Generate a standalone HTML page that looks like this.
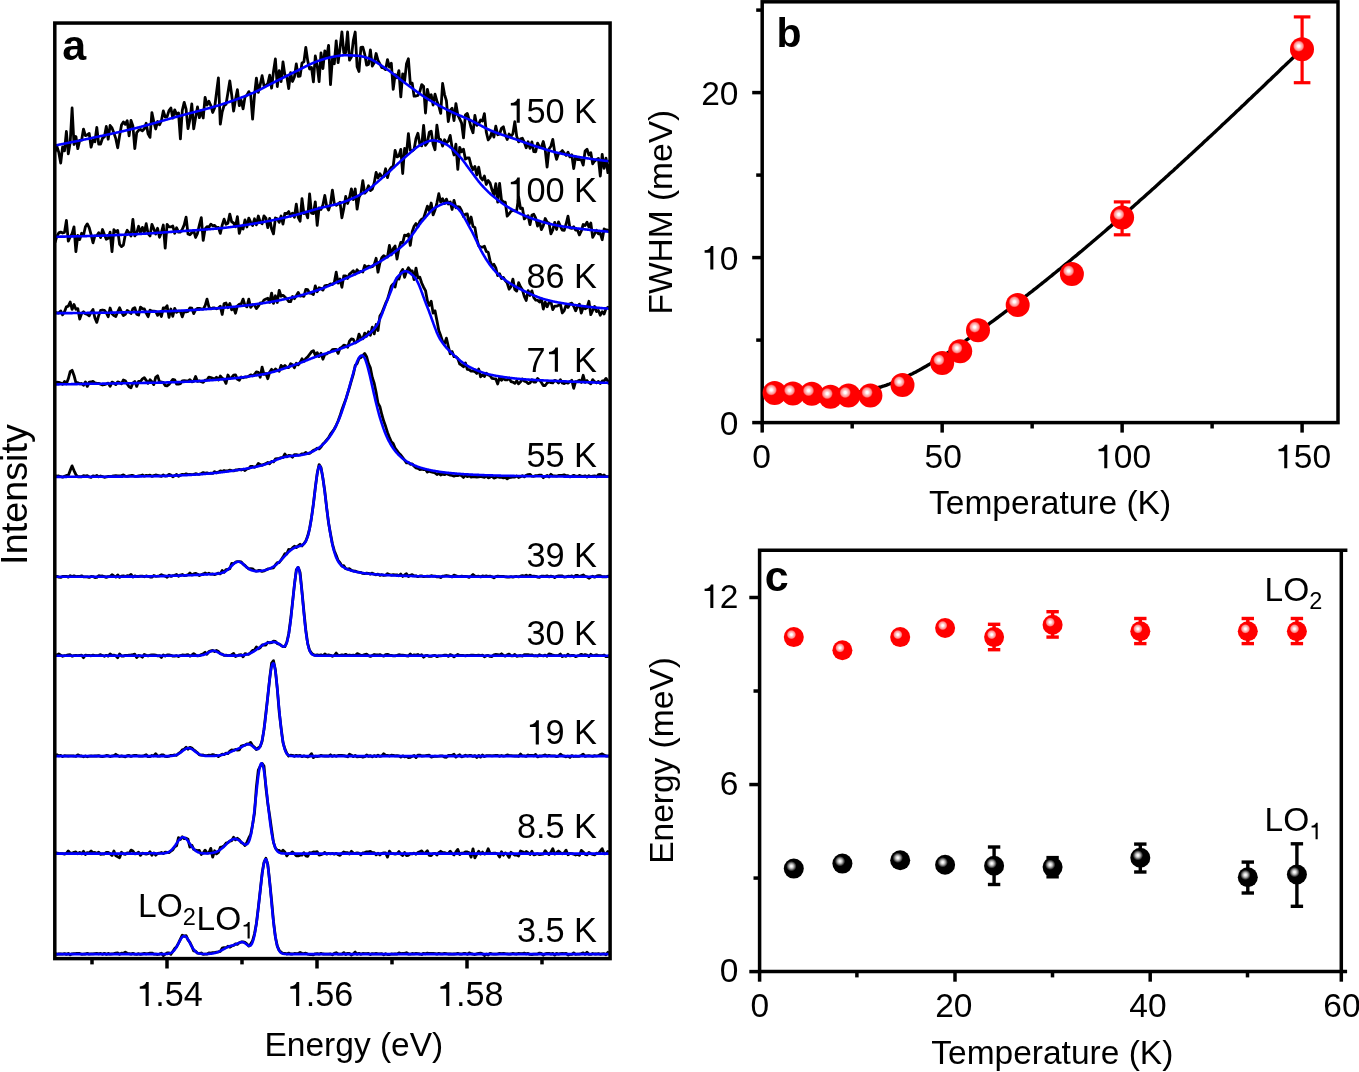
<!DOCTYPE html><html><head><meta charset="utf-8"><style>html,body{margin:0;padding:0;background:#fff;overflow:hidden}svg{display:block;will-change:transform}</style></head><body>
<svg width="1359" height="1072" viewBox="0 0 1359 1072" font-family='"Liberation Sans", sans-serif'>
<defs>
<radialGradient id="hr"><stop offset="0" stop-color="#fff"/><stop offset="0.18" stop-color="#fff"/><stop offset="0.45" stop-color="#ffc4c4"/><stop offset="0.75" stop-color="#ff8c8c"/><stop offset="0.9" stop-color="#ff3030"/><stop offset="1" stop-color="#f00"/></radialGradient>
<radialGradient id="hk"><stop offset="0" stop-color="#fff"/><stop offset="0.2" stop-color="#f0f0f0"/><stop offset="0.5" stop-color="#a8a8a8"/><stop offset="0.8" stop-color="#404040"/><stop offset="1" stop-color="#000"/></radialGradient>
<clipPath id="ca"><rect x="56" y="24" width="553" height="934"/></clipPath>
</defs>
<rect width="1359" height="1072" fill="#fff"/>
<g clip-path="url(#ca)" fill="none" stroke-linejoin="round">
<path d="M55.0 152.1L56.9 146.4L58.8 152.4L60.7 163.1L62.6 146.9L64.5 150.8L66.4 131.5L68.3 153.8L70.2 142.6L72.1 108.0L74.0 144.5L75.9 136.5L77.8 148.7L79.7 140.5L81.6 140.2L83.5 129.1L85.4 135.6L87.3 134.9L89.2 133.4L91.1 147.2L93.0 140.1L94.9 141.8L96.8 127.5L98.7 144.1L100.6 144.0L102.5 138.2L104.4 136.8L106.3 126.4L108.2 139.2L110.1 125.5L112.0 127.9L113.9 133.0L115.8 138.6L117.7 147.8L119.6 135.9L121.5 125.1L123.4 122.0L125.3 124.3L127.2 120.7L129.1 135.8L131.0 120.4L132.9 126.0L134.8 148.7L136.7 132.6L138.6 130.3L140.5 129.5L142.4 130.8L144.3 128.7L146.2 123.2L148.1 133.9L150.0 137.4L151.9 112.6L153.8 121.9L155.7 129.0L157.6 121.5L159.5 124.8L161.4 120.7L163.3 110.9L165.2 117.0L167.1 116.7L169.0 110.6L170.9 108.0L172.8 118.2L174.7 109.9L176.6 114.4L178.5 112.9L180.4 138.8L182.3 110.4L184.2 102.3L186.1 109.2L188.0 128.7L189.9 119.4L191.8 104.0L193.7 128.8L195.6 117.5L197.5 107.0L199.4 117.7L201.3 111.0L203.2 118.0L205.1 97.4L207.0 105.1L208.9 101.3L210.8 105.5L212.7 112.5L214.6 108.0L216.5 92.7L218.4 77.9L220.3 124.2L222.2 111.8L224.1 105.5L226.0 104.4L227.9 93.0L229.8 81.0L231.7 95.0L233.6 111.0L235.5 99.4L237.4 89.7L239.3 105.7L241.2 100.3L243.1 108.9L245.0 96.9L246.9 95.2L248.8 91.6L250.7 94.9L252.6 119.1L254.5 95.1L256.4 78.1L258.3 92.3L260.2 84.7L262.1 75.7L264.0 85.7L265.9 85.5L267.8 83.6L269.7 75.2L271.6 88.2L273.5 71.5L275.4 59.0L277.3 86.5L279.2 70.7L281.1 81.6L283.0 62.0L284.9 75.1L286.8 76.4L288.7 88.5L290.6 72.6L292.5 81.5L294.4 77.0L296.3 64.0L298.2 76.3L300.1 76.0L302.0 63.0L303.9 61.9L305.8 47.4L307.7 60.6L309.6 69.0L311.5 67.4L313.4 81.9L315.3 56.0L317.2 65.7L319.1 81.7L321.0 52.8L322.9 68.7L324.8 50.9L326.7 56.9L328.6 45.3L330.5 84.7L332.4 58.8L334.3 63.8L336.2 40.9L338.1 62.7L340.0 48.3L341.9 32.0L343.8 52.7L345.7 52.5L347.6 32.0L349.5 60.2L351.4 57.1L353.3 40.6L355.2 32.0L357.1 66.7L359.0 71.5L360.9 47.5L362.8 47.2L364.7 54.1L366.6 65.1L368.5 64.4L370.4 49.9L372.3 66.1L374.2 62.9L376.1 53.5L378.0 60.3L379.9 63.9L381.8 67.7L383.7 67.9L385.6 69.6L387.5 59.6L389.4 67.1L391.3 63.2L393.2 89.3L395.1 74.7L397.0 77.8L398.9 70.6L400.8 96.9L402.7 73.9L404.6 81.1L406.5 63.8L408.4 58.8L410.3 83.7L412.2 83.1L414.1 96.2L416.0 96.0L417.9 95.4L419.8 91.7L421.7 84.6L423.6 86.3L425.5 113.0L427.4 89.3L429.3 97.9L431.2 94.8L433.1 105.1L435.0 94.2L436.9 100.9L438.8 106.0L440.7 113.4L442.6 83.5L444.5 94.3L446.4 100.7L448.3 121.6L450.2 110.4L452.1 108.3L454.0 120.6L455.9 103.6L457.8 114.8L459.7 118.9L461.6 123.1L463.5 137.9L465.4 114.9L467.3 113.5L469.2 120.1L471.1 127.6L473.0 132.8L474.9 115.5L476.8 125.3L478.7 123.8L480.6 120.0L482.5 121.0L484.4 113.7L486.3 132.1L488.2 140.0L490.1 137.5L492.0 131.7L493.9 137.1L495.8 126.2L497.7 134.8L499.6 134.0L501.5 128.3L503.4 126.7L505.3 134.9L507.2 139.5L509.1 134.0L511.0 136.5L512.9 133.7L514.8 121.6L516.7 136.1L518.6 141.9L520.5 138.9L522.4 138.3L524.3 142.3L526.2 147.8L528.1 141.8L530.0 148.4L531.9 141.9L533.8 151.7L535.7 151.8L537.6 143.1L539.5 147.1L541.4 147.1L543.3 141.5L545.2 149.7L547.1 167.1L549.0 149.0L550.9 146.2L552.8 139.4L554.7 152.0L556.6 159.3L558.5 153.5L560.4 152.6L562.3 150.6L564.2 153.1L566.1 155.5L568.0 152.3L569.9 156.9L571.8 154.8L573.7 168.5L575.6 156.7L577.5 159.5L579.4 159.5L581.3 159.8L583.2 165.1L585.1 151.0L587.0 149.3L588.9 155.0L590.8 152.7L592.7 163.8L594.6 161.0L596.5 159.7L598.4 158.4L600.3 176.0L602.2 154.4L604.1 168.3L606.0 158.2L607.9 172.7L609.8 163.9" stroke="#000" stroke-width="2.8"/>
<path d="M55.0 242.5L56.9 236.2L58.8 232.9L60.7 232.1L62.6 233.0L64.5 232.4L66.4 220.4L68.3 241.1L70.2 236.9L72.1 233.6L74.0 226.9L75.9 251.6L77.8 235.5L79.7 239.6L81.6 233.3L83.5 235.2L85.4 226.7L87.3 223.9L89.2 227.7L91.1 234.6L93.0 242.8L94.9 235.9L96.8 235.7L98.7 232.7L100.6 237.6L102.5 229.5L104.4 234.6L106.3 239.2L108.2 238.3L110.1 232.1L112.0 251.6L113.9 229.6L115.8 232.0L117.7 230.4L119.6 244.3L121.5 246.6L123.4 245.1L125.3 234.7L127.2 230.3L129.1 232.8L131.0 236.1L132.9 219.3L134.8 235.9L136.7 233.1L138.6 226.3L140.5 232.6L142.4 227.4L144.3 232.4L146.2 223.7L148.1 233.6L150.0 235.9L151.9 224.4L153.8 228.7L155.7 234.1L157.6 228.3L159.5 237.3L161.4 232.4L163.3 225.0L165.2 248.2L167.1 224.5L169.0 226.8L170.9 226.9L172.8 226.0L174.7 233.3L176.6 227.8L178.5 232.1L180.4 232.0L182.3 229.3L184.2 224.9L186.1 217.2L188.0 234.0L189.9 234.8L191.8 232.7L193.7 230.6L195.6 237.5L197.5 233.3L199.4 224.9L201.3 217.7L203.2 240.4L205.1 228.8L207.0 226.6L208.9 227.3L210.8 224.1L212.7 225.8L214.6 225.3L216.5 227.7L218.4 227.3L220.3 233.4L222.2 225.1L224.1 219.2L226.0 224.2L227.9 223.2L229.8 214.1L231.7 221.8L233.6 223.0L235.5 226.7L237.4 216.6L239.3 233.4L241.2 226.3L243.1 229.0L245.0 219.8L246.9 227.0L248.8 218.1L250.7 222.1L252.6 225.5L254.5 218.8L256.4 224.8L258.3 216.0L260.2 222.0L262.1 223.7L264.0 215.9L265.9 218.1L267.8 227.7L269.7 218.4L271.6 229.1L273.5 233.9L275.4 218.0L277.3 218.7L279.2 222.4L281.1 216.0L283.0 224.1L284.9 213.3L286.8 213.7L288.7 211.6L290.6 216.2L292.5 213.1L294.4 217.2L296.3 204.1L298.2 217.4L300.1 221.2L302.0 198.7L303.9 213.6L305.8 212.1L307.7 217.9L309.6 193.9L311.5 213.1L313.4 213.6L315.3 201.8L317.2 225.4L319.1 207.8L321.0 209.4L322.9 205.0L324.8 195.4L326.7 206.2L328.6 210.0L330.5 203.8L332.4 190.2L334.3 203.5L336.2 205.3L338.1 204.0L340.0 202.2L341.9 217.8L343.8 208.4L345.7 196.5L347.6 203.5L349.5 197.5L351.4 188.8L353.3 199.6L355.2 188.9L357.1 209.2L359.0 197.3L360.9 193.6L362.8 180.7L364.7 193.2L366.6 191.3L368.5 185.8L370.4 190.6L372.3 189.2L374.2 182.9L376.1 172.5L378.0 178.0L379.9 173.8L381.8 176.7L383.7 176.6L385.6 168.8L387.5 177.6L389.4 170.2L391.3 167.4L393.2 166.3L395.1 150.4L397.0 156.9L398.9 156.0L400.8 149.4L402.7 173.5L404.6 148.5L406.5 153.7L408.4 133.6L410.3 150.3L412.2 150.8L414.1 149.3L416.0 138.4L417.9 133.3L419.8 144.3L421.7 145.8L423.6 125.5L425.5 145.3L427.4 142.6L429.3 132.3L431.2 131.2L433.1 144.1L435.0 149.7L436.9 125.1L438.8 138.5L440.7 139.6L442.6 146.1L444.5 139.8L446.4 143.0L448.3 141.3L450.2 135.4L452.1 147.6L454.0 155.0L455.9 144.2L457.8 169.4L459.7 147.3L461.6 151.7L463.5 149.2L465.4 159.2L467.3 157.9L469.2 158.0L471.1 165.6L473.0 169.6L474.9 166.5L476.8 174.9L478.7 167.2L480.6 177.7L482.5 179.9L484.4 176.0L486.3 184.5L488.2 180.5L490.1 183.1L492.0 189.8L493.9 194.8L495.8 183.7L497.7 202.0L499.6 183.3L501.5 200.1L503.4 201.8L505.3 202.2L507.2 216.2L509.1 213.9L511.0 211.2L512.9 210.4L514.8 210.9L516.7 210.6L518.6 197.1L520.5 208.5L522.4 208.1L524.3 218.9L526.2 217.0L528.1 215.7L530.0 224.7L531.9 215.0L533.8 214.3L535.7 218.2L537.6 226.1L539.5 221.4L541.4 229.6L543.3 225.7L545.2 218.5L547.1 222.2L549.0 223.1L550.9 233.8L552.8 229.9L554.7 222.4L556.6 229.5L558.5 221.9L560.4 226.3L562.3 230.2L564.2 230.4L566.1 224.0L568.0 216.1L569.9 227.8L571.8 228.4L573.7 226.7L575.6 230.1L577.5 229.9L579.4 234.9L581.3 231.0L583.2 224.5L585.1 225.5L587.0 222.3L588.9 227.0L590.8 223.0L592.7 237.3L594.6 233.8L596.5 230.3L598.4 233.9L600.3 233.3L602.2 239.7L604.1 229.0L606.0 229.9L607.9 230.2L609.8 232.2" stroke="#000" stroke-width="2.8"/>
<path d="M55.0 312.0L56.9 312.9L58.8 313.0L60.7 310.9L62.6 314.8L64.5 311.8L66.4 306.8L68.3 306.2L70.2 302.0L72.1 309.4L74.0 304.5L75.9 309.3L77.8 308.6L79.7 319.1L81.6 313.5L83.5 311.8L85.4 313.7L87.3 314.4L89.2 315.8L91.1 312.2L93.0 309.5L94.9 317.9L96.8 322.4L98.7 315.4L100.6 310.4L102.5 310.0L104.4 310.4L106.3 312.9L108.2 316.7L110.1 308.0L112.0 313.7L113.9 315.6L115.8 316.5L117.7 311.8L119.6 307.8L121.5 312.0L123.4 315.5L125.3 314.3L127.2 310.4L129.1 311.9L131.0 313.5L132.9 308.8L134.8 307.7L136.7 314.2L138.6 315.1L140.5 307.1L142.4 308.6L144.3 308.8L146.2 313.2L148.1 316.7L150.0 310.2L151.9 311.1L153.8 311.2L155.7 311.5L157.6 315.4L159.5 312.2L161.4 316.5L163.3 307.9L165.2 308.4L167.1 305.7L169.0 317.4L170.9 309.0L172.8 316.3L174.7 308.3L176.6 312.3L178.5 311.1L180.4 311.2L182.3 316.9L184.2 311.1L186.1 311.9L188.0 311.4L189.9 307.8L191.8 308.1L193.7 313.6L195.6 309.9L197.5 308.3L199.4 308.3L201.3 308.8L203.2 309.1L205.1 305.8L207.0 299.2L208.9 306.9L210.8 308.9L212.7 307.9L214.6 307.9L216.5 308.8L218.4 308.0L220.3 306.2L222.2 314.5L224.1 303.5L226.0 303.0L227.9 307.7L229.8 303.5L231.7 309.8L233.6 307.7L235.5 313.2L237.4 306.0L239.3 304.2L241.2 304.0L243.1 299.1L245.0 305.4L246.9 306.8L248.8 299.2L250.7 307.4L252.6 304.6L254.5 305.0L256.4 308.5L258.3 306.2L260.2 302.9L262.1 303.1L264.0 299.9L265.9 299.0L267.8 298.3L269.7 302.4L271.6 293.1L273.5 303.4L275.4 295.8L277.3 302.5L279.2 290.3L281.1 296.2L283.0 295.3L284.9 297.1L286.8 298.7L288.7 301.6L290.6 301.7L292.5 296.5L294.4 298.7L296.3 295.7L298.2 292.4L300.1 296.1L302.0 295.4L303.9 296.4L305.8 289.4L307.7 289.7L309.6 293.1L311.5 293.3L313.4 294.5L315.3 285.9L317.2 291.7L319.1 287.8L321.0 288.4L322.9 290.1L324.8 285.9L326.7 285.3L328.6 285.1L330.5 283.8L332.4 284.5L334.3 282.4L336.2 272.2L338.1 283.1L340.0 279.0L341.9 287.3L343.8 275.8L345.7 275.9L347.6 278.4L349.5 274.1L351.4 272.6L353.3 270.7L355.2 274.1L357.1 269.7L359.0 272.4L360.9 271.3L362.8 272.0L364.7 265.5L366.6 267.8L368.5 266.1L370.4 267.0L372.3 266.7L374.2 264.7L376.1 258.3L378.0 272.2L379.9 262.9L381.8 257.8L383.7 255.7L385.6 256.9L387.5 257.0L389.4 245.5L391.3 254.9L393.2 248.6L395.1 246.0L397.0 259.1L398.9 248.6L400.8 242.4L402.7 242.8L404.6 235.2L406.5 235.6L408.4 234.0L410.3 245.4L412.2 231.6L414.1 226.3L416.0 223.6L417.9 226.8L419.8 221.5L421.7 219.2L423.6 218.1L425.5 212.2L427.4 206.2L429.3 210.7L431.2 203.0L433.1 214.9L435.0 209.9L436.9 203.1L438.8 193.7L440.7 202.2L442.6 198.7L444.5 203.6L446.4 199.1L448.3 204.0L450.2 201.9L452.1 209.5L454.0 200.3L455.9 207.7L457.8 206.6L459.7 207.1L461.6 210.6L463.5 216.5L465.4 214.2L467.3 214.0L469.2 224.2L471.1 217.0L473.0 226.5L474.9 227.4L476.8 238.8L478.7 245.9L480.6 246.8L482.5 247.2L484.4 246.2L486.3 251.4L488.2 252.2L490.1 260.9L492.0 266.1L493.9 264.3L495.8 267.9L497.7 275.6L499.6 273.8L501.5 278.5L503.4 277.4L505.3 280.6L507.2 283.0L509.1 289.2L511.0 286.7L512.9 279.1L514.8 289.4L516.7 291.1L518.6 282.7L520.5 286.8L522.4 289.8L524.3 296.3L526.2 300.5L528.1 290.6L530.0 295.5L531.9 290.9L533.8 297.7L535.7 300.1L537.6 300.2L539.5 302.0L541.4 298.7L543.3 309.0L545.2 302.2L547.1 306.8L549.0 302.6L550.9 301.7L552.8 309.7L554.7 306.1L556.6 306.2L558.5 305.2L560.4 304.1L562.3 313.0L564.2 310.6L566.1 305.0L568.0 307.5L569.9 303.8L571.8 303.2L573.7 306.3L575.6 310.8L577.5 306.6L579.4 304.2L581.3 313.1L583.2 307.2L585.1 308.8L587.0 307.7L588.9 301.3L590.8 314.7L592.7 310.5L594.6 306.4L596.5 311.6L598.4 310.5L600.3 315.2L602.2 311.7L604.1 314.0L606.0 308.6L607.9 307.3L609.8 309.1" stroke="#000" stroke-width="2.8"/>
<path d="M55.0 384.4L56.9 382.2L58.8 382.3L60.7 383.0L62.6 384.2L64.5 381.5L66.4 383.8L68.3 378.8L70.2 371.7L72.1 370.3L74.0 375.4L75.9 382.6L77.8 382.7L79.7 383.8L81.6 383.5L83.5 385.2L85.4 381.9L87.3 386.4L89.2 382.1L91.1 382.0L93.0 381.4L94.9 382.8L96.8 383.3L98.7 383.4L100.6 384.2L102.5 385.0L104.4 384.6L106.3 384.0L108.2 383.1L110.1 386.3L112.0 382.1L113.9 383.1L115.8 384.6L117.7 381.9L119.6 382.6L121.5 383.8L123.4 380.0L125.3 380.7L127.2 384.0L129.1 386.8L131.0 387.8L132.9 383.1L134.8 381.5L136.7 386.4L138.6 381.3L140.5 381.5L142.4 378.9L144.3 377.7L146.2 380.3L148.1 383.4L150.0 379.8L151.9 381.8L153.8 384.6L155.7 377.4L157.6 375.7L159.5 381.8L161.4 382.0L163.3 382.4L165.2 385.5L167.1 385.8L169.0 384.4L170.9 381.8L172.8 379.5L174.7 379.8L176.6 384.1L178.5 384.2L180.4 383.7L182.3 380.8L184.2 380.6L186.1 380.9L188.0 381.2L189.9 379.7L191.8 381.8L193.7 381.3L195.6 376.5L197.5 381.4L199.4 380.9L201.3 381.7L203.2 382.3L205.1 380.2L207.0 380.0L208.9 377.1L210.8 377.5L212.7 378.3L214.6 379.1L216.5 377.2L218.4 380.1L220.3 376.0L222.2 378.1L224.1 379.3L226.0 383.4L227.9 375.0L229.8 378.4L231.7 377.5L233.6 375.2L235.5 374.8L237.4 379.3L239.3 380.3L241.2 376.9L243.1 377.8L245.0 377.0L246.9 377.1L248.8 376.2L250.7 374.8L252.6 375.9L254.5 374.5L256.4 371.8L258.3 372.4L260.2 377.3L262.1 367.1L264.0 374.4L265.9 373.5L267.8 378.7L269.7 372.0L271.6 369.3L273.5 371.5L275.4 369.0L277.3 370.4L279.2 371.2L281.1 365.4L283.0 367.2L284.9 365.4L286.8 367.5L288.7 367.7L290.6 363.8L292.5 364.8L294.4 367.8L296.3 363.3L298.2 364.8L300.1 362.3L302.0 358.8L303.9 361.4L305.8 358.5L307.7 356.9L309.6 354.4L311.5 351.8L313.4 350.6L315.3 355.2L317.2 352.7L319.1 356.6L321.0 353.2L322.9 359.2L324.8 354.5L326.7 354.0L328.6 352.4L330.5 351.9L332.4 349.7L334.3 349.3L336.2 349.5L338.1 353.4L340.0 348.2L341.9 347.2L343.8 345.1L345.7 345.5L347.6 347.3L349.5 341.1L351.4 338.8L353.3 339.4L355.2 342.9L357.1 341.6L359.0 334.2L360.9 338.0L362.8 338.8L364.7 333.1L366.6 336.2L368.5 331.8L370.4 335.2L372.3 327.1L374.2 333.9L376.1 324.5L378.0 330.5L379.9 316.0L381.8 313.1L383.7 308.3L385.6 303.4L387.5 299.3L389.4 292.9L391.3 286.1L393.2 284.0L395.1 287.0L397.0 277.8L398.9 279.1L400.8 272.5L402.7 269.4L404.6 277.3L406.5 271.5L408.4 267.8L410.3 270.6L412.2 270.8L414.1 279.6L416.0 268.1L417.9 278.0L419.8 277.1L421.7 283.0L423.6 287.2L425.5 290.6L427.4 300.8L429.3 305.5L431.2 301.2L433.1 313.1L435.0 310.8L436.9 320.5L438.8 330.5L440.7 335.6L442.6 341.5L444.5 343.7L446.4 338.1L448.3 346.2L450.2 353.9L452.1 351.5L454.0 356.7L455.9 356.7L457.8 358.6L459.7 364.1L461.6 365.1L463.5 366.8L465.4 362.9L467.3 369.4L469.2 369.6L471.1 371.2L473.0 370.9L474.9 371.6L476.8 373.4L478.7 369.0L480.6 376.9L482.5 374.9L484.4 376.5L486.3 373.2L488.2 375.0L490.1 375.7L492.0 378.3L493.9 378.7L495.8 379.0L497.7 384.0L499.6 377.0L501.5 380.3L503.4 378.3L505.3 379.8L507.2 379.9L509.1 378.0L511.0 381.6L512.9 382.1L514.8 383.3L516.7 380.8L518.6 383.9L520.5 381.9L522.4 379.0L524.3 381.1L526.2 381.8L528.1 383.6L530.0 382.9L531.9 379.8L533.8 382.0L535.7 382.2L537.6 378.5L539.5 380.2L541.4 382.4L543.3 385.5L545.2 385.5L547.1 383.0L549.0 381.8L550.9 382.6L552.8 382.9L554.7 380.4L556.6 381.1L558.5 383.0L560.4 379.6L562.3 383.0L564.2 383.6L566.1 382.4L568.0 383.2L569.9 381.7L571.8 380.3L573.7 388.3L575.6 381.6L577.5 381.3L579.4 380.3L581.3 382.4L583.2 375.3L585.1 382.4L587.0 380.6L588.9 382.6L590.8 383.8L592.7 379.6L594.6 381.6L596.5 382.8L598.4 381.5L600.3 383.4L602.2 381.0L604.1 380.9L606.0 378.4L607.9 381.1L609.8 384.3" stroke="#000" stroke-width="2.8"/>
<path d="M55.0 475.7L56.9 476.2L58.8 476.0L60.7 476.5L62.6 477.2L64.5 476.2L66.4 475.5L68.3 475.5L70.2 470.4L72.1 465.9L74.0 470.6L75.9 474.7L77.8 476.8L79.7 476.6L81.6 476.8L83.5 475.6L85.4 476.2L87.3 475.7L89.2 477.0L91.1 477.4L93.0 475.8L94.9 476.4L96.8 475.5L98.7 476.8L100.6 476.0L102.5 476.6L104.4 477.3L106.3 476.8L108.2 476.5L110.1 476.3L112.0 476.1L113.9 475.8L115.8 475.7L117.7 475.9L119.6 476.0L121.5 475.5L123.4 474.9L125.3 476.1L127.2 476.4L129.1 475.9L131.0 475.5L132.9 475.5L134.8 476.3L136.7 476.3L138.6 476.0L140.5 475.7L142.4 475.0L144.3 476.2L146.2 475.4L148.1 475.7L150.0 475.2L151.9 476.4L153.8 475.6L155.7 475.0L157.6 475.3L159.5 475.8L161.4 476.4L163.3 475.0L165.2 476.1L167.1 475.8L169.0 474.3L170.9 475.1L172.8 476.8L174.7 475.6L176.6 474.4L178.5 476.4L180.4 475.0L182.3 474.3L184.2 474.7L186.1 473.8L188.0 474.6L189.9 474.5L191.8 474.6L193.7 474.4L195.6 473.7L197.5 474.1L199.4 474.3L201.3 473.5L203.2 472.6L205.1 473.4L207.0 472.8L208.9 473.5L210.8 473.1L212.7 473.4L214.6 471.6L216.5 472.9L218.4 472.1L220.3 470.9L222.2 471.4L224.1 470.5L226.0 471.0L227.9 470.8L229.8 470.2L231.7 470.7L233.6 470.9L235.5 470.0L237.4 470.0L239.3 469.4L241.2 470.0L243.1 469.2L245.0 470.5L246.9 469.0L248.8 468.4L250.7 466.3L252.6 466.5L254.5 467.3L256.4 466.5L258.3 463.4L260.2 464.7L262.1 465.3L264.0 464.3L265.9 463.7L267.8 462.5L269.7 463.7L271.6 461.3L273.5 461.9L275.4 458.9L277.3 458.6L279.2 458.3L281.1 457.7L283.0 457.5L284.9 454.0L286.8 456.8L288.7 455.4L290.6 455.7L292.5 457.2L294.4 454.6L296.3 454.6L298.2 455.2L300.1 454.9L302.0 453.8L303.9 453.8L305.8 452.5L307.7 453.6L309.6 453.3L311.5 451.9L313.4 450.3L315.3 449.6L317.2 448.2L319.1 448.9L321.0 447.0L322.9 444.0L324.8 442.2L326.7 440.0L328.6 437.7L330.5 434.1L332.4 431.6L334.3 429.0L336.2 425.3L338.1 421.0L340.0 415.8L341.9 409.7L343.8 404.6L345.7 399.6L347.6 393.5L349.5 387.4L351.4 380.7L353.3 374.4L355.2 365.5L357.1 363.5L359.0 358.6L360.9 357.6L362.8 355.4L364.7 353.4L366.6 356.7L368.5 363.6L370.4 367.9L372.3 377.5L374.2 383.2L376.1 392.3L378.0 403.2L379.9 406.7L381.8 414.5L383.7 421.1L385.6 426.3L387.5 432.4L389.4 437.2L391.3 441.7L393.2 443.6L395.1 448.0L397.0 450.5L398.9 453.2L400.8 455.1L402.7 457.7L404.6 460.2L406.5 462.8L408.4 462.5L410.3 464.3L412.2 463.9L414.1 466.3L416.0 467.9L417.9 468.4L419.8 469.5L421.7 469.2L423.6 469.5L425.5 469.4L427.4 472.1L429.3 471.1L431.2 471.9L433.1 472.3L435.0 473.0L436.9 474.5L438.8 473.2L440.7 475.1L442.6 474.1L444.5 474.7L446.4 473.5L448.3 474.4L450.2 475.1L452.1 475.5L454.0 476.1L455.9 475.5L457.8 475.6L459.7 474.8L461.6 475.8L463.5 477.4L465.4 475.3L467.3 476.7L469.2 475.7L471.1 477.1L473.0 476.7L474.9 476.9L476.8 477.0L478.7 476.9L480.6 476.4L482.5 477.0L484.4 477.4L486.3 475.9L488.2 477.9L490.1 477.1L492.0 476.0L493.9 478.1L495.8 477.4L497.7 476.7L499.6 477.4L501.5 477.1L503.4 477.9L505.3 477.4L507.2 478.8L509.1 477.6L511.0 477.4L512.9 477.0L514.8 477.1L516.7 476.0L518.6 477.5L520.5 476.7L522.4 475.7L524.3 476.9L526.2 475.3L528.1 474.6L530.0 474.3L531.9 476.2L533.8 476.3L535.7 475.6L537.6 475.7L539.5 475.1L541.4 475.2L543.3 477.7L545.2 476.4L547.1 475.5L549.0 476.9L550.9 474.3L552.8 475.9L554.7 475.8L556.6 476.1L558.5 475.5L560.4 475.4L562.3 475.4L564.2 474.8L566.1 475.7L568.0 475.7L569.9 476.8L571.8 476.3L573.7 475.3L575.6 476.2L577.5 476.5L579.4 475.4L581.3 476.2L583.2 476.4L585.1 475.8L587.0 477.0L588.9 475.6L590.8 476.7L592.7 476.1L594.6 475.8L596.5 476.9L598.4 474.6L600.3 474.3L602.2 476.2L604.1 475.0L606.0 476.5L607.9 476.7L609.8 476.6" stroke="#000" stroke-width="2.8"/>
<path d="M55.0 577.0L56.9 576.4L58.8 577.1L60.7 577.4L62.6 576.4L64.5 576.3L66.4 576.3L68.3 577.1L70.2 575.7L72.1 576.6L74.0 575.8L75.9 576.6L77.8 576.4L79.7 576.5L81.6 575.8L83.5 576.9L85.4 576.8L87.3 576.8L89.2 577.4L91.1 576.4L93.0 576.6L94.9 577.5L96.8 577.4L98.7 575.7L100.6 576.2L102.5 576.0L104.4 576.6L106.3 577.4L108.2 576.6L110.1 576.5L112.0 574.7L113.9 576.0L115.8 577.1L117.7 574.9L119.6 577.4L121.5 576.2L123.4 575.8L125.3 576.6L127.2 575.7L129.1 576.0L131.0 574.4L132.9 577.0L134.8 575.9L136.7 576.5L138.6 576.5L140.5 576.2L142.4 576.1L144.3 576.8L146.2 575.9L148.1 576.5L150.0 577.0L151.9 577.2L153.8 575.5L155.7 576.3L157.6 576.2L159.5 575.8L161.4 574.7L163.3 575.5L165.2 576.1L167.1 577.2L169.0 575.3L170.9 576.4L172.8 575.7L174.7 575.3L176.6 574.4L178.5 576.2L180.4 575.0L182.3 574.5L184.2 575.5L186.1 575.4L188.0 574.7L189.9 573.0L191.8 574.9L193.7 573.9L195.6 573.4L197.5 574.2L199.4 575.5L201.3 574.7L203.2 573.9L205.1 573.0L207.0 574.0L208.9 573.2L210.8 574.2L212.7 574.0L214.6 574.6L216.5 574.0L218.4 573.1L220.3 573.9L222.2 570.5L224.1 572.3L226.0 569.7L227.9 569.5L229.8 568.8L231.7 563.4L233.6 563.8L235.5 562.2L237.4 561.6L239.3 561.6L241.2 561.9L243.1 564.1L245.0 565.5L246.9 567.4L248.8 568.8L250.7 568.6L252.6 568.9L254.5 570.6L256.4 571.2L258.3 570.5L260.2 570.4L262.1 571.4L264.0 571.0L265.9 569.9L267.8 568.9L269.7 568.5L271.6 568.0L273.5 567.8L275.4 565.0L277.3 562.7L279.2 562.5L281.1 560.0L283.0 557.1L284.9 553.6L286.8 553.9L288.7 549.4L290.6 549.9L292.5 547.9L294.4 546.2L296.3 547.6L298.2 545.9L300.1 544.3L302.0 545.9L303.9 543.7L305.8 541.1L307.7 536.1L309.6 528.5L311.5 517.4L313.4 504.0L315.3 487.7L317.2 473.4L319.1 464.6L321.0 467.6L322.9 478.2L324.8 491.2L326.7 508.1L328.6 523.3L330.5 533.8L332.4 543.8L334.3 550.7L336.2 555.2L338.1 560.4L340.0 562.6L341.9 566.2L343.8 565.7L345.7 568.7L347.6 569.1L349.5 568.7L351.4 570.4L353.3 571.0L355.2 571.1L357.1 571.8L359.0 572.2L360.9 572.5L362.8 573.4L364.7 573.7L366.6 573.2L368.5 573.4L370.4 574.1L372.3 573.1L374.2 574.2L376.1 574.8L378.0 574.1L379.9 575.3L381.8 574.7L383.7 575.4L385.6 575.2L387.5 573.6L389.4 574.7L391.3 575.1L393.2 574.7L395.1 574.8L397.0 574.8L398.9 575.8L400.8 574.1L402.7 576.5L404.6 575.0L406.5 573.7L408.4 576.5L410.3 575.3L412.2 574.7L414.1 575.9L416.0 575.9L417.9 576.7L419.8 576.0L421.7 575.9L423.6 576.7L425.5 576.3L427.4 576.2L429.3 576.4L431.2 575.7L433.1 576.2L435.0 576.2L436.9 576.8L438.8 576.7L440.7 577.6L442.6 576.2L444.5 575.9L446.4 575.5L448.3 575.9L450.2 576.3L452.1 576.9L454.0 575.1L455.9 575.8L457.8 576.6L459.7 576.6L461.6 576.2L463.5 576.5L465.4 576.3L467.3 576.7L469.2 577.3L471.1 576.3L473.0 574.5L474.9 576.1L476.8 576.4L478.7 576.2L480.6 576.9L482.5 575.9L484.4 576.3L486.3 575.9L488.2 576.5L490.1 576.2L492.0 576.8L493.9 577.9L495.8 576.6L497.7 576.2L499.6 576.5L501.5 576.4L503.4 576.4L505.3 576.8L507.2 577.0L509.1 577.1L511.0 576.7L512.9 577.1L514.8 576.7L516.7 576.5L518.6 576.9L520.5 576.2L522.4 575.6L524.3 576.2L526.2 575.1L528.1 576.5L530.0 575.2L531.9 576.3L533.8 576.1L535.7 576.3L537.6 577.1L539.5 577.3L541.4 576.2L543.3 576.2L545.2 576.4L547.1 575.8L549.0 576.9L550.9 576.1L552.8 576.5L554.7 577.6L556.6 576.3L558.5 576.0L560.4 575.8L562.3 576.0L564.2 577.1L566.1 576.9L568.0 576.2L569.9 576.5L571.8 575.8L573.7 577.2L575.6 575.4L577.5 575.3L579.4 576.6L581.3 575.7L583.2 575.0L585.1 576.4L587.0 576.8L588.9 578.2L590.8 577.0L592.7 576.2L594.6 577.2L596.5 576.2L598.4 575.6L600.3 575.6L602.2 576.8L604.1 576.7L606.0 576.9L607.9 576.2L609.8 576.0" stroke="#000" stroke-width="2.8"/>
<path d="M55.0 654.2L56.9 655.2L58.8 653.9L60.7 655.1L62.6 656.3L64.5 655.6L66.4 655.3L68.3 654.8L70.2 654.7L72.1 656.3L74.0 655.6L75.9 655.4L77.8 655.6L79.7 655.3L81.6 655.2L83.5 657.7L85.4 655.2L87.3 655.3L89.2 655.4L91.1 655.8L93.0 655.1L94.9 655.6L96.8 655.6L98.7 655.3L100.6 654.7L102.5 655.5L104.4 656.3L106.3 655.3L108.2 656.1L110.1 653.9L112.0 655.3L113.9 655.2L115.8 655.8L117.7 657.7L119.6 654.0L121.5 656.0L123.4 656.1L125.3 655.4L127.2 655.5L129.1 655.1L131.0 654.9L132.9 654.6L134.8 654.2L136.7 657.6L138.6 655.5L140.5 655.8L142.4 657.2L144.3 654.4L146.2 655.3L148.1 655.9L150.0 655.2L151.9 655.0L153.8 654.8L155.7 655.2L157.6 655.8L159.5 655.6L161.4 657.5L163.3 654.9L165.2 656.0L167.1 655.0L169.0 654.9L170.9 655.3L172.8 656.1L174.7 656.2L176.6 655.7L178.5 656.6L180.4 655.6L182.3 655.0L184.2 655.2L186.1 655.0L188.0 654.7L189.9 656.2L191.8 655.2L193.7 653.7L195.6 655.0L197.5 655.9L199.4 655.7L201.3 654.5L203.2 653.9L205.1 652.2L207.0 654.2L208.9 651.5L210.8 650.8L212.7 650.5L214.6 651.5L216.5 650.5L218.4 651.5L220.3 653.6L222.2 654.1L224.1 655.4L226.0 655.2L227.9 655.6L229.8 655.5L231.7 654.7L233.6 653.4L235.5 656.5L237.4 655.7L239.3 654.9L241.2 654.7L243.1 656.8L245.0 653.6L246.9 654.2L248.8 654.3L250.7 652.5L252.6 650.4L254.5 650.0L256.4 646.9L258.3 648.9L260.2 647.8L262.1 645.0L264.0 645.0L265.9 645.0L267.8 642.2L269.7 642.9L271.6 642.6L273.5 641.2L275.4 641.4L277.3 643.7L279.2 644.1L281.1 645.3L283.0 646.6L284.9 646.6L286.8 642.2L288.7 633.7L290.6 619.8L292.5 602.7L294.4 585.1L296.3 569.9L298.2 567.4L300.1 572.6L302.0 591.6L303.9 611.5L305.8 630.0L307.7 643.6L309.6 650.4L311.5 653.1L313.4 654.7L315.3 655.3L317.2 654.8L319.1 655.4L321.0 654.8L322.9 655.7L324.8 654.0L326.7 655.4L328.6 654.9L330.5 655.3L332.4 656.3L334.3 655.5L336.2 653.1L338.1 655.4L340.0 655.3L341.9 654.8L343.8 655.4L345.7 654.3L347.6 655.4L349.5 655.0L351.4 655.4L353.3 655.1L355.2 655.7L357.1 653.6L359.0 654.4L360.9 655.3L362.8 655.4L364.7 654.6L366.6 654.2L368.5 655.7L370.4 656.4L372.3 655.4L374.2 654.5L376.1 654.9L378.0 655.0L379.9 654.6L381.8 655.5L383.7 656.2L385.6 654.6L387.5 654.3L389.4 655.1L391.3 655.3L393.2 655.8L395.1 655.9L397.0 655.4L398.9 654.7L400.8 655.1L402.7 655.1L404.6 655.4L406.5 655.8L408.4 656.0L410.3 654.0L412.2 655.7L414.1 654.9L416.0 655.1L417.9 654.5L419.8 655.6L421.7 654.8L423.6 657.2L425.5 655.7L427.4 655.5L429.3 656.4L431.2 656.3L433.1 655.7L435.0 655.3L436.9 656.7L438.8 655.9L440.7 655.8L442.6 655.6L444.5 655.1L446.4 655.1L448.3 656.4L450.2 654.6L452.1 655.3L454.0 656.8L455.9 655.6L457.8 654.4L459.7 655.4L461.6 655.4L463.5 655.5L465.4 655.9L467.3 655.3L469.2 655.6L471.1 655.2L473.0 655.2L474.9 655.4L476.8 655.4L478.7 655.1L480.6 655.6L482.5 655.1L484.4 656.8L486.3 655.7L488.2 655.5L490.1 656.4L492.0 656.5L493.9 654.8L495.8 654.5L497.7 654.6L499.6 655.1L501.5 653.8L503.4 655.4L505.3 656.2L507.2 654.9L509.1 654.1L511.0 655.8L512.9 655.9L514.8 654.5L516.7 656.3L518.6 655.8L520.5 655.5L522.4 656.1L524.3 654.7L526.2 654.6L528.1 654.7L530.0 655.1L531.9 654.8L533.8 655.9L535.7 655.7L537.6 656.1L539.5 654.7L541.4 655.5L543.3 655.9L545.2 655.1L547.1 656.2L549.0 653.9L550.9 654.4L552.8 655.2L554.7 655.7L556.6 655.7L558.5 655.5L560.4 654.1L562.3 656.6L564.2 655.7L566.1 656.3L568.0 654.3L569.9 655.8L571.8 655.5L573.7 655.4L575.6 656.7L577.5 656.0L579.4 655.2L581.3 654.3L583.2 655.5L585.1 654.6L587.0 655.0L588.9 656.6L590.8 654.3L592.7 655.6L594.6 655.4L596.5 654.8L598.4 655.6L600.3 655.6L602.2 655.6L604.1 655.0L606.0 656.6L607.9 656.5L609.8 655.3" stroke="#000" stroke-width="2.8"/>
<path d="M55.0 756.4L56.9 754.7L58.8 755.9L60.7 755.4L62.6 756.6L64.5 755.7L66.4 755.8L68.3 756.0L70.2 755.9L72.1 755.8L74.0 756.0L75.9 756.4L77.8 754.8L79.7 755.8L81.6 756.0L83.5 756.8L85.4 755.9L87.3 756.8L89.2 756.1L91.1 755.9L93.0 756.2L94.9 755.8L96.8 756.0L98.7 755.7L100.6 756.3L102.5 756.6L104.4 756.2L106.3 755.5L108.2 755.7L110.1 756.6L112.0 756.0L113.9 755.7L115.8 754.3L117.7 755.6L119.6 756.5L121.5 755.9L123.4 756.4L125.3 756.8L127.2 755.7L129.1 755.4L131.0 756.4L132.9 755.7L134.8 755.4L136.7 755.5L138.6 756.0L140.5 756.2L142.4 756.1L144.3 755.6L146.2 754.7L148.1 756.7L150.0 756.6L151.9 755.5L153.8 755.9L155.7 753.7L157.6 756.1L159.5 756.2L161.4 755.0L163.3 754.9L165.2 756.3L167.1 756.6L169.0 756.2L170.9 755.4L172.8 755.3L174.7 755.0L176.6 755.4L178.5 753.4L180.4 752.3L182.3 749.9L184.2 749.2L186.1 747.3L188.0 749.2L189.9 747.3L191.8 748.1L193.7 749.8L195.6 751.2L197.5 752.8L199.4 754.9L201.3 755.2L203.2 755.0L205.1 755.7L207.0 755.7L208.9 755.2L210.8 755.3L212.7 754.6L214.6 755.2L216.5 755.3L218.4 756.6L220.3 755.4L222.2 754.1L224.1 754.6L226.0 753.2L227.9 753.6L229.8 751.1L231.7 749.9L233.6 750.3L235.5 749.4L237.4 750.1L239.3 749.8L241.2 746.1L243.1 745.5L245.0 745.2L246.9 744.0L248.8 744.1L250.7 742.4L252.6 745.6L254.5 747.2L256.4 749.5L258.3 747.8L260.2 746.4L262.1 741.2L264.0 729.4L265.9 713.0L267.8 696.3L269.7 678.5L271.6 663.2L273.5 660.7L275.4 670.1L277.3 688.8L279.2 712.0L281.1 727.9L283.0 742.5L284.9 748.9L286.8 753.4L288.7 756.1L290.6 755.2L292.5 755.3L294.4 756.3L296.3 755.3L298.2 755.9L300.1 755.4L302.0 756.6L303.9 755.8L305.8 756.5L307.7 757.0L309.6 756.0L311.5 753.7L313.4 757.6L315.3 756.2L317.2 756.5L319.1 756.2L321.0 755.4L322.9 755.8L324.8 756.0L326.7 755.8L328.6 756.2L330.5 754.8L332.4 756.3L334.3 755.5L336.2 756.3L338.1 755.5L340.0 755.5L341.9 755.5L343.8 755.6L345.7 756.1L347.6 756.8L349.5 754.2L351.4 755.2L353.3 756.6L355.2 755.5L357.1 756.8L359.0 756.6L360.9 756.3L362.8 757.1L364.7 756.7L366.6 754.9L368.5 756.3L370.4 755.7L372.3 756.8L374.2 755.6L376.1 756.5L378.0 755.2L379.9 756.4L381.8 755.9L383.7 753.7L385.6 755.4L387.5 755.3L389.4 756.0L391.3 755.2L393.2 755.3L395.1 755.9L397.0 755.7L398.9 755.8L400.8 757.1L402.7 755.8L404.6 756.9L406.5 756.4L408.4 757.6L410.3 757.4L412.2 756.2L414.1 755.5L416.0 757.6L417.9 755.2L419.8 755.1L421.7 756.0L423.6 755.9L425.5 755.7L427.4 755.4L429.3 755.2L431.2 757.1L433.1 756.7L435.0 756.2L436.9 756.3L438.8 756.1L440.7 755.8L442.6 755.8L444.5 757.2L446.4 757.3L448.3 755.5L450.2 755.3L452.1 755.2L454.0 754.3L455.9 757.1L457.8 755.7L459.7 754.8L461.6 756.9L463.5 756.2L465.4 755.2L467.3 756.1L469.2 755.5L471.1 755.5L473.0 756.4L474.9 755.6L476.8 757.5L478.7 755.4L480.6 757.1L482.5 755.0L484.4 756.6L486.3 755.7L488.2 755.6L490.1 755.7L492.0 755.9L493.9 755.6L495.8 755.5L497.7 755.5L499.6 756.3L501.5 755.5L503.4 756.1L505.3 755.8L507.2 754.9L509.1 755.3L511.0 755.6L512.9 755.9L514.8 756.0L516.7 755.8L518.6 756.4L520.5 754.1L522.4 755.9L524.3 755.8L526.2 756.4L528.1 755.0L530.0 755.5L531.9 755.3L533.8 755.9L535.7 754.5L537.6 756.9L539.5 755.9L541.4 756.1L543.3 755.5L545.2 754.9L547.1 756.1L549.0 755.4L550.9 755.8L552.8 755.9L554.7 755.9L556.6 756.7L558.5 756.1L560.4 754.1L562.3 755.6L564.2 756.2L566.1 756.8L568.0 756.1L569.9 757.4L571.8 755.6L573.7 756.5L575.6 756.1L577.5 756.4L579.4 756.3L581.3 755.5L583.2 754.1L585.1 756.4L587.0 755.8L588.9 755.6L590.8 756.0L592.7 756.4L594.6 755.6L596.5 756.0L598.4 755.6L600.3 754.5L602.2 753.9L604.1 755.1L606.0 756.0L607.9 756.2L609.8 755.9" stroke="#000" stroke-width="2.8"/>
<path d="M55.0 852.9L56.9 853.0L58.8 853.4L60.7 853.7L62.6 853.7L64.5 854.1L66.4 853.3L68.3 851.0L70.2 853.2L72.1 853.2L74.0 852.3L75.9 852.0L77.8 853.7L79.7 852.4L81.6 853.8L83.5 851.3L85.4 854.5L87.3 852.6L89.2 853.0L91.1 851.0L93.0 852.8L94.9 852.5L96.8 853.5L98.7 852.2L100.6 854.4L102.5 853.8L104.4 854.0L106.3 852.4L108.2 852.4L110.1 853.7L112.0 855.6L113.9 851.0L115.8 855.8L117.7 856.7L119.6 857.7L121.5 852.2L123.4 853.8L125.3 854.3L127.2 852.9L129.1 853.4L131.0 850.1L132.9 851.0L134.8 853.8L136.7 853.5L138.6 852.3L140.5 855.4L142.4 853.2L144.3 853.7L146.2 854.2L148.1 853.7L150.0 851.8L151.9 855.2L153.8 852.9L155.7 855.2L157.6 853.5L159.5 853.2L161.4 852.5L163.3 853.6L165.2 852.1L167.1 852.4L169.0 852.5L170.9 851.1L172.8 849.8L174.7 846.7L176.6 845.7L178.5 837.6L180.4 839.5L182.3 836.8L184.2 838.7L186.1 838.2L188.0 839.3L189.9 847.1L191.8 845.2L193.7 849.3L195.6 850.2L197.5 850.7L199.4 850.5L201.3 854.5L203.2 853.0L205.1 850.1L207.0 853.0L208.9 852.7L210.8 848.4L212.7 857.2L214.6 850.8L216.5 853.9L218.4 852.4L220.3 847.4L222.2 846.8L224.1 845.9L226.0 843.2L227.9 842.7L229.8 841.2L231.7 840.6L233.6 837.3L235.5 839.8L237.4 838.2L239.3 839.8L241.2 842.4L243.1 843.4L245.0 845.5L246.9 842.4L248.8 838.0L250.7 834.5L252.6 824.6L254.5 813.0L256.4 786.9L258.3 770.2L260.2 766.4L262.1 763.4L264.0 766.0L265.9 787.6L267.8 803.6L269.7 815.9L271.6 829.5L273.5 842.4L275.4 848.1L277.3 850.2L279.2 850.4L281.1 852.8L283.0 850.2L284.9 852.0L286.8 855.9L288.7 853.6L290.6 853.4L292.5 851.9L294.4 853.7L296.3 855.9L298.2 855.9L300.1 855.1L302.0 855.2L303.9 852.7L305.8 855.8L307.7 856.4L309.6 852.6L311.5 853.0L313.4 851.9L315.3 852.2L317.2 851.7L319.1 855.2L321.0 854.6L322.9 854.0L324.8 852.4L326.7 854.2L328.6 853.3L330.5 853.8L332.4 853.4L334.3 854.2L336.2 853.3L338.1 854.7L340.0 855.4L341.9 853.3L343.8 852.0L345.7 852.7L347.6 852.6L349.5 854.0L351.4 851.3L353.3 853.0L355.2 853.4L357.1 852.9L359.0 853.2L360.9 854.9L362.8 852.9L364.7 852.5L366.6 851.8L368.5 851.9L370.4 851.4L372.3 852.6L374.2 852.7L376.1 854.8L378.0 853.3L379.9 855.0L381.8 853.3L383.7 853.0L385.6 852.9L387.5 857.1L389.4 851.1L391.3 853.6L393.2 853.7L395.1 854.1L397.0 853.6L398.9 851.6L400.8 854.2L402.7 855.5L404.6 852.5L406.5 855.5L408.4 855.3L410.3 853.6L412.2 853.9L414.1 853.1L416.0 854.2L417.9 852.6L419.8 851.7L421.7 850.9L423.6 853.6L425.5 852.7L427.4 850.7L429.3 855.4L431.2 855.6L433.1 853.6L435.0 853.3L436.9 855.1L438.8 852.7L440.7 851.3L442.6 852.7L444.5 852.7L446.4 853.3L448.3 853.4L450.2 851.2L452.1 853.6L454.0 854.9L455.9 851.9L457.8 849.4L459.7 854.6L461.6 853.2L463.5 853.1L465.4 851.8L467.3 852.0L469.2 852.8L471.1 857.1L473.0 848.9L474.9 857.9L476.8 854.3L478.7 851.3L480.6 854.1L482.5 852.1L484.4 854.1L486.3 853.4L488.2 848.7L490.1 853.4L492.0 853.5L493.9 853.2L495.8 853.2L497.7 854.0L499.6 857.1L501.5 851.7L503.4 855.2L505.3 852.9L507.2 854.5L509.1 857.4L511.0 852.3L512.9 853.8L514.8 855.0L516.7 855.1L518.6 856.0L520.5 851.0L522.4 851.7L524.3 853.2L526.2 851.5L528.1 852.7L530.0 854.5L531.9 851.3L533.8 854.9L535.7 854.3L537.6 853.6L539.5 854.7L541.4 854.4L543.3 854.2L545.2 850.7L547.1 853.1L549.0 854.5L550.9 852.2L552.8 848.7L554.7 854.1L556.6 852.6L558.5 851.0L560.4 852.6L562.3 853.8L564.2 852.8L566.1 850.2L568.0 854.7L569.9 853.5L571.8 853.6L573.7 854.3L575.6 855.0L577.5 854.3L579.4 855.4L581.3 850.4L583.2 852.0L585.1 854.3L587.0 854.8L588.9 852.4L590.8 853.7L592.7 854.5L594.6 854.9L596.5 853.2L598.4 853.7L600.3 851.1L602.2 848.7L604.1 853.8L606.0 853.7L607.9 851.5L609.8 852.4" stroke="#000" stroke-width="2.8"/>
<path d="M55.0 953.3L56.9 954.4L58.8 953.9L60.7 954.0L62.6 954.1L64.5 953.6L66.4 954.4L68.3 953.4L70.2 954.8L72.1 953.8L74.0 953.6L75.9 953.5L77.8 953.3L79.7 953.5L81.6 954.3L83.5 954.1L85.4 954.0L87.3 953.4L89.2 954.1L91.1 953.9L93.0 953.9L94.9 953.6L96.8 953.4L98.7 953.8L100.6 953.4L102.5 954.3L104.4 953.3L106.3 954.4L108.2 953.4L110.1 954.2L112.0 953.8L113.9 953.7L115.8 953.1L117.7 952.9L119.6 954.3L121.5 953.2L123.4 953.5L125.3 952.1L127.2 953.3L129.1 953.6L131.0 954.1L132.9 953.3L134.8 954.1L136.7 954.3L138.6 953.7L140.5 954.4L142.4 953.8L144.3 953.3L146.2 953.9L148.1 953.5L150.0 953.1L151.9 953.1L153.8 954.1L155.7 954.2L157.6 954.5L159.5 954.1L161.4 953.2L163.3 955.5L165.2 954.1L167.1 953.0L169.0 952.8L170.9 954.3L172.8 951.4L174.7 948.6L176.6 946.7L178.5 943.2L180.4 939.1L182.3 935.2L184.2 936.3L186.1 935.7L188.0 939.9L189.9 942.4L191.8 946.3L193.7 950.9L195.6 951.2L197.5 953.2L199.4 953.4L201.3 953.0L203.2 954.3L205.1 954.1L207.0 954.2L208.9 952.8L210.8 953.1L212.7 952.7L214.6 952.6L216.5 952.1L218.4 951.8L220.3 951.3L222.2 948.2L224.1 947.6L226.0 947.8L227.9 946.2L229.8 947.2L231.7 946.0L233.6 945.5L235.5 943.9L237.4 944.4L239.3 942.8L241.2 941.9L243.1 941.8L245.0 942.4L246.9 943.8L248.8 946.1L250.7 944.0L252.6 940.6L254.5 933.8L256.4 923.5L258.3 907.6L260.2 891.0L262.1 873.3L264.0 862.3L265.9 858.3L267.8 864.3L269.7 881.9L271.6 900.7L273.5 921.4L275.4 937.0L277.3 946.1L279.2 950.3L281.1 952.2L283.0 953.4L284.9 953.4L286.8 954.0L288.7 953.1L290.6 954.0L292.5 954.0L294.4 953.5L296.3 953.7L298.2 953.5L300.1 952.4L302.0 953.3L303.9 953.7L305.8 953.2L307.7 954.1L309.6 954.5L311.5 954.6L313.4 954.8L315.3 953.8L317.2 953.7L319.1 954.2L321.0 953.4L322.9 954.0L324.8 954.2L326.7 954.1L328.6 954.2L330.5 953.9L332.4 954.8L334.3 953.4L336.2 952.7L338.1 954.0L340.0 954.2L341.9 954.1L343.8 952.6L345.7 954.5L347.6 953.3L349.5 953.5L351.4 955.1L353.3 953.8L355.2 952.1L357.1 954.2L359.0 953.3L360.9 954.3L362.8 953.4L364.7 953.7L366.6 953.7L368.5 953.5L370.4 954.6L372.3 953.6L374.2 953.8L376.1 953.5L378.0 953.8L379.9 953.8L381.8 953.6L383.7 954.9L385.6 953.7L387.5 954.5L389.4 954.6L391.3 954.0L393.2 954.2L395.1 953.9L397.0 954.2L398.9 952.9L400.8 953.6L402.7 953.3L404.6 953.4L406.5 952.7L408.4 954.0L410.3 954.2L412.2 953.5L414.1 953.8L416.0 953.5L417.9 953.7L419.8 954.0L421.7 954.5L423.6 953.3L425.5 953.8L427.4 953.1L429.3 953.5L431.2 953.4L433.1 953.4L435.0 953.7L436.9 954.1L438.8 953.4L440.7 953.9L442.6 953.9L444.5 953.4L446.4 953.6L448.3 954.0L450.2 953.8L452.1 954.2L454.0 954.0L455.9 953.8L457.8 953.4L459.7 954.0L461.6 954.1L463.5 953.5L465.4 953.5L467.3 954.3L469.2 952.8L471.1 953.7L473.0 954.2L474.9 954.5L476.8 953.9L478.7 953.3L480.6 953.2L482.5 953.8L484.4 955.5L486.3 954.1L488.2 955.1L490.1 953.3L492.0 953.8L493.9 954.1L495.8 954.2L497.7 953.9L499.6 953.4L501.5 953.6L503.4 953.4L505.3 953.7L507.2 953.8L509.1 954.2L511.0 954.0L512.9 953.4L514.8 953.8L516.7 954.0L518.6 953.4L520.5 953.6L522.4 953.6L524.3 953.2L526.2 953.8L528.1 953.4L530.0 954.4L531.9 954.5L533.8 954.2L535.7 954.1L537.6 954.1L539.5 953.1L541.4 953.4L543.3 955.2L545.2 953.9L547.1 953.3L549.0 953.3L550.9 954.1L552.8 953.4L554.7 955.1L556.6 953.4L558.5 954.2L560.4 953.6L562.3 953.3L564.2 953.6L566.1 953.3L568.0 955.1L569.9 954.3L571.8 954.3L573.7 952.9L575.6 954.3L577.5 954.1L579.4 954.1L581.3 953.6L583.2 952.9L585.1 954.3L587.0 952.3L588.9 954.3L590.8 954.4L592.7 953.5L594.6 954.0L596.5 954.0L598.4 953.6L600.3 954.3L602.2 953.9L604.1 953.7L606.0 954.7L607.9 952.3L609.8 954.2" stroke="#000" stroke-width="2.8"/>
<path d="M56.0 145.3L56.5 145.2L57.0 145.1L57.5 145.0L58.0 144.9L58.5 144.8L59.0 144.7L59.5 144.6L60.0 144.5L60.5 144.4L61.0 144.3L61.5 144.2L62.0 144.1L62.5 144.0L63.0 143.9L63.5 143.8L64.0 143.7L64.5 143.6L65.0 143.5L65.5 143.4L66.0 143.3L66.5 143.2L67.0 143.1L67.5 143.0L68.0 142.9L68.5 142.8L69.0 142.7L69.5 142.6L70.0 142.5L70.5 142.4L71.0 142.3L71.5 142.2L72.0 142.1L72.5 142.0L73.0 141.9L73.5 141.8L74.0 141.7L74.5 141.6L75.0 141.5L75.5 141.4L76.0 141.3L76.5 141.2L77.0 141.1L77.5 141.0L78.0 140.9L78.5 140.8L79.0 140.7L79.5 140.6L80.0 140.5L80.5 140.4L81.0 140.3L81.5 140.2L82.0 140.1L82.5 140.0L83.0 139.8L83.5 139.7L84.0 139.6L84.5 139.5L85.0 139.4L85.5 139.3L86.0 139.2L86.5 139.1L87.0 139.0L87.5 138.9L88.0 138.8L88.5 138.7L89.0 138.6L89.5 138.5L90.0 138.4L90.5 138.3L91.0 138.2L91.5 138.1L92.0 137.9L92.5 137.8L93.0 137.7L93.5 137.6L94.0 137.5L94.5 137.4L95.0 137.3L95.5 137.2L96.0 137.1L96.5 137.0L97.0 136.9L97.5 136.8L98.0 136.7L98.5 136.6L99.0 136.5L99.5 136.3L100.0 136.2L100.5 136.1L101.0 136.0L101.5 135.9L102.0 135.8L102.5 135.7L103.0 135.6L103.5 135.5L104.0 135.4L104.5 135.3L105.0 135.2L105.5 135.1L106.0 134.9L106.5 134.8L107.0 134.7L107.5 134.6L108.0 134.5L108.5 134.4L109.0 134.3L109.5 134.2L110.0 134.1L110.5 134.0L111.0 133.9L111.5 133.7L112.0 133.6L112.5 133.5L113.0 133.4L113.5 133.3L114.0 133.2L114.5 133.1L115.0 133.0L115.5 132.9L116.0 132.8L116.5 132.6L117.0 132.5L117.5 132.4L118.0 132.3L118.5 132.2L119.0 132.1L119.5 132.0L120.0 131.8L120.5 131.7L121.0 131.6L121.5 131.5L122.0 131.4L122.5 131.3L123.0 131.2L123.5 131.0L124.0 130.9L124.5 130.8L125.0 130.7L125.5 130.6L126.0 130.5L126.5 130.3L127.0 130.2L127.5 130.1L128.0 130.0L128.5 129.9L129.0 129.8L129.5 129.6L130.0 129.5L130.5 129.4L131.0 129.3L131.5 129.2L132.0 129.0L132.5 128.9L133.0 128.8L133.5 128.7L134.0 128.5L134.5 128.4L135.0 128.3L135.5 128.2L136.0 128.1L136.5 127.9L137.0 127.8L137.5 127.7L138.0 127.5L138.5 127.4L139.0 127.3L139.5 127.2L140.0 127.0L140.5 126.9L141.0 126.8L141.5 126.6L142.0 126.5L142.5 126.4L143.0 126.2L143.5 126.1L144.0 126.0L144.5 125.8L145.0 125.7L145.5 125.6L146.0 125.4L146.5 125.3L147.0 125.2L147.5 125.0L148.0 124.9L148.5 124.7L149.0 124.6L149.5 124.5L150.0 124.3L150.5 124.2L151.0 124.1L151.5 123.9L152.0 123.8L152.5 123.6L153.0 123.5L153.5 123.4L154.0 123.2L154.5 123.1L155.0 122.9L155.5 122.8L156.0 122.6L156.5 122.5L157.0 122.4L157.5 122.2L158.0 122.1L158.5 121.9L159.0 121.8L159.5 121.6L160.0 121.5L160.5 121.4L161.0 121.2L161.5 121.1L162.0 120.9L162.5 120.8L163.0 120.6L163.5 120.5L164.0 120.4L164.5 120.2L165.0 120.1L165.5 119.9L166.0 119.8L166.5 119.6L167.0 119.5L167.5 119.4L168.0 119.2L168.5 119.1L169.0 118.9L169.5 118.8L170.0 118.6L170.5 118.5L171.0 118.4L171.5 118.2L172.0 118.1L172.5 117.9L173.0 117.8L173.5 117.7L174.0 117.5L174.5 117.4L175.0 117.2L175.5 117.1L176.0 117.0L176.5 116.8L177.0 116.7L177.5 116.5L178.0 116.4L178.5 116.3L179.0 116.1L179.5 116.0L180.0 115.9L180.5 115.7L181.0 115.6L181.5 115.4L182.0 115.3L182.5 115.2L183.0 115.0L183.5 114.9L184.0 114.8L184.5 114.6L185.0 114.5L185.5 114.4L186.0 114.3L186.5 114.1L187.0 114.0L187.5 113.9L188.0 113.7L188.5 113.6L189.0 113.5L189.5 113.3L190.0 113.2L190.5 113.1L191.0 112.9L191.5 112.8L192.0 112.7L192.5 112.6L193.0 112.4L193.5 112.3L194.0 112.2L194.5 112.0L195.0 111.9L195.5 111.8L196.0 111.6L196.5 111.5L197.0 111.4L197.5 111.2L198.0 111.1L198.5 111.0L199.0 110.9L199.5 110.7L200.0 110.6L200.5 110.5L201.0 110.3L201.5 110.2L202.0 110.1L202.5 109.9L203.0 109.8L203.5 109.7L204.0 109.5L204.5 109.4L205.0 109.3L205.5 109.1L206.0 109.0L206.5 108.8L207.0 108.7L207.5 108.6L208.0 108.4L208.5 108.3L209.0 108.2L209.5 108.0L210.0 107.9L210.5 107.7L211.0 107.6L211.5 107.5L212.0 107.3L212.5 107.2L213.0 107.0L213.5 106.9L214.0 106.7L214.5 106.6L215.0 106.4L215.5 106.3L216.0 106.1L216.5 106.0L217.0 105.8L217.5 105.7L218.0 105.5L218.5 105.4L219.0 105.2L219.5 105.1L220.0 104.9L220.5 104.8L221.0 104.6L221.5 104.4L222.0 104.3L222.5 104.1L223.0 104.0L223.5 103.8L224.0 103.6L224.5 103.5L225.0 103.3L225.5 103.2L226.0 103.0L226.5 102.8L227.0 102.7L227.5 102.5L228.0 102.3L228.5 102.2L229.0 102.0L229.5 101.8L230.0 101.7L230.5 101.5L231.0 101.3L231.5 101.1L232.0 101.0L232.5 100.8L233.0 100.6L233.5 100.4L234.0 100.3L234.5 100.1L235.0 99.9L235.5 99.7L236.0 99.6L236.5 99.4L237.0 99.2L237.5 99.0L238.0 98.8L238.5 98.6L239.0 98.5L239.5 98.3L240.0 98.1L240.5 97.9L241.0 97.7L241.5 97.5L242.0 97.3L242.5 97.1L243.0 96.9L243.5 96.7L244.0 96.6L244.5 96.4L245.0 96.2L245.5 96.0L246.0 95.8L246.5 95.6L247.0 95.4L247.5 95.2L248.0 95.0L248.5 94.8L249.0 94.6L249.5 94.3L250.0 94.1L250.5 93.9L251.0 93.7L251.5 93.5L252.0 93.3L252.5 93.1L253.0 92.9L253.5 92.7L254.0 92.4L254.5 92.2L255.0 92.0L255.5 91.8L256.0 91.5L256.5 91.3L257.0 91.0L257.5 90.8L258.0 90.6L258.5 90.3L259.0 90.1L259.5 89.8L260.0 89.6L260.5 89.3L261.0 89.1L261.5 88.8L262.0 88.5L262.5 88.3L263.0 88.0L263.5 87.8L264.0 87.5L264.5 87.2L265.0 87.0L265.5 86.7L266.0 86.5L266.5 86.2L267.0 85.9L267.5 85.7L268.0 85.4L268.5 85.1L269.0 84.9L269.5 84.6L270.0 84.4L270.5 84.1L271.0 83.8L271.5 83.6L272.0 83.3L272.5 83.1L273.0 82.8L273.5 82.6L274.0 82.3L274.5 82.0L275.0 81.8L275.5 81.5L276.0 81.3L276.5 81.0L277.0 80.8L277.5 80.5L278.0 80.3L278.5 80.0L279.0 79.8L279.5 79.5L280.0 79.3L280.5 79.0L281.0 78.8L281.5 78.5L282.0 78.3L282.5 78.0L283.0 77.8L283.5 77.5L284.0 77.3L284.5 77.0L285.0 76.8L285.5 76.5L286.0 76.3L286.5 76.0L287.0 75.8L287.5 75.5L288.0 75.3L288.5 75.0L289.0 74.8L289.5 74.5L290.0 74.3L290.5 74.0L291.0 73.8L291.5 73.5L292.0 73.3L292.5 73.0L293.0 72.8L293.5 72.5L294.0 72.3L294.5 72.0L295.0 71.8L295.5 71.6L296.0 71.3L296.5 71.1L297.0 70.8L297.5 70.6L298.0 70.3L298.5 70.1L299.0 69.8L299.5 69.6L300.0 69.3L300.5 69.0L301.0 68.8L301.5 68.5L302.0 68.3L302.5 68.0L303.0 67.8L303.5 67.5L304.0 67.3L304.5 67.0L305.0 66.8L305.5 66.5L306.0 66.3L306.5 66.0L307.0 65.8L307.5 65.5L308.0 65.3L308.5 65.0L309.0 64.8L309.5 64.6L310.0 64.3L310.5 64.1L311.0 63.9L311.5 63.6L312.0 63.4L312.5 63.2L313.0 63.0L313.5 62.8L314.0 62.6L314.5 62.4L315.0 62.2L315.5 62.0L316.0 61.8L316.5 61.6L317.0 61.4L317.5 61.2L318.0 61.1L318.5 60.9L319.0 60.7L319.5 60.5L320.0 60.4L320.5 60.2L321.0 60.0L321.5 59.8L322.0 59.7L322.5 59.5L323.0 59.4L323.5 59.2L324.0 59.0L324.5 58.9L325.0 58.7L325.5 58.6L326.0 58.4L326.5 58.3L327.0 58.1L327.5 58.0L328.0 57.9L328.5 57.8L329.0 57.6L329.5 57.5L330.0 57.4L330.5 57.3L331.0 57.2L331.5 57.1L332.0 57.0L332.5 56.9L333.0 56.8L333.5 56.7L334.0 56.6L334.5 56.5L335.0 56.5L335.5 56.4L336.0 56.3L336.5 56.2L337.0 56.1L337.5 56.0L338.0 55.9L338.5 55.9L339.0 55.8L339.5 55.7L340.0 55.6L340.5 55.6L341.0 55.5L341.5 55.5L342.0 55.4L342.5 55.4L343.0 55.4L343.5 55.3L344.0 55.3L344.5 55.3L345.0 55.3L345.5 55.3L346.0 55.3L346.5 55.3L347.0 55.3L347.5 55.3L348.0 55.3L348.5 55.3L349.0 55.4L349.5 55.4L350.0 55.4L350.5 55.4L351.0 55.4L351.5 55.4L352.0 55.5L352.5 55.5L353.0 55.5L353.5 55.5L354.0 55.6L354.5 55.6L355.0 55.6L355.5 55.6L356.0 55.7L356.5 55.7L357.0 55.7L357.5 55.8L358.0 55.8L358.5 55.8L359.0 55.9L359.5 56.0L360.0 56.0L360.5 56.1L361.0 56.2L361.5 56.3L362.0 56.4L362.5 56.5L363.0 56.7L363.5 56.8L364.0 56.9L364.5 57.1L365.0 57.2L365.5 57.4L366.0 57.5L366.5 57.7L367.0 57.8L367.5 58.0L368.0 58.1L368.5 58.3L369.0 58.5L369.5 58.7L370.0 58.9L370.5 59.1L371.0 59.4L371.5 59.6L372.0 59.8L372.5 60.1L373.0 60.4L373.5 60.6L374.0 60.9L374.5 61.2L375.0 61.5L375.5 61.8L376.0 62.1L376.5 62.4L377.0 62.7L377.5 63.0L378.0 63.4L378.5 63.7L379.0 64.0L379.5 64.3L380.0 64.7L380.5 65.0L381.0 65.3L381.5 65.6L382.0 66.0L382.5 66.3L383.0 66.6L383.5 67.0L384.0 67.3L384.5 67.6L385.0 67.9L385.5 68.3L386.0 68.6L386.5 68.9L387.0 69.3L387.5 69.6L388.0 70.0L388.5 70.3L389.0 70.7L389.5 71.0L390.0 71.4L390.5 71.8L391.0 72.2L391.5 72.5L392.0 72.9L392.5 73.3L393.0 73.7L393.5 74.1L394.0 74.4L394.5 74.8L395.0 75.2L395.5 75.6L396.0 76.0L396.5 76.4L397.0 76.8L397.5 77.2L398.0 77.6L398.5 78.0L399.0 78.4L399.5 78.8L400.0 79.1L400.5 79.5L401.0 79.9L401.5 80.3L402.0 80.7L402.5 81.1L403.0 81.5L403.5 81.8L404.0 82.2L404.5 82.6L405.0 83.0L405.5 83.3L406.0 83.7L406.5 84.1L407.0 84.4L407.5 84.8L408.0 85.2L408.5 85.5L409.0 85.9L409.5 86.3L410.0 86.6L410.5 87.0L411.0 87.4L411.5 87.7L412.0 88.1L412.5 88.5L413.0 88.8L413.5 89.2L414.0 89.6L414.5 89.9L415.0 90.3L415.5 90.7L416.0 91.0L416.5 91.4L417.0 91.8L417.5 92.1L418.0 92.5L418.5 92.8L419.0 93.2L419.5 93.5L420.0 93.9L420.5 94.2L421.0 94.6L421.5 94.9L422.0 95.3L422.5 95.6L423.0 96.0L423.5 96.3L424.0 96.6L424.5 97.0L425.0 97.3L425.5 97.6L426.0 97.9L426.5 98.2L427.0 98.6L427.5 98.9L428.0 99.2L428.5 99.5L429.0 99.8L429.5 100.1L430.0 100.4L430.5 100.7L431.0 101.0L431.5 101.3L432.0 101.6L432.5 101.9L433.0 102.1L433.5 102.4L434.0 102.7L434.5 103.0L435.0 103.3L435.5 103.6L436.0 103.8L436.5 104.1L437.0 104.4L437.5 104.7L438.0 105.0L438.5 105.2L439.0 105.5L439.5 105.8L440.0 106.0L440.5 106.3L441.0 106.6L441.5 106.8L442.0 107.1L442.5 107.4L443.0 107.6L443.5 107.9L444.0 108.1L444.5 108.4L445.0 108.6L445.5 108.9L446.0 109.2L446.5 109.4L447.0 109.7L447.5 109.9L448.0 110.2L448.5 110.4L449.0 110.6L449.5 110.9L450.0 111.1L450.5 111.4L451.0 111.6L451.5 111.8L452.0 112.1L452.5 112.3L453.0 112.5L453.5 112.8L454.0 113.0L454.5 113.2L455.0 113.4L455.5 113.7L456.0 113.9L456.5 114.1L457.0 114.3L457.5 114.5L458.0 114.7L458.5 115.0L459.0 115.2L459.5 115.4L460.0 115.6L460.5 115.8L461.0 116.0L461.5 116.2L462.0 116.5L462.5 116.7L463.0 116.9L463.5 117.1L464.0 117.3L464.5 117.5L465.0 117.8L465.5 118.0L466.0 118.2L466.5 118.4L467.0 118.6L467.5 118.9L468.0 119.1L468.5 119.3L469.0 119.5L469.5 119.8L470.0 120.0L470.5 120.2L471.0 120.5L471.5 120.7L472.0 121.0L472.5 121.2L473.0 121.5L473.5 121.7L474.0 122.0L474.5 122.2L475.0 122.5L475.5 122.8L476.0 123.0L476.5 123.3L477.0 123.5L477.5 123.8L478.0 124.1L478.5 124.3L479.0 124.6L479.5 124.9L480.0 125.2L480.5 125.4L481.0 125.7L481.5 126.0L482.0 126.2L482.5 126.5L483.0 126.7L483.5 127.0L484.0 127.3L484.5 127.5L485.0 127.8L485.5 128.0L486.0 128.3L486.5 128.5L487.0 128.8L487.5 129.0L488.0 129.3L488.5 129.5L489.0 129.7L489.5 130.0L490.0 130.2L490.5 130.4L491.0 130.6L491.5 130.8L492.0 131.0L492.5 131.2L493.0 131.4L493.5 131.6L494.0 131.8L494.5 132.0L495.0 132.2L495.5 132.4L496.0 132.6L496.5 132.8L497.0 133.0L497.5 133.1L498.0 133.3L498.5 133.5L499.0 133.7L499.5 133.9L500.0 134.0L500.5 134.2L501.0 134.4L501.5 134.5L502.0 134.7L502.5 134.9L503.0 135.0L503.5 135.2L504.0 135.4L504.5 135.5L505.0 135.7L505.5 135.9L506.0 136.0L506.5 136.2L507.0 136.4L507.5 136.5L508.0 136.7L508.5 136.8L509.0 137.0L509.5 137.2L510.0 137.3L510.5 137.5L511.0 137.7L511.5 137.8L512.0 138.0L512.5 138.2L513.0 138.4L513.5 138.5L514.0 138.7L514.5 138.9L515.0 139.1L515.5 139.2L516.0 139.4L516.5 139.6L517.0 139.8L517.5 139.9L518.0 140.1L518.5 140.3L519.0 140.5L519.5 140.7L520.0 140.8L520.5 141.0L521.0 141.2L521.5 141.4L522.0 141.6L522.5 141.7L523.0 141.9L523.5 142.1L524.0 142.3L524.5 142.4L525.0 142.6L525.5 142.8L526.0 143.0L526.5 143.1L527.0 143.3L527.5 143.5L528.0 143.7L528.5 143.8L529.0 144.0L529.5 144.2L530.0 144.4L530.5 144.5L531.0 144.7L531.5 144.9L532.0 145.0L532.5 145.2L533.0 145.4L533.5 145.5L534.0 145.7L534.5 145.9L535.0 146.0L535.5 146.2L536.0 146.4L536.5 146.5L537.0 146.7L537.5 146.8L538.0 147.0L538.5 147.2L539.0 147.3L539.5 147.5L540.0 147.7L540.5 147.8L541.0 148.0L541.5 148.1L542.0 148.3L542.5 148.5L543.0 148.6L543.5 148.8L544.0 149.0L544.5 149.1L545.0 149.3L545.5 149.4L546.0 149.6L546.5 149.7L547.0 149.9L547.5 150.0L548.0 150.2L548.5 150.3L549.0 150.5L549.5 150.6L550.0 150.8L550.5 150.9L551.0 151.1L551.5 151.2L552.0 151.4L552.5 151.5L553.0 151.6L553.5 151.8L554.0 151.9L554.5 152.0L555.0 152.2L555.5 152.3L556.0 152.4L556.5 152.5L557.0 152.6L557.5 152.8L558.0 152.9L558.5 153.0L559.0 153.1L559.5 153.2L560.0 153.3L560.5 153.5L561.0 153.6L561.5 153.7L562.0 153.8L562.5 153.9L563.0 154.0L563.5 154.1L564.0 154.2L564.5 154.3L565.0 154.4L565.5 154.5L566.0 154.6L566.5 154.7L567.0 154.8L567.5 154.9L568.0 155.0L568.5 155.1L569.0 155.2L569.5 155.3L570.0 155.4L570.5 155.5L571.0 155.6L571.5 155.7L572.0 155.8L572.5 155.9L573.0 156.0L573.5 156.1L574.0 156.1L574.5 156.2L575.0 156.3L575.5 156.4L576.0 156.5L576.5 156.6L577.0 156.7L577.5 156.7L578.0 156.8L578.5 156.9L579.0 157.0L579.5 157.1L580.0 157.2L580.5 157.2L581.0 157.3L581.5 157.4L582.0 157.5L582.5 157.6L583.0 157.7L583.5 157.7L584.0 157.8L584.5 157.9L585.0 158.0L585.5 158.1L586.0 158.1L586.5 158.2L587.0 158.3L587.5 158.4L588.0 158.4L588.5 158.5L589.0 158.6L589.5 158.7L590.0 158.7L590.5 158.8L591.0 158.9L591.5 159.0L592.0 159.0L592.5 159.1L593.0 159.2L593.5 159.3L594.0 159.3L594.5 159.4L595.0 159.5L595.5 159.5L596.0 159.6L596.5 159.7L597.0 159.7L597.5 159.8L598.0 159.9L598.5 159.9L599.0 160.0L599.5 160.1L600.0 160.1L600.5 160.2L601.0 160.3L601.5 160.3L602.0 160.4L602.5 160.5L603.0 160.5L603.5 160.6L604.0 160.6L604.5 160.7L605.0 160.8L605.5 160.8L606.0 160.9L606.5 160.9L607.0 161.0L607.5 161.0L608.0 161.1L608.5 161.1L609.0 161.2" stroke="#00f" stroke-width="2.6"/>
<path d="M56.0 236.7L56.5 236.7L57.0 236.7L57.5 236.7L58.0 236.7L58.5 236.7L59.0 236.7L59.5 236.7L60.0 236.6L60.5 236.6L61.0 236.6L61.5 236.6L62.0 236.6L62.5 236.6L63.0 236.6L63.5 236.6L64.0 236.6L64.5 236.6L65.0 236.6L65.5 236.6L66.0 236.5L66.5 236.5L67.0 236.5L67.5 236.5L68.0 236.5L68.5 236.5L69.0 236.5L69.5 236.5L70.0 236.5L70.5 236.5L71.0 236.4L71.5 236.4L72.0 236.4L72.5 236.4L73.0 236.4L73.5 236.4L74.0 236.4L74.5 236.4L75.0 236.4L75.5 236.3L76.0 236.3L76.5 236.3L77.0 236.3L77.5 236.3L78.0 236.3L78.5 236.3L79.0 236.3L79.5 236.2L80.0 236.2L80.5 236.2L81.0 236.2L81.5 236.2L82.0 236.2L82.5 236.2L83.0 236.2L83.5 236.1L84.0 236.1L84.5 236.1L85.0 236.1L85.5 236.1L86.0 236.1L86.5 236.1L87.0 236.1L87.5 236.0L88.0 236.0L88.5 236.0L89.0 236.0L89.5 236.0L90.0 236.0L90.5 236.0L91.0 235.9L91.5 235.9L92.0 235.9L92.5 235.9L93.0 235.9L93.5 235.9L94.0 235.9L94.5 235.8L95.0 235.8L95.5 235.8L96.0 235.8L96.5 235.8L97.0 235.8L97.5 235.8L98.0 235.7L98.5 235.7L99.0 235.7L99.5 235.7L100.0 235.7L100.5 235.7L101.0 235.6L101.5 235.6L102.0 235.6L102.5 235.6L103.0 235.6L103.5 235.6L104.0 235.5L104.5 235.5L105.0 235.5L105.5 235.5L106.0 235.5L106.5 235.5L107.0 235.4L107.5 235.4L108.0 235.4L108.5 235.4L109.0 235.4L109.5 235.3L110.0 235.3L110.5 235.3L111.0 235.3L111.5 235.3L112.0 235.2L112.5 235.2L113.0 235.2L113.5 235.2L114.0 235.2L114.5 235.1L115.0 235.1L115.5 235.1L116.0 235.1L116.5 235.1L117.0 235.0L117.5 235.0L118.0 235.0L118.5 235.0L119.0 235.0L119.5 234.9L120.0 234.9L120.5 234.9L121.0 234.9L121.5 234.9L122.0 234.8L122.5 234.8L123.0 234.8L123.5 234.8L124.0 234.7L124.5 234.7L125.0 234.7L125.5 234.7L126.0 234.6L126.5 234.6L127.0 234.6L127.5 234.6L128.0 234.6L128.5 234.5L129.0 234.5L129.5 234.5L130.0 234.5L130.5 234.4L131.0 234.4L131.5 234.4L132.0 234.4L132.5 234.3L133.0 234.3L133.5 234.3L134.0 234.3L134.5 234.2L135.0 234.2L135.5 234.2L136.0 234.2L136.5 234.1L137.0 234.1L137.5 234.1L138.0 234.1L138.5 234.0L139.0 234.0L139.5 234.0L140.0 234.0L140.5 233.9L141.0 233.9L141.5 233.9L142.0 233.8L142.5 233.8L143.0 233.8L143.5 233.8L144.0 233.7L144.5 233.7L145.0 233.7L145.5 233.6L146.0 233.6L146.5 233.6L147.0 233.5L147.5 233.5L148.0 233.5L148.5 233.5L149.0 233.4L149.5 233.4L150.0 233.4L150.5 233.3L151.0 233.3L151.5 233.3L152.0 233.2L152.5 233.2L153.0 233.2L153.5 233.1L154.0 233.1L154.5 233.1L155.0 233.0L155.5 233.0L156.0 233.0L156.5 232.9L157.0 232.9L157.5 232.9L158.0 232.8L158.5 232.8L159.0 232.7L159.5 232.7L160.0 232.7L160.5 232.6L161.0 232.6L161.5 232.6L162.0 232.5L162.5 232.5L163.0 232.5L163.5 232.4L164.0 232.4L164.5 232.4L165.0 232.3L165.5 232.3L166.0 232.3L166.5 232.2L167.0 232.2L167.5 232.1L168.0 232.1L168.5 232.1L169.0 232.0L169.5 232.0L170.0 232.0L170.5 231.9L171.0 231.9L171.5 231.9L172.0 231.8L172.5 231.8L173.0 231.8L173.5 231.7L174.0 231.7L174.5 231.6L175.0 231.6L175.5 231.6L176.0 231.5L176.5 231.5L177.0 231.5L177.5 231.4L178.0 231.4L178.5 231.4L179.0 231.3L179.5 231.3L180.0 231.3L180.5 231.2L181.0 231.2L181.5 231.2L182.0 231.1L182.5 231.1L183.0 231.1L183.5 231.0L184.0 231.0L184.5 231.0L185.0 230.9L185.5 230.9L186.0 230.9L186.5 230.8L187.0 230.8L187.5 230.8L188.0 230.7L188.5 230.7L189.0 230.7L189.5 230.6L190.0 230.6L190.5 230.6L191.0 230.5L191.5 230.5L192.0 230.5L192.5 230.4L193.0 230.4L193.5 230.4L194.0 230.3L194.5 230.3L195.0 230.3L195.5 230.2L196.0 230.2L196.5 230.2L197.0 230.1L197.5 230.1L198.0 230.0L198.5 230.0L199.0 230.0L199.5 229.9L200.0 229.9L200.5 229.9L201.0 229.8L201.5 229.8L202.0 229.8L202.5 229.7L203.0 229.7L203.5 229.7L204.0 229.6L204.5 229.6L205.0 229.5L205.5 229.5L206.0 229.5L206.5 229.4L207.0 229.4L207.5 229.4L208.0 229.3L208.5 229.3L209.0 229.2L209.5 229.2L210.0 229.2L210.5 229.1L211.0 229.1L211.5 229.0L212.0 229.0L212.5 228.9L213.0 228.9L213.5 228.9L214.0 228.8L214.5 228.8L215.0 228.7L215.5 228.7L216.0 228.6L216.5 228.6L217.0 228.6L217.5 228.5L218.0 228.5L218.5 228.4L219.0 228.4L219.5 228.3L220.0 228.3L220.5 228.2L221.0 228.2L221.5 228.1L222.0 228.1L222.5 228.0L223.0 228.0L223.5 227.9L224.0 227.9L224.5 227.8L225.0 227.7L225.5 227.7L226.0 227.6L226.5 227.6L227.0 227.5L227.5 227.5L228.0 227.4L228.5 227.3L229.0 227.3L229.5 227.2L230.0 227.2L230.5 227.1L231.0 227.0L231.5 227.0L232.0 226.9L232.5 226.8L233.0 226.8L233.5 226.7L234.0 226.6L234.5 226.6L235.0 226.5L235.5 226.4L236.0 226.4L236.5 226.3L237.0 226.2L237.5 226.2L238.0 226.1L238.5 226.0L239.0 226.0L239.5 225.9L240.0 225.8L240.5 225.7L241.0 225.7L241.5 225.6L242.0 225.5L242.5 225.4L243.0 225.4L243.5 225.3L244.0 225.2L244.5 225.1L245.0 225.1L245.5 225.0L246.0 224.9L246.5 224.8L247.0 224.8L247.5 224.7L248.0 224.6L248.5 224.5L249.0 224.4L249.5 224.4L250.0 224.3L250.5 224.2L251.0 224.1L251.5 224.0L252.0 223.9L252.5 223.9L253.0 223.8L253.5 223.7L254.0 223.6L254.5 223.5L255.0 223.4L255.5 223.4L256.0 223.3L256.5 223.2L257.0 223.1L257.5 223.0L258.0 222.9L258.5 222.9L259.0 222.8L259.5 222.7L260.0 222.6L260.5 222.5L261.0 222.4L261.5 222.3L262.0 222.2L262.5 222.2L263.0 222.1L263.5 222.0L264.0 221.9L264.5 221.8L265.0 221.7L265.5 221.6L266.0 221.5L266.5 221.4L267.0 221.3L267.5 221.2L268.0 221.2L268.5 221.1L269.0 221.0L269.5 220.9L270.0 220.8L270.5 220.7L271.0 220.6L271.5 220.5L272.0 220.4L272.5 220.3L273.0 220.2L273.5 220.1L274.0 219.9L274.5 219.8L275.0 219.7L275.5 219.6L276.0 219.5L276.5 219.4L277.0 219.3L277.5 219.2L278.0 219.1L278.5 219.0L279.0 218.9L279.5 218.8L280.0 218.6L280.5 218.5L281.0 218.4L281.5 218.3L282.0 218.2L282.5 218.1L283.0 218.0L283.5 217.9L284.0 217.7L284.5 217.6L285.0 217.5L285.5 217.4L286.0 217.3L286.5 217.2L287.0 217.0L287.5 216.9L288.0 216.8L288.5 216.7L289.0 216.6L289.5 216.4L290.0 216.3L290.5 216.2L291.0 216.1L291.5 216.0L292.0 215.8L292.5 215.7L293.0 215.6L293.5 215.5L294.0 215.3L294.5 215.2L295.0 215.1L295.5 215.0L296.0 214.9L296.5 214.7L297.0 214.6L297.5 214.5L298.0 214.3L298.5 214.2L299.0 214.1L299.5 213.9L300.0 213.8L300.5 213.7L301.0 213.5L301.5 213.4L302.0 213.2L302.5 213.1L303.0 213.0L303.5 212.8L304.0 212.7L304.5 212.5L305.0 212.4L305.5 212.2L306.0 212.1L306.5 212.0L307.0 211.8L307.5 211.7L308.0 211.5L308.5 211.4L309.0 211.2L309.5 211.1L310.0 210.9L310.5 210.8L311.0 210.6L311.5 210.5L312.0 210.3L312.5 210.2L313.0 210.1L313.5 209.9L314.0 209.8L314.5 209.6L315.0 209.5L315.5 209.3L316.0 209.2L316.5 209.1L317.0 208.9L317.5 208.8L318.0 208.6L318.5 208.5L319.0 208.4L319.5 208.2L320.0 208.1L320.5 208.0L321.0 207.8L321.5 207.7L322.0 207.6L322.5 207.5L323.0 207.3L323.5 207.2L324.0 207.1L324.5 207.0L325.0 206.9L325.5 206.8L326.0 206.6L326.5 206.5L327.0 206.4L327.5 206.3L328.0 206.2L328.5 206.1L329.0 206.0L329.5 205.8L330.0 205.7L330.5 205.6L331.0 205.5L331.5 205.4L332.0 205.3L332.5 205.1L333.0 205.0L333.5 204.9L334.0 204.8L334.5 204.7L335.0 204.5L335.5 204.4L336.0 204.3L336.5 204.2L337.0 204.0L337.5 203.9L338.0 203.7L338.5 203.6L339.0 203.5L339.5 203.3L340.0 203.2L340.5 203.0L341.0 202.9L341.5 202.7L342.0 202.5L342.5 202.4L343.0 202.2L343.5 202.0L344.0 201.9L344.5 201.7L345.0 201.5L345.5 201.3L346.0 201.1L346.5 200.9L347.0 200.8L347.5 200.6L348.0 200.4L348.5 200.2L349.0 200.0L349.5 199.8L350.0 199.6L350.5 199.3L351.0 199.1L351.5 198.9L352.0 198.7L352.5 198.5L353.0 198.2L353.5 198.0L354.0 197.8L354.5 197.5L355.0 197.3L355.5 197.1L356.0 196.8L356.5 196.6L357.0 196.3L357.5 196.1L358.0 195.8L358.5 195.6L359.0 195.3L359.5 195.0L360.0 194.8L360.5 194.5L361.0 194.2L361.5 193.9L362.0 193.7L362.5 193.4L363.0 193.1L363.5 192.8L364.0 192.5L364.5 192.2L365.0 191.9L365.5 191.6L366.0 191.2L366.5 190.9L367.0 190.5L367.5 190.2L368.0 189.8L368.5 189.4L369.0 189.1L369.5 188.7L370.0 188.3L370.5 187.9L371.0 187.5L371.5 187.1L372.0 186.7L372.5 186.3L373.0 185.9L373.5 185.5L374.0 185.0L374.5 184.6L375.0 184.2L375.5 183.7L376.0 183.3L376.5 182.9L377.0 182.4L377.5 182.0L378.0 181.6L378.5 181.1L379.0 180.7L379.5 180.2L380.0 179.8L380.5 179.4L381.0 178.9L381.5 178.5L382.0 178.1L382.5 177.6L383.0 177.2L383.5 176.8L384.0 176.3L384.5 175.9L385.0 175.5L385.5 175.0L386.0 174.6L386.5 174.2L387.0 173.7L387.5 173.3L388.0 172.8L388.5 172.4L389.0 171.9L389.5 171.5L390.0 171.0L390.5 170.6L391.0 170.1L391.5 169.6L392.0 169.2L392.5 168.7L393.0 168.2L393.5 167.8L394.0 167.3L394.5 166.8L395.0 166.3L395.5 165.9L396.0 165.4L396.5 164.9L397.0 164.5L397.5 164.0L398.0 163.5L398.5 163.1L399.0 162.6L399.5 162.2L400.0 161.7L400.5 161.2L401.0 160.8L401.5 160.3L402.0 159.9L402.5 159.4L403.0 159.0L403.5 158.6L404.0 158.1L404.5 157.7L405.0 157.3L405.5 156.8L406.0 156.4L406.5 156.0L407.0 155.6L407.5 155.1L408.0 154.7L408.5 154.3L409.0 153.8L409.5 153.4L410.0 152.9L410.5 152.5L411.0 152.1L411.5 151.6L412.0 151.2L412.5 150.8L413.0 150.3L413.5 149.9L414.0 149.5L414.5 149.1L415.0 148.7L415.5 148.3L416.0 147.9L416.5 147.5L417.0 147.2L417.5 146.8L418.0 146.5L418.5 146.1L419.0 145.8L419.5 145.5L420.0 145.2L420.5 145.0L421.0 144.7L421.5 144.5L422.0 144.2L422.5 143.9L423.0 143.7L423.5 143.4L424.0 143.2L424.5 142.9L425.0 142.7L425.5 142.5L426.0 142.2L426.5 142.0L427.0 141.8L427.5 141.6L428.0 141.4L428.5 141.2L429.0 141.0L429.5 140.9L430.0 140.8L430.5 140.6L431.0 140.6L431.5 140.5L432.0 140.4L432.5 140.4L433.0 140.4L433.5 140.4L434.0 140.4L434.5 140.5L435.0 140.6L435.5 140.6L436.0 140.7L436.5 140.8L437.0 140.9L437.5 141.1L438.0 141.2L438.5 141.3L439.0 141.5L439.5 141.7L440.0 141.8L440.5 142.0L441.0 142.2L441.5 142.4L442.0 142.6L442.5 142.8L443.0 143.0L443.5 143.2L444.0 143.4L444.5 143.6L445.0 143.8L445.5 144.0L446.0 144.3L446.5 144.5L447.0 144.8L447.5 145.1L448.0 145.5L448.5 145.8L449.0 146.2L449.5 146.6L450.0 147.0L450.5 147.4L451.0 147.8L451.5 148.2L452.0 148.7L452.5 149.2L453.0 149.6L453.5 150.1L454.0 150.6L454.5 151.1L455.0 151.6L455.5 152.1L456.0 152.6L456.5 153.1L457.0 153.7L457.5 154.2L458.0 154.7L458.5 155.2L459.0 155.8L459.5 156.3L460.0 156.8L460.5 157.4L461.0 157.9L461.5 158.5L462.0 159.1L462.5 159.8L463.0 160.4L463.5 161.1L464.0 161.7L464.5 162.4L465.0 163.1L465.5 163.8L466.0 164.5L466.5 165.2L467.0 165.9L467.5 166.6L468.0 167.3L468.5 167.9L469.0 168.6L469.5 169.3L470.0 170.0L470.5 170.6L471.0 171.3L471.5 171.9L472.0 172.6L472.5 173.3L473.0 174.0L473.5 174.6L474.0 175.3L474.5 176.0L475.0 176.7L475.5 177.3L476.0 178.0L476.5 178.7L477.0 179.3L477.5 180.0L478.0 180.6L478.5 181.3L479.0 181.9L479.5 182.5L480.0 183.1L480.5 183.7L481.0 184.3L481.5 184.8L482.0 185.4L482.5 186.0L483.0 186.5L483.5 187.0L484.0 187.6L484.5 188.1L485.0 188.6L485.5 189.2L486.0 189.7L486.5 190.2L487.0 190.7L487.5 191.2L488.0 191.7L488.5 192.2L489.0 192.6L489.5 193.1L490.0 193.5L490.5 194.0L491.0 194.4L491.5 194.9L492.0 195.3L492.5 195.7L493.0 196.1L493.5 196.5L494.0 196.9L494.5 197.3L495.0 197.7L495.5 198.1L496.0 198.5L496.5 198.9L497.0 199.3L497.5 199.7L498.0 200.1L498.5 200.5L499.0 200.9L499.5 201.2L500.0 201.6L500.5 202.0L501.0 202.3L501.5 202.7L502.0 203.1L502.5 203.4L503.0 203.8L503.5 204.1L504.0 204.5L504.5 204.8L505.0 205.1L505.5 205.5L506.0 205.8L506.5 206.1L507.0 206.4L507.5 206.8L508.0 207.1L508.5 207.4L509.0 207.7L509.5 208.0L510.0 208.3L510.5 208.6L511.0 208.9L511.5 209.2L512.0 209.4L512.5 209.7L513.0 210.0L513.5 210.3L514.0 210.5L514.5 210.8L515.0 211.0L515.5 211.3L516.0 211.6L516.5 211.8L517.0 212.1L517.5 212.3L518.0 212.6L518.5 212.8L519.0 213.0L519.5 213.3L520.0 213.5L520.5 213.8L521.0 214.0L521.5 214.2L522.0 214.4L522.5 214.7L523.0 214.9L523.5 215.1L524.0 215.3L524.5 215.5L525.0 215.8L525.5 216.0L526.0 216.2L526.5 216.4L527.0 216.6L527.5 216.8L528.0 217.0L528.5 217.2L529.0 217.4L529.5 217.6L530.0 217.8L530.5 217.9L531.0 218.1L531.5 218.3L532.0 218.5L532.5 218.7L533.0 218.9L533.5 219.0L534.0 219.2L534.5 219.4L535.0 219.5L535.5 219.7L536.0 219.9L536.5 220.0L537.0 220.2L537.5 220.3L538.0 220.5L538.5 220.7L539.0 220.8L539.5 221.0L540.0 221.1L540.5 221.3L541.0 221.4L541.5 221.6L542.0 221.7L542.5 221.9L543.0 222.0L543.5 222.2L544.0 222.3L544.5 222.5L545.0 222.6L545.5 222.7L546.0 222.9L546.5 223.0L547.0 223.1L547.5 223.3L548.0 223.4L548.5 223.5L549.0 223.7L549.5 223.8L550.0 223.9L550.5 224.0L551.0 224.1L551.5 224.3L552.0 224.4L552.5 224.5L553.0 224.6L553.5 224.7L554.0 224.8L554.5 224.9L555.0 225.0L555.5 225.1L556.0 225.2L556.5 225.3L557.0 225.4L557.5 225.5L558.0 225.6L558.5 225.7L559.0 225.8L559.5 225.9L560.0 226.0L560.5 226.0L561.0 226.1L561.5 226.2L562.0 226.3L562.5 226.4L563.0 226.5L563.5 226.5L564.0 226.6L564.5 226.7L565.0 226.8L565.5 226.8L566.0 226.9L566.5 227.0L567.0 227.1L567.5 227.1L568.0 227.2L568.5 227.3L569.0 227.4L569.5 227.4L570.0 227.5L570.5 227.6L571.0 227.6L571.5 227.7L572.0 227.8L572.5 227.8L573.0 227.9L573.5 228.0L574.0 228.0L574.5 228.1L575.0 228.2L575.5 228.2L576.0 228.3L576.5 228.3L577.0 228.4L577.5 228.5L578.0 228.5L578.5 228.6L579.0 228.6L579.5 228.7L580.0 228.8L580.5 228.8L581.0 228.9L581.5 228.9L582.0 229.0L582.5 229.1L583.0 229.1L583.5 229.2L584.0 229.2L584.5 229.3L585.0 229.4L585.5 229.4L586.0 229.5L586.5 229.5L587.0 229.6L587.5 229.6L588.0 229.7L588.5 229.8L589.0 229.8L589.5 229.9L590.0 229.9L590.5 230.0L591.0 230.0L591.5 230.1L592.0 230.1L592.5 230.2L593.0 230.2L593.5 230.3L594.0 230.4L594.5 230.4L595.0 230.5L595.5 230.5L596.0 230.6L596.5 230.6L597.0 230.7L597.5 230.7L598.0 230.8L598.5 230.8L599.0 230.8L599.5 230.9L600.0 230.9L600.5 231.0L601.0 231.0L601.5 231.1L602.0 231.1L602.5 231.2L603.0 231.2L603.5 231.3L604.0 231.3L604.5 231.3L605.0 231.4L605.5 231.4L606.0 231.5L606.5 231.5L607.0 231.5L607.5 231.6L608.0 231.6L608.5 231.7L609.0 231.7" stroke="#00f" stroke-width="2.6"/>
<path d="M56.0 313.1L56.5 313.1L57.0 313.1L57.5 313.1L58.0 313.1L58.5 313.1L59.0 313.1L59.5 313.1L60.0 313.1L60.5 313.1L61.0 313.1L61.5 313.1L62.0 313.1L62.5 313.1L63.0 313.1L63.5 313.1L64.0 313.1L64.5 313.1L65.0 313.1L65.5 313.1L66.0 313.1L66.5 313.1L67.0 313.1L67.5 313.1L68.0 313.1L68.5 313.1L69.0 313.1L69.5 313.1L70.0 313.1L70.5 313.1L71.0 313.1L71.5 313.1L72.0 313.1L72.5 313.1L73.0 313.0L73.5 313.0L74.0 313.0L74.5 313.0L75.0 313.0L75.5 313.0L76.0 313.0L76.5 313.0L77.0 313.0L77.5 313.0L78.0 313.0L78.5 313.0L79.0 313.0L79.5 313.0L80.0 313.0L80.5 313.0L81.0 313.0L81.5 313.0L82.0 313.0L82.5 313.0L83.0 313.0L83.5 313.0L84.0 313.0L84.5 313.0L85.0 313.0L85.5 313.0L86.0 313.0L86.5 313.0L87.0 312.9L87.5 312.9L88.0 312.9L88.5 312.9L89.0 312.9L89.5 312.9L90.0 312.9L90.5 312.9L91.0 312.9L91.5 312.9L92.0 312.9L92.5 312.9L93.0 312.9L93.5 312.9L94.0 312.9L94.5 312.9L95.0 312.9L95.5 312.9L96.0 312.9L96.5 312.9L97.0 312.9L97.5 312.9L98.0 312.8L98.5 312.8L99.0 312.8L99.5 312.8L100.0 312.8L100.5 312.8L101.0 312.8L101.5 312.8L102.0 312.8L102.5 312.8L103.0 312.8L103.5 312.8L104.0 312.8L104.5 312.8L105.0 312.7L105.5 312.7L106.0 312.7L106.5 312.7L107.0 312.7L107.5 312.7L108.0 312.7L108.5 312.7L109.0 312.7L109.5 312.7L110.0 312.7L110.5 312.6L111.0 312.6L111.5 312.6L112.0 312.6L112.5 312.6L113.0 312.6L113.5 312.6L114.0 312.6L114.5 312.6L115.0 312.6L115.5 312.5L116.0 312.5L116.5 312.5L117.0 312.5L117.5 312.5L118.0 312.5L118.5 312.5L119.0 312.5L119.5 312.5L120.0 312.5L120.5 312.4L121.0 312.4L121.5 312.4L122.0 312.4L122.5 312.4L123.0 312.4L123.5 312.4L124.0 312.4L124.5 312.4L125.0 312.3L125.5 312.3L126.0 312.3L126.5 312.3L127.0 312.3L127.5 312.3L128.0 312.3L128.5 312.3L129.0 312.2L129.5 312.2L130.0 312.2L130.5 312.2L131.0 312.2L131.5 312.2L132.0 312.2L132.5 312.2L133.0 312.2L133.5 312.1L134.0 312.1L134.5 312.1L135.0 312.1L135.5 312.1L136.0 312.1L136.5 312.1L137.0 312.1L137.5 312.1L138.0 312.0L138.5 312.0L139.0 312.0L139.5 312.0L140.0 312.0L140.5 312.0L141.0 312.0L141.5 312.0L142.0 311.9L142.5 311.9L143.0 311.9L143.5 311.9L144.0 311.9L144.5 311.9L145.0 311.9L145.5 311.9L146.0 311.8L146.5 311.8L147.0 311.8L147.5 311.8L148.0 311.8L148.5 311.8L149.0 311.8L149.5 311.8L150.0 311.7L150.5 311.7L151.0 311.7L151.5 311.7L152.0 311.7L152.5 311.7L153.0 311.7L153.5 311.6L154.0 311.6L154.5 311.6L155.0 311.6L155.5 311.6L156.0 311.6L156.5 311.6L157.0 311.5L157.5 311.5L158.0 311.5L158.5 311.5L159.0 311.5L159.5 311.5L160.0 311.4L160.5 311.4L161.0 311.4L161.5 311.4L162.0 311.4L162.5 311.4L163.0 311.4L163.5 311.3L164.0 311.3L164.5 311.3L165.0 311.3L165.5 311.3L166.0 311.3L166.5 311.2L167.0 311.2L167.5 311.2L168.0 311.2L168.5 311.2L169.0 311.1L169.5 311.1L170.0 311.1L170.5 311.1L171.0 311.1L171.5 311.1L172.0 311.0L172.5 311.0L173.0 311.0L173.5 311.0L174.0 311.0L174.5 310.9L175.0 310.9L175.5 310.9L176.0 310.9L176.5 310.9L177.0 310.8L177.5 310.8L178.0 310.8L178.5 310.8L179.0 310.8L179.5 310.7L180.0 310.7L180.5 310.7L181.0 310.7L181.5 310.6L182.0 310.6L182.5 310.6L183.0 310.6L183.5 310.6L184.0 310.5L184.5 310.5L185.0 310.5L185.5 310.4L186.0 310.4L186.5 310.4L187.0 310.4L187.5 310.3L188.0 310.3L188.5 310.3L189.0 310.3L189.5 310.2L190.0 310.2L190.5 310.2L191.0 310.1L191.5 310.1L192.0 310.1L192.5 310.1L193.0 310.0L193.5 310.0L194.0 310.0L194.5 309.9L195.0 309.9L195.5 309.9L196.0 309.8L196.5 309.8L197.0 309.8L197.5 309.7L198.0 309.7L198.5 309.7L199.0 309.6L199.5 309.6L200.0 309.6L200.5 309.5L201.0 309.5L201.5 309.5L202.0 309.4L202.5 309.4L203.0 309.4L203.5 309.3L204.0 309.3L204.5 309.3L205.0 309.2L205.5 309.2L206.0 309.2L206.5 309.1L207.0 309.1L207.5 309.0L208.0 309.0L208.5 309.0L209.0 308.9L209.5 308.9L210.0 308.9L210.5 308.8L211.0 308.8L211.5 308.7L212.0 308.7L212.5 308.7L213.0 308.6L213.5 308.6L214.0 308.5L214.5 308.5L215.0 308.5L215.5 308.4L216.0 308.4L216.5 308.3L217.0 308.3L217.5 308.3L218.0 308.2L218.5 308.2L219.0 308.1L219.5 308.1L220.0 308.1L220.5 308.0L221.0 308.0L221.5 307.9L222.0 307.9L222.5 307.8L223.0 307.8L223.5 307.8L224.0 307.7L224.5 307.7L225.0 307.6L225.5 307.6L226.0 307.5L226.5 307.5L227.0 307.4L227.5 307.4L228.0 307.4L228.5 307.3L229.0 307.3L229.5 307.2L230.0 307.2L230.5 307.1L231.0 307.1L231.5 307.0L232.0 307.0L232.5 306.9L233.0 306.9L233.5 306.8L234.0 306.8L234.5 306.7L235.0 306.7L235.5 306.6L236.0 306.6L236.5 306.5L237.0 306.5L237.5 306.4L238.0 306.3L238.5 306.3L239.0 306.2L239.5 306.2L240.0 306.1L240.5 306.1L241.0 306.0L241.5 306.0L242.0 305.9L242.5 305.8L243.0 305.8L243.5 305.7L244.0 305.7L244.5 305.6L245.0 305.5L245.5 305.5L246.0 305.4L246.5 305.4L247.0 305.3L247.5 305.2L248.0 305.2L248.5 305.1L249.0 305.1L249.5 305.0L250.0 304.9L250.5 304.9L251.0 304.8L251.5 304.7L252.0 304.7L252.5 304.6L253.0 304.5L253.5 304.5L254.0 304.4L254.5 304.4L255.0 304.3L255.5 304.2L256.0 304.1L256.5 304.1L257.0 304.0L257.5 303.9L258.0 303.9L258.5 303.8L259.0 303.7L259.5 303.7L260.0 303.6L260.5 303.5L261.0 303.4L261.5 303.4L262.0 303.3L262.5 303.2L263.0 303.2L263.5 303.1L264.0 303.0L264.5 302.9L265.0 302.9L265.5 302.8L266.0 302.7L266.5 302.6L267.0 302.5L267.5 302.5L268.0 302.4L268.5 302.3L269.0 302.2L269.5 302.1L270.0 302.0L270.5 302.0L271.0 301.9L271.5 301.8L272.0 301.7L272.5 301.6L273.0 301.5L273.5 301.4L274.0 301.3L274.5 301.2L275.0 301.1L275.5 301.0L276.0 300.9L276.5 300.9L277.0 300.8L277.5 300.7L278.0 300.6L278.5 300.5L279.0 300.4L279.5 300.3L280.0 300.2L280.5 300.1L281.0 300.0L281.5 299.8L282.0 299.7L282.5 299.6L283.0 299.5L283.5 299.4L284.0 299.3L284.5 299.2L285.0 299.1L285.5 299.0L286.0 298.9L286.5 298.8L287.0 298.7L287.5 298.5L288.0 298.4L288.5 298.3L289.0 298.2L289.5 298.1L290.0 298.0L290.5 297.9L291.0 297.7L291.5 297.6L292.0 297.5L292.5 297.4L293.0 297.3L293.5 297.2L294.0 297.0L294.5 296.9L295.0 296.8L295.5 296.7L296.0 296.6L296.5 296.4L297.0 296.3L297.5 296.2L298.0 296.1L298.5 295.9L299.0 295.8L299.5 295.7L300.0 295.5L300.5 295.4L301.0 295.3L301.5 295.1L302.0 295.0L302.5 294.9L303.0 294.7L303.5 294.6L304.0 294.4L304.5 294.3L305.0 294.1L305.5 294.0L306.0 293.8L306.5 293.7L307.0 293.6L307.5 293.4L308.0 293.2L308.5 293.1L309.0 292.9L309.5 292.8L310.0 292.6L310.5 292.5L311.0 292.3L311.5 292.2L312.0 292.0L312.5 291.8L313.0 291.7L313.5 291.5L314.0 291.3L314.5 291.2L315.0 291.0L315.5 290.8L316.0 290.7L316.5 290.5L317.0 290.3L317.5 290.2L318.0 290.0L318.5 289.8L319.0 289.7L319.5 289.5L320.0 289.3L320.5 289.1L321.0 288.9L321.5 288.8L322.0 288.6L322.5 288.4L323.0 288.2L323.5 288.0L324.0 287.8L324.5 287.6L325.0 287.4L325.5 287.2L326.0 287.0L326.5 286.8L327.0 286.6L327.5 286.4L328.0 286.2L328.5 285.9L329.0 285.7L329.5 285.5L330.0 285.3L330.5 285.1L331.0 284.9L331.5 284.6L332.0 284.4L332.5 284.2L333.0 284.0L333.5 283.8L334.0 283.5L334.5 283.3L335.0 283.1L335.5 282.9L336.0 282.6L336.5 282.4L337.0 282.2L337.5 282.0L338.0 281.7L338.5 281.5L339.0 281.3L339.5 281.1L340.0 280.9L340.5 280.6L341.0 280.4L341.5 280.2L342.0 280.0L342.5 279.8L343.0 279.6L343.5 279.3L344.0 279.1L344.5 278.9L345.0 278.7L345.5 278.5L346.0 278.3L346.5 278.0L347.0 277.8L347.5 277.6L348.0 277.4L348.5 277.2L349.0 277.0L349.5 276.8L350.0 276.5L350.5 276.3L351.0 276.1L351.5 275.9L352.0 275.7L352.5 275.4L353.0 275.2L353.5 275.0L354.0 274.8L354.5 274.6L355.0 274.3L355.5 274.1L356.0 273.9L356.5 273.7L357.0 273.4L357.5 273.2L358.0 273.0L358.5 272.7L359.0 272.5L359.5 272.3L360.0 272.0L360.5 271.8L361.0 271.6L361.5 271.3L362.0 271.1L362.5 270.8L363.0 270.6L363.5 270.4L364.0 270.1L364.5 269.9L365.0 269.6L365.5 269.4L366.0 269.1L366.5 268.9L367.0 268.6L367.5 268.4L368.0 268.1L368.5 267.8L369.0 267.6L369.5 267.3L370.0 267.1L370.5 266.8L371.0 266.6L371.5 266.3L372.0 266.0L372.5 265.8L373.0 265.5L373.5 265.2L374.0 265.0L374.5 264.7L375.0 264.4L375.5 264.1L376.0 263.9L376.5 263.6L377.0 263.3L377.5 263.0L378.0 262.7L378.5 262.4L379.0 262.1L379.5 261.9L380.0 261.6L380.5 261.3L381.0 261.0L381.5 260.7L382.0 260.4L382.5 260.1L383.0 259.7L383.5 259.4L384.0 259.1L384.5 258.8L385.0 258.5L385.5 258.2L386.0 257.8L386.5 257.5L387.0 257.2L387.5 256.9L388.0 256.5L388.5 256.2L389.0 255.9L389.5 255.6L390.0 255.2L390.5 254.9L391.0 254.6L391.5 254.2L392.0 253.9L392.5 253.5L393.0 253.2L393.5 252.8L394.0 252.5L394.5 252.1L395.0 251.7L395.5 251.4L396.0 251.0L396.5 250.6L397.0 250.2L397.5 249.9L398.0 249.5L398.5 249.1L399.0 248.7L399.5 248.3L400.0 247.9L400.5 247.4L401.0 247.0L401.5 246.6L402.0 246.2L402.5 245.7L403.0 245.3L403.5 244.8L404.0 244.4L404.5 243.9L405.0 243.5L405.5 243.0L406.0 242.5L406.5 242.0L407.0 241.5L407.5 240.9L408.0 240.4L408.5 239.8L409.0 239.2L409.5 238.5L410.0 237.9L410.5 237.3L411.0 236.6L411.5 235.9L412.0 235.2L412.5 234.5L413.0 233.8L413.5 233.1L414.0 232.4L414.5 231.7L415.0 231.0L415.5 230.2L416.0 229.5L416.5 228.8L417.0 228.1L417.5 227.4L418.0 226.7L418.5 226.0L419.0 225.3L419.5 224.6L420.0 223.9L420.5 223.3L421.0 222.6L421.5 222.0L422.0 221.4L422.5 220.8L423.0 220.2L423.5 219.6L424.0 219.1L424.5 218.5L425.0 217.9L425.5 217.3L426.0 216.7L426.5 216.2L427.0 215.6L427.5 215.0L428.0 214.4L428.5 213.9L429.0 213.3L429.5 212.7L430.0 212.2L430.5 211.7L431.0 211.2L431.5 210.7L432.0 210.2L432.5 209.7L433.0 209.3L433.5 208.9L434.0 208.5L434.5 208.1L435.0 207.8L435.5 207.5L436.0 207.2L436.5 206.9L437.0 206.7L437.5 206.4L438.0 206.1L438.5 205.9L439.0 205.6L439.5 205.4L440.0 205.1L440.5 204.9L441.0 204.7L441.5 204.4L442.0 204.2L442.5 204.0L443.0 203.8L443.5 203.7L444.0 203.5L444.5 203.4L445.0 203.2L445.5 203.1L446.0 203.0L446.5 203.0L447.0 202.9L447.5 202.9L448.0 202.9L448.5 202.9L449.0 203.0L449.5 203.1L450.0 203.3L450.5 203.5L451.0 203.7L451.5 204.0L452.0 204.2L452.5 204.5L453.0 204.9L453.5 205.2L454.0 205.5L454.5 205.9L455.0 206.3L455.5 206.7L456.0 207.1L456.5 207.5L457.0 207.9L457.5 208.3L458.0 208.7L458.5 209.2L459.0 209.7L459.5 210.3L460.0 210.9L460.5 211.6L461.0 212.3L461.5 213.0L462.0 213.7L462.5 214.5L463.0 215.3L463.5 216.2L464.0 217.0L464.5 217.9L465.0 218.8L465.5 219.7L466.0 220.6L466.5 221.5L467.0 222.5L467.5 223.4L468.0 224.3L468.5 225.3L469.0 226.2L469.5 227.1L470.0 228.0L470.5 228.9L471.0 229.8L471.5 230.7L472.0 231.7L472.5 232.6L473.0 233.6L473.5 234.7L474.0 235.7L474.5 236.7L475.0 237.8L475.5 238.8L476.0 239.9L476.5 241.0L477.0 242.0L477.5 243.1L478.0 244.2L478.5 245.2L479.0 246.3L479.5 247.3L480.0 248.3L480.5 249.3L481.0 250.3L481.5 251.3L482.0 252.2L482.5 253.1L483.0 254.0L483.5 254.8L484.0 255.7L484.5 256.5L485.0 257.3L485.5 258.2L486.0 259.0L486.5 259.8L487.0 260.6L487.5 261.3L488.0 262.1L488.5 262.8L489.0 263.5L489.5 264.3L490.0 265.0L490.5 265.6L491.0 266.3L491.5 266.9L492.0 267.5L492.5 268.1L493.0 268.7L493.5 269.3L494.0 269.9L494.5 270.4L495.0 271.0L495.5 271.5L496.0 272.0L496.5 272.6L497.0 273.1L497.5 273.6L498.0 274.1L498.5 274.6L499.0 275.0L499.5 275.5L500.0 275.9L500.5 276.4L501.0 276.8L501.5 277.2L502.0 277.6L502.5 278.0L503.0 278.4L503.5 278.8L504.0 279.2L504.5 279.5L505.0 279.9L505.5 280.3L506.0 280.6L506.5 281.0L507.0 281.3L507.5 281.6L508.0 282.0L508.5 282.3L509.0 282.6L509.5 283.0L510.0 283.3L510.5 283.6L511.0 283.9L511.5 284.2L512.0 284.5L512.5 284.8L513.0 285.1L513.5 285.4L514.0 285.7L514.5 286.0L515.0 286.3L515.5 286.6L516.0 286.8L516.5 287.1L517.0 287.4L517.5 287.7L518.0 287.9L518.5 288.2L519.0 288.5L519.5 288.7L520.0 289.0L520.5 289.2L521.0 289.5L521.5 289.7L522.0 290.0L522.5 290.2L523.0 290.5L523.5 290.7L524.0 291.0L524.5 291.2L525.0 291.4L525.5 291.7L526.0 291.9L526.5 292.1L527.0 292.4L527.5 292.6L528.0 292.8L528.5 293.1L529.0 293.3L529.5 293.5L530.0 293.8L530.5 294.0L531.0 294.2L531.5 294.4L532.0 294.7L532.5 294.9L533.0 295.1L533.5 295.3L534.0 295.5L534.5 295.7L535.0 295.9L535.5 296.1L536.0 296.3L536.5 296.5L537.0 296.7L537.5 296.9L538.0 297.1L538.5 297.3L539.0 297.5L539.5 297.7L540.0 297.9L540.5 298.0L541.0 298.2L541.5 298.4L542.0 298.5L542.5 298.7L543.0 298.9L543.5 299.0L544.0 299.2L544.5 299.3L545.0 299.4L545.5 299.6L546.0 299.7L546.5 299.8L547.0 300.0L547.5 300.1L548.0 300.2L548.5 300.3L549.0 300.5L549.5 300.6L550.0 300.7L550.5 300.8L551.0 300.9L551.5 301.0L552.0 301.2L552.5 301.3L553.0 301.4L553.5 301.5L554.0 301.6L554.5 301.7L555.0 301.8L555.5 301.9L556.0 302.0L556.5 302.1L557.0 302.2L557.5 302.3L558.0 302.4L558.5 302.5L559.0 302.6L559.5 302.7L560.0 302.7L560.5 302.8L561.0 302.9L561.5 303.0L562.0 303.1L562.5 303.2L563.0 303.3L563.5 303.3L564.0 303.4L564.5 303.5L565.0 303.6L565.5 303.7L566.0 303.7L566.5 303.8L567.0 303.9L567.5 304.0L568.0 304.0L568.5 304.1L569.0 304.2L569.5 304.3L570.0 304.3L570.5 304.4L571.0 304.5L571.5 304.5L572.0 304.6L572.5 304.7L573.0 304.8L573.5 304.8L574.0 304.9L574.5 305.0L575.0 305.0L575.5 305.1L576.0 305.2L576.5 305.3L577.0 305.3L577.5 305.4L578.0 305.5L578.5 305.5L579.0 305.6L579.5 305.7L580.0 305.7L580.5 305.8L581.0 305.9L581.5 305.9L582.0 306.0L582.5 306.1L583.0 306.1L583.5 306.2L584.0 306.2L584.5 306.3L585.0 306.4L585.5 306.4L586.0 306.5L586.5 306.6L587.0 306.6L587.5 306.7L588.0 306.7L588.5 306.8L589.0 306.9L589.5 306.9L590.0 307.0L590.5 307.0L591.0 307.1L591.5 307.1L592.0 307.2L592.5 307.2L593.0 307.3L593.5 307.3L594.0 307.4L594.5 307.5L595.0 307.5L595.5 307.6L596.0 307.6L596.5 307.6L597.0 307.7L597.5 307.7L598.0 307.8L598.5 307.8L599.0 307.9L599.5 307.9L600.0 308.0L600.5 308.0L601.0 308.1L601.5 308.1L602.0 308.1L602.5 308.2L603.0 308.2L603.5 308.2L604.0 308.3L604.5 308.3L605.0 308.4L605.5 308.4L606.0 308.4L606.5 308.5L607.0 308.5L607.5 308.5L608.0 308.5L608.5 308.6L609.0 308.6" stroke="#00f" stroke-width="2.6"/>
<path d="M56.0 384.4L56.5 384.4L57.0 384.4L57.5 384.4L58.0 384.4L58.5 384.4L59.0 384.4L59.5 384.3L60.0 384.3L60.5 384.3L61.0 384.3L61.5 384.3L62.0 384.3L62.5 384.3L63.0 384.3L63.5 384.3L64.0 384.3L64.5 384.3L65.0 384.3L65.5 384.2L66.0 384.2L66.5 384.2L67.0 384.2L67.5 384.2L68.0 384.2L68.5 384.2L69.0 384.2L69.5 384.2L70.0 384.2L70.5 384.2L71.0 384.2L71.5 384.1L72.0 384.1L72.5 384.1L73.0 384.1L73.5 384.1L74.0 384.1L74.5 384.1L75.0 384.1L75.5 384.1L76.0 384.1L76.5 384.1L77.0 384.1L77.5 384.1L78.0 384.0L78.5 384.0L79.0 384.0L79.5 384.0L80.0 384.0L80.5 384.0L81.0 384.0L81.5 384.0L82.0 384.0L82.5 384.0L83.0 384.0L83.5 384.0L84.0 383.9L84.5 383.9L85.0 383.9L85.5 383.9L86.0 383.9L86.5 383.9L87.0 383.9L87.5 383.9L88.0 383.9L88.5 383.9L89.0 383.9L89.5 383.9L90.0 383.8L90.5 383.8L91.0 383.8L91.5 383.8L92.0 383.8L92.5 383.8L93.0 383.8L93.5 383.8L94.0 383.8L94.5 383.8L95.0 383.8L95.5 383.8L96.0 383.7L96.5 383.7L97.0 383.7L97.5 383.7L98.0 383.7L98.5 383.7L99.0 383.7L99.5 383.7L100.0 383.7L100.5 383.7L101.0 383.7L101.5 383.7L102.0 383.7L102.5 383.6L103.0 383.6L103.5 383.6L104.0 383.6L104.5 383.6L105.0 383.6L105.5 383.6L106.0 383.6L106.5 383.6L107.0 383.6L107.5 383.6L108.0 383.6L108.5 383.6L109.0 383.5L109.5 383.5L110.0 383.5L110.5 383.5L111.0 383.5L111.5 383.5L112.0 383.5L112.5 383.5L113.0 383.5L113.5 383.5L114.0 383.5L114.5 383.5L115.0 383.5L115.5 383.4L116.0 383.4L116.5 383.4L117.0 383.4L117.5 383.4L118.0 383.4L118.5 383.4L119.0 383.4L119.5 383.4L120.0 383.4L120.5 383.4L121.0 383.4L121.5 383.3L122.0 383.3L122.5 383.3L123.0 383.3L123.5 383.3L124.0 383.3L124.5 383.3L125.0 383.3L125.5 383.3L126.0 383.3L126.5 383.3L127.0 383.3L127.5 383.2L128.0 383.2L128.5 383.2L129.0 383.2L129.5 383.2L130.0 383.2L130.5 383.2L131.0 383.2L131.5 383.2L132.0 383.2L132.5 383.2L133.0 383.1L133.5 383.1L134.0 383.1L134.5 383.1L135.0 383.1L135.5 383.1L136.0 383.1L136.5 383.1L137.0 383.1L137.5 383.1L138.0 383.1L138.5 383.0L139.0 383.0L139.5 383.0L140.0 383.0L140.5 383.0L141.0 383.0L141.5 383.0L142.0 383.0L142.5 383.0L143.0 383.0L143.5 382.9L144.0 382.9L144.5 382.9L145.0 382.9L145.5 382.9L146.0 382.9L146.5 382.9L147.0 382.9L147.5 382.9L148.0 382.9L148.5 382.8L149.0 382.8L149.5 382.8L150.0 382.8L150.5 382.8L151.0 382.8L151.5 382.8L152.0 382.8L152.5 382.8L153.0 382.8L153.5 382.7L154.0 382.7L154.5 382.7L155.0 382.7L155.5 382.7L156.0 382.7L156.5 382.7L157.0 382.7L157.5 382.7L158.0 382.6L158.5 382.6L159.0 382.6L159.5 382.6L160.0 382.6L160.5 382.6L161.0 382.6L161.5 382.6L162.0 382.6L162.5 382.5L163.0 382.5L163.5 382.5L164.0 382.5L164.5 382.5L165.0 382.5L165.5 382.5L166.0 382.5L166.5 382.4L167.0 382.4L167.5 382.4L168.0 382.4L168.5 382.4L169.0 382.4L169.5 382.4L170.0 382.3L170.5 382.3L171.0 382.3L171.5 382.3L172.0 382.3L172.5 382.3L173.0 382.3L173.5 382.2L174.0 382.2L174.5 382.2L175.0 382.2L175.5 382.2L176.0 382.2L176.5 382.1L177.0 382.1L177.5 382.1L178.0 382.1L178.5 382.1L179.0 382.1L179.5 382.0L180.0 382.0L180.5 382.0L181.0 382.0L181.5 382.0L182.0 382.0L182.5 381.9L183.0 381.9L183.5 381.9L184.0 381.9L184.5 381.8L185.0 381.8L185.5 381.8L186.0 381.8L186.5 381.8L187.0 381.7L187.5 381.7L188.0 381.7L188.5 381.7L189.0 381.6L189.5 381.6L190.0 381.6L190.5 381.6L191.0 381.5L191.5 381.5L192.0 381.5L192.5 381.5L193.0 381.4L193.5 381.4L194.0 381.4L194.5 381.3L195.0 381.3L195.5 381.3L196.0 381.3L196.5 381.2L197.0 381.2L197.5 381.2L198.0 381.1L198.5 381.1L199.0 381.1L199.5 381.0L200.0 381.0L200.5 381.0L201.0 381.0L201.5 380.9L202.0 380.9L202.5 380.9L203.0 380.8L203.5 380.8L204.0 380.8L204.5 380.7L205.0 380.7L205.5 380.7L206.0 380.6L206.5 380.6L207.0 380.5L207.5 380.5L208.0 380.5L208.5 380.4L209.0 380.4L209.5 380.4L210.0 380.3L210.5 380.3L211.0 380.3L211.5 380.2L212.0 380.2L212.5 380.1L213.0 380.1L213.5 380.1L214.0 380.0L214.5 380.0L215.0 380.0L215.5 379.9L216.0 379.9L216.5 379.8L217.0 379.8L217.5 379.8L218.0 379.7L218.5 379.7L219.0 379.6L219.5 379.6L220.0 379.6L220.5 379.5L221.0 379.5L221.5 379.4L222.0 379.4L222.5 379.4L223.0 379.3L223.5 379.3L224.0 379.2L224.5 379.2L225.0 379.1L225.5 379.1L226.0 379.0L226.5 379.0L227.0 379.0L227.5 378.9L228.0 378.9L228.5 378.8L229.0 378.8L229.5 378.7L230.0 378.7L230.5 378.6L231.0 378.6L231.5 378.5L232.0 378.5L232.5 378.4L233.0 378.4L233.5 378.3L234.0 378.3L234.5 378.2L235.0 378.2L235.5 378.1L236.0 378.1L236.5 378.0L237.0 378.0L237.5 377.9L238.0 377.8L238.5 377.8L239.0 377.7L239.5 377.7L240.0 377.6L240.5 377.6L241.0 377.5L241.5 377.4L242.0 377.4L242.5 377.3L243.0 377.3L243.5 377.2L244.0 377.1L244.5 377.1L245.0 377.0L245.5 376.9L246.0 376.9L246.5 376.8L247.0 376.7L247.5 376.7L248.0 376.6L248.5 376.5L249.0 376.5L249.5 376.4L250.0 376.3L250.5 376.3L251.0 376.2L251.5 376.1L252.0 376.0L252.5 376.0L253.0 375.9L253.5 375.8L254.0 375.7L254.5 375.7L255.0 375.6L255.5 375.5L256.0 375.4L256.5 375.4L257.0 375.3L257.5 375.2L258.0 375.1L258.5 375.0L259.0 375.0L259.5 374.9L260.0 374.8L260.5 374.7L261.0 374.6L261.5 374.5L262.0 374.4L262.5 374.4L263.0 374.3L263.5 374.2L264.0 374.1L264.5 374.0L265.0 373.9L265.5 373.8L266.0 373.7L266.5 373.6L267.0 373.5L267.5 373.4L268.0 373.2L268.5 373.1L269.0 373.0L269.5 372.9L270.0 372.8L270.5 372.6L271.0 372.5L271.5 372.4L272.0 372.2L272.5 372.1L273.0 372.0L273.5 371.8L274.0 371.7L274.5 371.5L275.0 371.4L275.5 371.2L276.0 371.1L276.5 370.9L277.0 370.8L277.5 370.6L278.0 370.5L278.5 370.3L279.0 370.2L279.5 370.0L280.0 369.8L280.5 369.7L281.0 369.5L281.5 369.4L282.0 369.2L282.5 369.0L283.0 368.9L283.5 368.7L284.0 368.5L284.5 368.3L285.0 368.2L285.5 368.0L286.0 367.8L286.5 367.7L287.0 367.5L287.5 367.3L288.0 367.1L288.5 367.0L289.0 366.8L289.5 366.6L290.0 366.5L290.5 366.3L291.0 366.1L291.5 365.9L292.0 365.8L292.5 365.6L293.0 365.4L293.5 365.2L294.0 365.1L294.5 364.9L295.0 364.7L295.5 364.6L296.0 364.4L296.5 364.2L297.0 364.0L297.5 363.9L298.0 363.7L298.5 363.5L299.0 363.3L299.5 363.1L300.0 363.0L300.5 362.8L301.0 362.6L301.5 362.4L302.0 362.2L302.5 362.0L303.0 361.8L303.5 361.6L304.0 361.4L304.5 361.2L305.0 361.0L305.5 360.8L306.0 360.6L306.5 360.4L307.0 360.2L307.5 360.0L308.0 359.8L308.5 359.6L309.0 359.4L309.5 359.2L310.0 359.0L310.5 358.8L311.0 358.6L311.5 358.4L312.0 358.2L312.5 358.0L313.0 357.8L313.5 357.7L314.0 357.5L314.5 357.3L315.0 357.1L315.5 356.9L316.0 356.7L316.5 356.5L317.0 356.4L317.5 356.2L318.0 356.0L318.5 355.8L319.0 355.7L319.5 355.5L320.0 355.3L320.5 355.2L321.0 355.0L321.5 354.8L322.0 354.7L322.5 354.5L323.0 354.4L323.5 354.2L324.0 354.0L324.5 353.9L325.0 353.7L325.5 353.6L326.0 353.4L326.5 353.3L327.0 353.1L327.5 353.0L328.0 352.8L328.5 352.7L329.0 352.5L329.5 352.4L330.0 352.2L330.5 352.1L331.0 351.9L331.5 351.8L332.0 351.6L332.5 351.5L333.0 351.3L333.5 351.2L334.0 351.0L334.5 350.9L335.0 350.7L335.5 350.5L336.0 350.4L336.5 350.2L337.0 350.0L337.5 349.9L338.0 349.7L338.5 349.5L339.0 349.3L339.5 349.2L340.0 349.0L340.5 348.8L341.0 348.6L341.5 348.4L342.0 348.2L342.5 348.0L343.0 347.8L343.5 347.6L344.0 347.5L344.5 347.3L345.0 347.1L345.5 346.9L346.0 346.7L346.5 346.5L347.0 346.3L347.5 346.1L348.0 345.9L348.5 345.7L349.0 345.5L349.5 345.3L350.0 345.1L350.5 344.8L351.0 344.6L351.5 344.4L352.0 344.2L352.5 344.0L353.0 343.7L353.5 343.5L354.0 343.3L354.5 343.1L355.0 342.8L355.5 342.6L356.0 342.3L356.5 342.1L357.0 341.8L357.5 341.6L358.0 341.3L358.5 341.0L359.0 340.8L359.5 340.5L360.0 340.2L360.5 339.9L361.0 339.6L361.5 339.3L362.0 339.0L362.5 338.7L363.0 338.4L363.5 338.1L364.0 337.8L364.5 337.4L365.0 337.1L365.5 336.7L366.0 336.4L366.5 336.0L367.0 335.6L367.5 335.2L368.0 334.8L368.5 334.4L369.0 334.0L369.5 333.6L370.0 333.1L370.5 332.6L371.0 332.2L371.5 331.7L372.0 331.2L372.5 330.6L373.0 330.1L373.5 329.5L374.0 329.0L374.5 328.4L375.0 327.8L375.5 327.1L376.0 326.5L376.5 325.8L377.0 325.0L377.5 324.1L378.0 323.2L378.5 322.2L379.0 321.2L379.5 320.1L380.0 318.9L380.5 317.8L381.0 316.5L381.5 315.3L382.0 314.0L382.5 312.7L383.0 311.4L383.5 310.1L384.0 308.8L384.5 307.4L385.0 306.1L385.5 304.8L386.0 303.4L386.5 302.1L387.0 300.9L387.5 299.6L388.0 298.4L388.5 297.2L389.0 296.0L389.5 294.8L390.0 293.6L390.5 292.3L391.0 291.0L391.5 289.7L392.0 288.4L392.5 287.1L393.0 285.8L393.5 284.6L394.0 283.4L394.5 282.2L395.0 281.1L395.5 280.1L396.0 279.2L396.5 278.4L397.0 277.7L397.5 277.1L398.0 276.5L398.5 276.0L399.0 275.4L399.5 274.9L400.0 274.4L400.5 273.9L401.0 273.5L401.5 273.0L402.0 272.6L402.5 272.3L403.0 272.0L403.5 271.7L404.0 271.5L404.5 271.3L405.0 271.2L405.5 271.2L406.0 271.2L406.5 271.3L407.0 271.4L407.5 271.6L408.0 271.8L408.5 272.1L409.0 272.4L409.5 272.7L410.0 273.1L410.5 273.5L411.0 273.9L411.5 274.3L412.0 274.8L412.5 275.2L413.0 275.7L413.5 276.2L414.0 276.7L414.5 277.2L415.0 277.8L415.5 278.4L416.0 279.1L416.5 279.9L417.0 280.8L417.5 281.8L418.0 282.8L418.5 283.9L419.0 285.1L419.5 286.3L420.0 287.5L420.5 288.8L421.0 290.1L421.5 291.5L422.0 292.8L422.5 294.2L423.0 295.6L423.5 297.0L424.0 298.3L424.5 299.7L425.0 301.1L425.5 302.4L426.0 303.8L426.5 305.1L427.0 306.3L427.5 307.5L428.0 308.8L428.5 310.0L429.0 311.3L429.5 312.7L430.0 314.0L430.5 315.4L431.0 316.8L431.5 318.2L432.0 319.6L432.5 321.0L433.0 322.4L433.5 323.8L434.0 325.1L434.5 326.5L435.0 327.8L435.5 329.1L436.0 330.4L436.5 331.7L437.0 332.9L437.5 334.0L438.0 335.1L438.5 336.2L439.0 337.2L439.5 338.1L440.0 339.0L440.5 339.8L441.0 340.6L441.5 341.3L442.0 342.1L442.5 342.8L443.0 343.5L443.5 344.1L444.0 344.8L444.5 345.4L445.0 346.0L445.5 346.6L446.0 347.2L446.5 347.8L447.0 348.4L447.5 348.9L448.0 349.4L448.5 350.0L449.0 350.5L449.5 351.0L450.0 351.5L450.5 352.0L451.0 352.4L451.5 352.9L452.0 353.4L452.5 353.9L453.0 354.3L453.5 354.8L454.0 355.2L454.5 355.7L455.0 356.1L455.5 356.6L456.0 357.0L456.5 357.5L457.0 357.9L457.5 358.4L458.0 358.8L458.5 359.2L459.0 359.6L459.5 360.0L460.0 360.5L460.5 360.9L461.0 361.3L461.5 361.7L462.0 362.0L462.5 362.4L463.0 362.8L463.5 363.2L464.0 363.5L464.5 363.9L465.0 364.2L465.5 364.6L466.0 364.9L466.5 365.2L467.0 365.5L467.5 365.8L468.0 366.1L468.5 366.4L469.0 366.7L469.5 366.9L470.0 367.2L470.5 367.4L471.0 367.7L471.5 367.9L472.0 368.2L472.5 368.4L473.0 368.6L473.5 368.9L474.0 369.1L474.5 369.3L475.0 369.5L475.5 369.7L476.0 370.0L476.5 370.2L477.0 370.4L477.5 370.6L478.0 370.8L478.5 371.0L479.0 371.2L479.5 371.4L480.0 371.6L480.5 371.7L481.0 371.9L481.5 372.1L482.0 372.3L482.5 372.4L483.0 372.6L483.5 372.8L484.0 372.9L484.5 373.1L485.0 373.3L485.5 373.4L486.0 373.5L486.5 373.7L487.0 373.8L487.5 374.0L488.0 374.1L488.5 374.2L489.0 374.4L489.5 374.5L490.0 374.6L490.5 374.7L491.0 374.8L491.5 374.9L492.0 375.0L492.5 375.1L493.0 375.2L493.5 375.3L494.0 375.4L494.5 375.5L495.0 375.6L495.5 375.7L496.0 375.8L496.5 375.9L497.0 376.0L497.5 376.0L498.0 376.1L498.5 376.2L499.0 376.3L499.5 376.4L500.0 376.5L500.5 376.6L501.0 376.6L501.5 376.7L502.0 376.8L502.5 376.9L503.0 376.9L503.5 377.0L504.0 377.1L504.5 377.2L505.0 377.2L505.5 377.3L506.0 377.4L506.5 377.4L507.0 377.5L507.5 377.6L508.0 377.7L508.5 377.7L509.0 377.8L509.5 377.8L510.0 377.9L510.5 378.0L511.0 378.0L511.5 378.1L512.0 378.1L512.5 378.2L513.0 378.3L513.5 378.3L514.0 378.4L514.5 378.4L515.0 378.5L515.5 378.5L516.0 378.6L516.5 378.6L517.0 378.7L517.5 378.7L518.0 378.8L518.5 378.8L519.0 378.9L519.5 378.9L520.0 379.0L520.5 379.0L521.0 379.1L521.5 379.1L522.0 379.1L522.5 379.2L523.0 379.2L523.5 379.3L524.0 379.3L524.5 379.3L525.0 379.4L525.5 379.4L526.0 379.4L526.5 379.5L527.0 379.5L527.5 379.5L528.0 379.6L528.5 379.6L529.0 379.6L529.5 379.7L530.0 379.7L530.5 379.7L531.0 379.8L531.5 379.8L532.0 379.8L532.5 379.9L533.0 379.9L533.5 379.9L534.0 379.9L534.5 380.0L535.0 380.0L535.5 380.0L536.0 380.1L536.5 380.1L537.0 380.1L537.5 380.1L538.0 380.2L538.5 380.2L539.0 380.2L539.5 380.2L540.0 380.3L540.5 380.3L541.0 380.3L541.5 380.3L542.0 380.4L542.5 380.4L543.0 380.4L543.5 380.4L544.0 380.5L544.5 380.5L545.0 380.5L545.5 380.5L546.0 380.5L546.5 380.6L547.0 380.6L547.5 380.6L548.0 380.6L548.5 380.7L549.0 380.7L549.5 380.7L550.0 380.7L550.5 380.7L551.0 380.8L551.5 380.8L552.0 380.8L552.5 380.8L553.0 380.9L553.5 380.9L554.0 380.9L554.5 380.9L555.0 380.9L555.5 381.0L556.0 381.0L556.5 381.0L557.0 381.0L557.5 381.0L558.0 381.1L558.5 381.1L559.0 381.1L559.5 381.1L560.0 381.2L560.5 381.2L561.0 381.2L561.5 381.2L562.0 381.2L562.5 381.3L563.0 381.3L563.5 381.3L564.0 381.3L564.5 381.3L565.0 381.4L565.5 381.4L566.0 381.4L566.5 381.4L567.0 381.5L567.5 381.5L568.0 381.5L568.5 381.5L569.0 381.5L569.5 381.6L570.0 381.6L570.5 381.6L571.0 381.6L571.5 381.6L572.0 381.7L572.5 381.7L573.0 381.7L573.5 381.7L574.0 381.7L574.5 381.8L575.0 381.8L575.5 381.8L576.0 381.8L576.5 381.8L577.0 381.9L577.5 381.9L578.0 381.9L578.5 381.9L579.0 381.9L579.5 381.9L580.0 382.0L580.5 382.0L581.0 382.0L581.5 382.0L582.0 382.0L582.5 382.1L583.0 382.1L583.5 382.1L584.0 382.1L584.5 382.1L585.0 382.1L585.5 382.2L586.0 382.2L586.5 382.2L587.0 382.2L587.5 382.2L588.0 382.3L588.5 382.3L589.0 382.3L589.5 382.3L590.0 382.3L590.5 382.3L591.0 382.4L591.5 382.4L592.0 382.4L592.5 382.4L593.0 382.4L593.5 382.4L594.0 382.5L594.5 382.5L595.0 382.5L595.5 382.5L596.0 382.5L596.5 382.5L597.0 382.6L597.5 382.6L598.0 382.6L598.5 382.6L599.0 382.6L599.5 382.6L600.0 382.6L600.5 382.7L601.0 382.7L601.5 382.7L602.0 382.7L602.5 382.7L603.0 382.7L603.5 382.8L604.0 382.8L604.5 382.8L605.0 382.8L605.5 382.8L606.0 382.8L606.5 382.8L607.0 382.8L607.5 382.9L608.0 382.9L608.5 382.9L609.0 382.9" stroke="#00f" stroke-width="2.6"/>
<path d="M56.0 476.9L56.5 476.9L57.0 476.9L57.5 476.9L58.0 476.9L58.5 476.9L59.0 476.9L59.5 476.9L60.0 476.9L60.5 476.9L61.0 476.9L61.5 476.9L62.0 476.9L62.5 476.9L63.0 476.9L63.5 476.9L64.0 476.9L64.5 476.9L65.0 476.9L65.5 476.9L66.0 476.9L66.5 476.9L67.0 476.8L67.5 476.8L68.0 476.8L68.5 476.8L69.0 476.8L69.5 476.8L70.0 476.8L70.5 476.8L71.0 476.8L71.5 476.8L72.0 476.8L72.5 476.8L73.0 476.8L73.5 476.8L74.0 476.8L74.5 476.8L75.0 476.8L75.5 476.8L76.0 476.8L76.5 476.8L77.0 476.8L77.5 476.8L78.0 476.8L78.5 476.8L79.0 476.8L79.5 476.8L80.0 476.8L80.5 476.8L81.0 476.8L81.5 476.8L82.0 476.8L82.5 476.8L83.0 476.8L83.5 476.8L84.0 476.8L84.5 476.8L85.0 476.8L85.5 476.8L86.0 476.8L86.5 476.8L87.0 476.8L87.5 476.8L88.0 476.8L88.5 476.8L89.0 476.8L89.5 476.8L90.0 476.8L90.5 476.8L91.0 476.8L91.5 476.7L92.0 476.7L92.5 476.7L93.0 476.7L93.5 476.7L94.0 476.7L94.5 476.7L95.0 476.7L95.5 476.7L96.0 476.7L96.5 476.7L97.0 476.7L97.5 476.7L98.0 476.7L98.5 476.7L99.0 476.7L99.5 476.7L100.0 476.7L100.5 476.7L101.0 476.7L101.5 476.7L102.0 476.7L102.5 476.7L103.0 476.7L103.5 476.7L104.0 476.7L104.5 476.7L105.0 476.7L105.5 476.7L106.0 476.7L106.5 476.7L107.0 476.7L107.5 476.7L108.0 476.7L108.5 476.7L109.0 476.7L109.5 476.6L110.0 476.6L110.5 476.6L111.0 476.6L111.5 476.6L112.0 476.6L112.5 476.6L113.0 476.6L113.5 476.6L114.0 476.6L114.5 476.6L115.0 476.6L115.5 476.6L116.0 476.6L116.5 476.6L117.0 476.6L117.5 476.6L118.0 476.6L118.5 476.6L119.0 476.6L119.5 476.6L120.0 476.6L120.5 476.6L121.0 476.6L121.5 476.6L122.0 476.6L122.5 476.6L123.0 476.6L123.5 476.5L124.0 476.5L124.5 476.5L125.0 476.5L125.5 476.5L126.0 476.5L126.5 476.5L127.0 476.5L127.5 476.5L128.0 476.5L128.5 476.5L129.0 476.5L129.5 476.5L130.0 476.5L130.5 476.5L131.0 476.5L131.5 476.5L132.0 476.5L132.5 476.5L133.0 476.5L133.5 476.5L134.0 476.4L134.5 476.4L135.0 476.4L135.5 476.4L136.0 476.4L136.5 476.4L137.0 476.4L137.5 476.4L138.0 476.4L138.5 476.4L139.0 476.4L139.5 476.4L140.0 476.4L140.5 476.4L141.0 476.4L141.5 476.4L142.0 476.4L142.5 476.3L143.0 476.3L143.5 476.3L144.0 476.3L144.5 476.3L145.0 476.3L145.5 476.3L146.0 476.3L146.5 476.3L147.0 476.3L147.5 476.3L148.0 476.3L148.5 476.3L149.0 476.3L149.5 476.2L150.0 476.2L150.5 476.2L151.0 476.2L151.5 476.2L152.0 476.2L152.5 476.2L153.0 476.2L153.5 476.2L154.0 476.2L154.5 476.2L155.0 476.1L155.5 476.1L156.0 476.1L156.5 476.1L157.0 476.1L157.5 476.1L158.0 476.1L158.5 476.1L159.0 476.1L159.5 476.1L160.0 476.0L160.5 476.0L161.0 476.0L161.5 476.0L162.0 476.0L162.5 476.0L163.0 476.0L163.5 476.0L164.0 475.9L164.5 475.9L165.0 475.9L165.5 475.9L166.0 475.9L166.5 475.9L167.0 475.9L167.5 475.9L168.0 475.8L168.5 475.8L169.0 475.8L169.5 475.8L170.0 475.8L170.5 475.8L171.0 475.7L171.5 475.7L172.0 475.7L172.5 475.7L173.0 475.7L173.5 475.7L174.0 475.6L174.5 475.6L175.0 475.6L175.5 475.6L176.0 475.6L176.5 475.6L177.0 475.5L177.5 475.5L178.0 475.5L178.5 475.5L179.0 475.5L179.5 475.4L180.0 475.4L180.5 475.4L181.0 475.4L181.5 475.4L182.0 475.3L182.5 475.3L183.0 475.3L183.5 475.3L184.0 475.2L184.5 475.2L185.0 475.2L185.5 475.2L186.0 475.1L186.5 475.1L187.0 475.1L187.5 475.1L188.0 475.0L188.5 475.0L189.0 475.0L189.5 475.0L190.0 474.9L190.5 474.9L191.0 474.9L191.5 474.9L192.0 474.8L192.5 474.8L193.0 474.8L193.5 474.7L194.0 474.7L194.5 474.7L195.0 474.6L195.5 474.6L196.0 474.6L196.5 474.5L197.0 474.5L197.5 474.5L198.0 474.4L198.5 474.4L199.0 474.4L199.5 474.3L200.0 474.3L200.5 474.3L201.0 474.2L201.5 474.2L202.0 474.1L202.5 474.1L203.0 474.1L203.5 474.0L204.0 474.0L204.5 473.9L205.0 473.9L205.5 473.9L206.0 473.8L206.5 473.8L207.0 473.7L207.5 473.7L208.0 473.6L208.5 473.6L209.0 473.6L209.5 473.5L210.0 473.5L210.5 473.4L211.0 473.4L211.5 473.3L212.0 473.3L212.5 473.2L213.0 473.2L213.5 473.1L214.0 473.1L214.5 473.0L215.0 473.0L215.5 472.9L216.0 472.9L216.5 472.8L217.0 472.8L217.5 472.7L218.0 472.7L218.5 472.6L219.0 472.5L219.5 472.5L220.0 472.4L220.5 472.4L221.0 472.3L221.5 472.3L222.0 472.2L222.5 472.1L223.0 472.1L223.5 472.0L224.0 472.0L224.5 471.9L225.0 471.8L225.5 471.8L226.0 471.7L226.5 471.6L227.0 471.6L227.5 471.5L228.0 471.4L228.5 471.4L229.0 471.3L229.5 471.2L230.0 471.2L230.5 471.1L231.0 471.0L231.5 471.0L232.0 470.9L232.5 470.8L233.0 470.8L233.5 470.7L234.0 470.6L234.5 470.5L235.0 470.5L235.5 470.4L236.0 470.3L236.5 470.2L237.0 470.2L237.5 470.1L238.0 470.0L238.5 469.9L239.0 469.9L239.5 469.8L240.0 469.7L240.5 469.6L241.0 469.5L241.5 469.5L242.0 469.4L242.5 469.3L243.0 469.2L243.5 469.1L244.0 469.1L244.5 469.0L245.0 468.9L245.5 468.8L246.0 468.7L246.5 468.6L247.0 468.5L247.5 468.5L248.0 468.4L248.5 468.3L249.0 468.2L249.5 468.1L250.0 468.0L250.5 467.9L251.0 467.8L251.5 467.7L252.0 467.6L252.5 467.5L253.0 467.4L253.5 467.3L254.0 467.2L254.5 467.1L255.0 467.0L255.5 466.9L256.0 466.8L256.5 466.7L257.0 466.6L257.5 466.5L258.0 466.3L258.5 466.2L259.0 466.1L259.5 466.0L260.0 465.8L260.5 465.7L261.0 465.6L261.5 465.4L262.0 465.3L262.5 465.2L263.0 465.0L263.5 464.9L264.0 464.7L264.5 464.5L265.0 464.4L265.5 464.2L266.0 464.0L266.5 463.9L267.0 463.7L267.5 463.5L268.0 463.3L268.5 463.1L269.0 462.9L269.5 462.7L270.0 462.5L270.5 462.3L271.0 462.1L271.5 461.9L272.0 461.7L272.5 461.5L273.0 461.3L273.5 461.1L274.0 460.9L274.5 460.7L275.0 460.5L275.5 460.3L276.0 460.0L276.5 459.8L277.0 459.6L277.5 459.4L278.0 459.2L278.5 459.0L279.0 458.8L279.5 458.6L280.0 458.5L280.5 458.3L281.0 458.1L281.5 457.9L282.0 457.8L282.5 457.6L283.0 457.5L283.5 457.3L284.0 457.2L284.5 457.1L285.0 457.0L285.5 456.8L286.0 456.7L286.5 456.6L287.0 456.5L287.5 456.5L288.0 456.4L288.5 456.3L289.0 456.2L289.5 456.2L290.0 456.1L290.5 456.0L291.0 456.0L291.5 456.0L292.0 455.9L292.5 455.9L293.0 455.8L293.5 455.8L294.0 455.8L294.5 455.7L295.0 455.7L295.5 455.6L296.0 455.6L296.5 455.6L297.0 455.5L297.5 455.5L298.0 455.4L298.5 455.4L299.0 455.3L299.5 455.3L300.0 455.2L300.5 455.1L301.0 455.1L301.5 455.0L302.0 454.9L302.5 454.8L303.0 454.7L303.5 454.6L304.0 454.5L304.5 454.4L305.0 454.3L305.5 454.2L306.0 454.0L306.5 453.9L307.0 453.7L307.5 453.6L308.0 453.4L308.5 453.2L309.0 453.0L309.5 452.9L310.0 452.7L310.5 452.5L311.0 452.2L311.5 452.0L312.0 451.8L312.5 451.6L313.0 451.3L313.5 451.1L314.0 450.8L314.5 450.5L315.0 450.2L315.5 449.9L316.0 449.6L316.5 449.3L317.0 449.0L317.5 448.7L318.0 448.4L318.5 448.0L319.0 447.6L319.5 447.3L320.0 446.9L320.5 446.5L321.0 446.1L321.5 445.7L322.0 445.2L322.5 444.8L323.0 444.3L323.5 443.9L324.0 443.4L324.5 442.9L325.0 442.4L325.5 441.8L326.0 441.3L326.5 440.7L327.0 440.1L327.5 439.5L328.0 438.9L328.5 438.3L329.0 437.6L329.5 436.9L330.0 436.2L330.5 435.5L331.0 434.8L331.5 434.0L332.0 433.2L332.5 432.4L333.0 431.5L333.5 430.7L334.0 429.8L334.5 428.9L335.0 427.9L335.5 426.9L336.0 425.9L336.5 424.9L337.0 423.8L337.5 422.7L338.0 421.6L338.5 420.4L339.0 419.2L339.5 418.0L340.0 416.7L340.5 415.4L341.0 414.1L341.5 412.7L342.0 411.3L342.5 409.9L343.0 408.4L343.5 406.9L344.0 405.3L344.5 403.8L345.0 402.2L345.5 400.5L346.0 398.9L346.5 397.2L347.0 395.4L347.5 393.7L348.0 391.9L348.5 390.2L349.0 388.4L349.5 386.5L350.0 384.7L350.5 382.9L351.0 381.1L351.5 379.3L352.0 377.5L352.5 375.7L353.0 374.0L353.5 372.3L354.0 370.6L354.5 369.0L355.0 367.4L355.5 365.9L356.0 364.5L356.5 363.1L357.0 361.8L357.5 360.7L358.0 359.6L358.5 358.6L359.0 357.8L359.5 357.1L360.0 356.5L360.5 356.0L361.0 355.7L361.5 355.5L362.0 355.5L362.5 355.6L363.0 355.9L363.5 356.4L364.0 357.1L364.5 357.9L365.0 358.9L365.5 360.1L366.0 361.5L366.5 363.0L367.0 364.6L367.5 366.3L368.0 368.2L368.5 370.1L369.0 372.1L369.5 374.2L370.0 376.3L370.5 378.5L371.0 380.7L371.5 382.9L372.0 385.2L372.5 387.4L373.0 389.6L373.5 391.9L374.0 394.1L374.5 396.3L375.0 398.4L375.5 400.6L376.0 402.7L376.5 404.7L377.0 406.7L377.5 408.7L378.0 410.6L378.5 412.5L379.0 414.3L379.5 416.1L380.0 417.8L380.5 419.5L381.0 421.1L381.5 422.7L382.0 424.2L382.5 425.7L383.0 427.2L383.5 428.6L384.0 429.9L384.5 431.2L385.0 432.5L385.5 433.7L386.0 434.9L386.5 436.1L387.0 437.2L387.5 438.3L388.0 439.3L388.5 440.3L389.0 441.3L389.5 442.2L390.0 443.1L390.5 444.0L391.0 444.9L391.5 445.7L392.0 446.5L392.5 447.2L393.0 448.0L393.5 448.7L394.0 449.4L394.5 450.1L395.0 450.7L395.5 451.4L396.0 452.0L396.5 452.6L397.0 453.1L397.5 453.7L398.0 454.2L398.5 454.8L399.0 455.3L399.5 455.7L400.0 456.2L400.5 456.7L401.0 457.1L401.5 457.6L402.0 458.0L402.5 458.4L403.0 458.8L403.5 459.2L404.0 459.5L404.5 459.9L405.0 460.3L405.5 460.6L406.0 460.9L406.5 461.3L407.0 461.6L407.5 461.9L408.0 462.2L408.5 462.5L409.0 462.8L409.5 463.0L410.0 463.3L410.5 463.6L411.0 463.8L411.5 464.1L412.0 464.3L412.5 464.5L413.0 464.8L413.5 465.0L414.0 465.2L414.5 465.4L415.0 465.6L415.5 465.8L416.0 466.0L416.5 466.2L417.0 466.4L417.5 466.6L418.0 466.8L418.5 466.9L419.0 467.1L419.5 467.3L420.0 467.4L420.5 467.6L421.0 467.8L421.5 467.9L422.0 468.1L422.5 468.2L423.0 468.4L423.5 468.5L424.0 468.6L424.5 468.8L425.0 468.9L425.5 469.0L426.0 469.2L426.5 469.3L427.0 469.4L427.5 469.5L428.0 469.6L428.5 469.7L429.0 469.9L429.5 470.0L430.0 470.1L430.5 470.2L431.0 470.3L431.5 470.4L432.0 470.5L432.5 470.6L433.0 470.7L433.5 470.8L434.0 470.9L434.5 470.9L435.0 471.0L435.5 471.1L436.0 471.2L436.5 471.3L437.0 471.4L437.5 471.4L438.0 471.5L438.5 471.6L439.0 471.7L439.5 471.7L440.0 471.8L440.5 471.9L441.0 472.0L441.5 472.0L442.0 472.1L442.5 472.2L443.0 472.2L443.5 472.3L444.0 472.4L444.5 472.4L445.0 472.5L445.5 472.5L446.0 472.6L446.5 472.7L447.0 472.7L447.5 472.8L448.0 472.8L448.5 472.9L449.0 472.9L449.5 473.0L450.0 473.0L450.5 473.1L451.0 473.1L451.5 473.2L452.0 473.2L452.5 473.3L453.0 473.3L453.5 473.4L454.0 473.4L454.5 473.4L455.0 473.5L455.5 473.5L456.0 473.6L456.5 473.6L457.0 473.7L457.5 473.7L458.0 473.7L458.5 473.8L459.0 473.8L459.5 473.8L460.0 473.9L460.5 473.9L461.0 474.0L461.5 474.0L462.0 474.0L462.5 474.1L463.0 474.1L463.5 474.1L464.0 474.2L464.5 474.2L465.0 474.2L465.5 474.2L466.0 474.3L466.5 474.3L467.0 474.3L467.5 474.4L468.0 474.4L468.5 474.4L469.0 474.5L469.5 474.5L470.0 474.5L470.5 474.5L471.0 474.6L471.5 474.6L472.0 474.6L472.5 474.6L473.0 474.7L473.5 474.7L474.0 474.7L474.5 474.7L475.0 474.8L475.5 474.8L476.0 474.8L476.5 474.8L477.0 474.9L477.5 474.9L478.0 474.9L478.5 474.9L479.0 474.9L479.5 475.0L480.0 475.0L480.5 475.0L481.0 475.0L481.5 475.0L482.0 475.1L482.5 475.1L483.0 475.1L483.5 475.1L484.0 475.1L484.5 475.2L485.0 475.2L485.5 475.2L486.0 475.2L486.5 475.2L487.0 475.2L487.5 475.3L488.0 475.3L488.5 475.3L489.0 475.3L489.5 475.3L490.0 475.3L490.5 475.4L491.0 475.4L491.5 475.4L492.0 475.4L492.5 475.4L493.0 475.4L493.5 475.5L494.0 475.5L494.5 475.5L495.0 475.5L495.5 475.5L496.0 475.5L496.5 475.5L497.0 475.5L497.5 475.6L498.0 475.6L498.5 475.6L499.0 475.6L499.5 475.6L500.0 475.6L500.5 475.6L501.0 475.7L501.5 475.7L502.0 475.7L502.5 475.7L503.0 475.7L503.5 475.7L504.0 475.7L504.5 475.7L505.0 475.7L505.5 475.8L506.0 475.8L506.5 475.8L507.0 475.8L507.5 475.8L508.0 475.8L508.5 475.8L509.0 475.8L509.5 475.8L510.0 475.9L510.5 475.9L511.0 475.9L511.5 475.9L512.0 475.9L512.5 475.9L513.0 475.9L513.5 475.9L514.0 475.9L514.5 475.9L515.0 476.0L515.5 476.0L516.0 476.0L516.5 476.0L517.0 476.0L517.5 476.0L518.0 476.0L518.5 476.0L519.0 476.0L519.5 476.0L520.0 476.0L520.5 476.0L521.0 476.1L521.5 476.1L522.0 476.1L522.5 476.1L523.0 476.1L523.5 476.1L524.0 476.1L524.5 476.1L525.0 476.1L525.5 476.1L526.0 476.1L526.5 476.1L527.0 476.2L527.5 476.2L528.0 476.2L528.5 476.2L529.0 476.2L529.5 476.2L530.0 476.2L530.5 476.2L531.0 476.2L531.5 476.2L532.0 476.2L532.5 476.2L533.0 476.2L533.5 476.2L534.0 476.2L534.5 476.3L535.0 476.3L535.5 476.3L536.0 476.3L536.5 476.3L537.0 476.3L537.5 476.3L538.0 476.3L538.5 476.3L539.0 476.3L539.5 476.3L540.0 476.3L540.5 476.3L541.0 476.3L541.5 476.3L542.0 476.3L542.5 476.4L543.0 476.4L543.5 476.4L544.0 476.4L544.5 476.4L545.0 476.4L545.5 476.4L546.0 476.4L546.5 476.4L547.0 476.4L547.5 476.4L548.0 476.4L548.5 476.4L549.0 476.4L549.5 476.4L550.0 476.4L550.5 476.4L551.0 476.4L551.5 476.4L552.0 476.5L552.5 476.5L553.0 476.5L553.5 476.5L554.0 476.5L554.5 476.5L555.0 476.5L555.5 476.5L556.0 476.5L556.5 476.5L557.0 476.5L557.5 476.5L558.0 476.5L558.5 476.5L559.0 476.5L559.5 476.5L560.0 476.5L560.5 476.5L561.0 476.5L561.5 476.5L562.0 476.5L562.5 476.5L563.0 476.5L563.5 476.6L564.0 476.6L564.5 476.6L565.0 476.6L565.5 476.6L566.0 476.6L566.5 476.6L567.0 476.6L567.5 476.6L568.0 476.6L568.5 476.6L569.0 476.6L569.5 476.6L570.0 476.6L570.5 476.6L571.0 476.6L571.5 476.6L572.0 476.6L572.5 476.6L573.0 476.6L573.5 476.6L574.0 476.6L574.5 476.6L575.0 476.6L575.5 476.6L576.0 476.6L576.5 476.6L577.0 476.7L577.5 476.7L578.0 476.7L578.5 476.7L579.0 476.7L579.5 476.7L580.0 476.7L580.5 476.7L581.0 476.7L581.5 476.7L582.0 476.7L582.5 476.7L583.0 476.7L583.5 476.7L584.0 476.7L584.5 476.7L585.0 476.7L585.5 476.7L586.0 476.7L586.5 476.7L587.0 476.7L587.5 476.7L588.0 476.7L588.5 476.7L589.0 476.7L589.5 476.7L590.0 476.7L590.5 476.7L591.0 476.7L591.5 476.7L592.0 476.7L592.5 476.7L593.0 476.7L593.5 476.8L594.0 476.8L594.5 476.8L595.0 476.8L595.5 476.8L596.0 476.8L596.5 476.8L597.0 476.8L597.5 476.8L598.0 476.8L598.5 476.8L599.0 476.8L599.5 476.8L600.0 476.8L600.5 476.8L601.0 476.8L601.5 476.8L602.0 476.8L602.5 476.8L603.0 476.8L603.5 476.8L604.0 476.8L604.5 476.8L605.0 476.8L605.5 476.8L606.0 476.8L606.5 476.8L607.0 476.8L607.5 476.8L608.0 476.8L608.5 476.8L609.0 476.8" stroke="#00f" stroke-width="2.6"/>
<path d="M56.0 576.8L56.5 576.8L57.0 576.8L57.5 576.8L58.0 576.8L58.5 576.8L59.0 576.8L59.5 576.8L60.0 576.8L60.5 576.8L61.0 576.8L61.5 576.8L62.0 576.8L62.5 576.8L63.0 576.8L63.5 576.8L64.0 576.8L64.5 576.8L65.0 576.8L65.5 576.8L66.0 576.8L66.5 576.8L67.0 576.8L67.5 576.8L68.0 576.8L68.5 576.8L69.0 576.8L69.5 576.8L70.0 576.8L70.5 576.8L71.0 576.8L71.5 576.8L72.0 576.8L72.5 576.8L73.0 576.8L73.5 576.8L74.0 576.8L74.5 576.8L75.0 576.8L75.5 576.8L76.0 576.8L76.5 576.8L77.0 576.8L77.5 576.8L78.0 576.8L78.5 576.8L79.0 576.8L79.5 576.8L80.0 576.8L80.5 576.8L81.0 576.8L81.5 576.8L82.0 576.8L82.5 576.8L83.0 576.8L83.5 576.8L84.0 576.8L84.5 576.8L85.0 576.8L85.5 576.8L86.0 576.8L86.5 576.8L87.0 576.8L87.5 576.8L88.0 576.8L88.5 576.8L89.0 576.8L89.5 576.8L90.0 576.8L90.5 576.8L91.0 576.8L91.5 576.8L92.0 576.8L92.5 576.8L93.0 576.8L93.5 576.8L94.0 576.8L94.5 576.8L95.0 576.8L95.5 576.8L96.0 576.8L96.5 576.8L97.0 576.8L97.5 576.8L98.0 576.8L98.5 576.8L99.0 576.8L99.5 576.8L100.0 576.8L100.5 576.8L101.0 576.8L101.5 576.8L102.0 576.8L102.5 576.7L103.0 576.7L103.5 576.7L104.0 576.7L104.5 576.7L105.0 576.7L105.5 576.7L106.0 576.7L106.5 576.7L107.0 576.7L107.5 576.7L108.0 576.7L108.5 576.7L109.0 576.7L109.5 576.7L110.0 576.7L110.5 576.7L111.0 576.7L111.5 576.7L112.0 576.7L112.5 576.7L113.0 576.7L113.5 576.7L114.0 576.7L114.5 576.7L115.0 576.7L115.5 576.7L116.0 576.7L116.5 576.7L117.0 576.7L117.5 576.7L118.0 576.7L118.5 576.7L119.0 576.7L119.5 576.7L120.0 576.7L120.5 576.7L121.0 576.7L121.5 576.7L122.0 576.7L122.5 576.7L123.0 576.7L123.5 576.7L124.0 576.7L124.5 576.6L125.0 576.6L125.5 576.6L126.0 576.6L126.5 576.6L127.0 576.6L127.5 576.6L128.0 576.6L128.5 576.6L129.0 576.6L129.5 576.6L130.0 576.6L130.5 576.6L131.0 576.6L131.5 576.6L132.0 576.6L132.5 576.6L133.0 576.6L133.5 576.6L134.0 576.6L134.5 576.6L135.0 576.6L135.5 576.6L136.0 576.6L136.5 576.5L137.0 576.5L137.5 576.5L138.0 576.5L138.5 576.5L139.0 576.5L139.5 576.5L140.0 576.5L140.5 576.5L141.0 576.5L141.5 576.5L142.0 576.5L142.5 576.5L143.0 576.5L143.5 576.5L144.0 576.5L144.5 576.5L145.0 576.4L145.5 576.4L146.0 576.4L146.5 576.4L147.0 576.4L147.5 576.4L148.0 576.4L148.5 576.4L149.0 576.4L149.5 576.4L150.0 576.4L150.5 576.4L151.0 576.4L151.5 576.3L152.0 576.3L152.5 576.3L153.0 576.3L153.5 576.3L154.0 576.3L154.5 576.3L155.0 576.3L155.5 576.3L156.0 576.3L156.5 576.3L157.0 576.2L157.5 576.2L158.0 576.2L158.5 576.2L159.0 576.2L159.5 576.2L160.0 576.2L160.5 576.2L161.0 576.2L161.5 576.1L162.0 576.1L162.5 576.1L163.0 576.1L163.5 576.1L164.0 576.1L164.5 576.1L165.0 576.1L165.5 576.0L166.0 576.0L166.5 576.0L167.0 576.0L167.5 576.0L168.0 576.0L168.5 576.0L169.0 576.0L169.5 575.9L170.0 575.9L170.5 575.9L171.0 575.9L171.5 575.9L172.0 575.9L172.5 575.9L173.0 575.8L173.5 575.8L174.0 575.8L174.5 575.8L175.0 575.8L175.5 575.8L176.0 575.7L176.5 575.7L177.0 575.7L177.5 575.7L178.0 575.7L178.5 575.7L179.0 575.6L179.5 575.6L180.0 575.6L180.5 575.6L181.0 575.6L181.5 575.6L182.0 575.5L182.5 575.5L183.0 575.5L183.5 575.5L184.0 575.5L184.5 575.4L185.0 575.4L185.5 575.4L186.0 575.4L186.5 575.4L187.0 575.3L187.5 575.3L188.0 575.3L188.5 575.3L189.0 575.3L189.5 575.2L190.0 575.2L190.5 575.2L191.0 575.2L191.5 575.2L192.0 575.1L192.5 575.1L193.0 575.1L193.5 575.1L194.0 575.0L194.5 575.0L195.0 575.0L195.5 575.0L196.0 575.0L196.5 574.9L197.0 574.9L197.5 574.9L198.0 574.9L198.5 574.8L199.0 574.8L199.5 574.8L200.0 574.8L200.5 574.7L201.0 574.7L201.5 574.7L202.0 574.7L202.5 574.6L203.0 574.6L203.5 574.6L204.0 574.6L204.5 574.5L205.0 574.5L205.5 574.5L206.0 574.5L206.5 574.4L207.0 574.4L207.5 574.4L208.0 574.3L208.5 574.3L209.0 574.3L209.5 574.3L210.0 574.2L210.5 574.2L211.0 574.2L211.5 574.2L212.0 574.1L212.5 574.1L213.0 574.1L213.5 574.0L214.0 574.0L214.5 574.0L215.0 573.9L215.5 573.9L216.0 573.8L216.5 573.8L217.0 573.7L217.5 573.7L218.0 573.6L218.5 573.6L219.0 573.5L219.5 573.4L220.0 573.3L220.5 573.2L221.0 573.1L221.5 573.0L222.0 572.8L222.5 572.7L223.0 572.5L223.5 572.3L224.0 572.1L224.5 571.8L225.0 571.6L225.5 571.3L226.0 571.0L226.5 570.6L227.0 570.2L227.5 569.8L228.0 569.4L228.5 569.0L229.0 568.5L229.5 568.0L230.0 567.5L230.5 567.0L231.0 566.5L231.5 566.0L232.0 565.5L232.5 565.0L233.0 564.5L233.5 564.1L234.0 563.6L234.5 563.2L235.0 562.9L235.5 562.6L236.0 562.3L236.5 562.1L237.0 561.9L237.5 561.8L238.0 561.7L238.5 561.7L239.0 561.8L239.5 561.9L240.0 562.1L240.5 562.3L241.0 562.6L241.5 562.9L242.0 563.2L242.5 563.6L243.0 564.0L243.5 564.4L244.0 564.9L244.5 565.3L245.0 565.8L245.5 566.2L246.0 566.7L246.5 567.1L247.0 567.5L247.5 567.9L248.0 568.3L248.5 568.6L249.0 569.0L249.5 569.3L250.0 569.6L250.5 569.8L251.0 570.0L251.5 570.3L252.0 570.4L252.5 570.6L253.0 570.7L253.5 570.8L254.0 570.9L254.5 571.0L255.0 571.1L255.5 571.1L256.0 571.1L256.5 571.2L257.0 571.2L257.5 571.2L258.0 571.1L258.5 571.1L259.0 571.1L259.5 571.0L260.0 571.0L260.5 570.9L261.0 570.9L261.5 570.8L262.0 570.7L262.5 570.7L263.0 570.6L263.5 570.5L264.0 570.4L264.5 570.3L265.0 570.2L265.5 570.0L266.0 569.9L266.5 569.8L267.0 569.6L267.5 569.5L268.0 569.3L268.5 569.1L269.0 568.9L269.5 568.7L270.0 568.5L270.5 568.3L271.0 568.0L271.5 567.8L272.0 567.5L272.5 567.2L273.0 566.9L273.5 566.6L274.0 566.3L274.5 565.9L275.0 565.5L275.5 565.2L276.0 564.8L276.5 564.4L277.0 564.0L277.5 563.5L278.0 563.1L278.5 562.6L279.0 562.1L279.5 561.7L280.0 561.2L280.5 560.6L281.0 560.1L281.5 559.6L282.0 559.1L282.5 558.5L283.0 558.0L283.5 557.5L284.0 556.9L284.5 556.4L285.0 555.8L285.5 555.3L286.0 554.8L286.5 554.2L287.0 553.7L287.5 553.2L288.0 552.7L288.5 552.2L289.0 551.7L289.5 551.3L290.0 550.8L290.5 550.4L291.0 550.0L291.5 549.6L292.0 549.3L292.5 548.9L293.0 548.6L293.5 548.3L294.0 548.0L294.5 547.8L295.0 547.5L295.5 547.3L296.0 547.1L296.5 547.0L297.0 546.8L297.5 546.7L298.0 546.5L298.5 546.4L299.0 546.3L299.5 546.1L300.0 546.0L300.5 545.9L301.0 545.7L301.5 545.5L302.0 545.3L302.5 545.0L303.0 544.6L303.5 544.2L304.0 543.8L304.5 543.2L305.0 542.5L305.5 541.7L306.0 540.8L306.5 539.7L307.0 538.4L307.5 537.0L308.0 535.4L308.5 533.6L309.0 531.6L309.5 529.3L310.0 526.8L310.5 524.1L311.0 521.2L311.5 518.0L312.0 514.6L312.5 511.0L313.0 507.2L313.5 503.3L314.0 499.2L314.5 495.0L315.0 490.9L315.5 486.7L316.0 482.7L316.5 478.9L317.0 475.4L317.5 472.3L318.0 469.7L318.5 467.7L319.0 466.5L319.5 465.9L320.0 466.2L320.5 467.1L321.0 468.5L321.5 470.5L322.0 472.9L322.5 475.8L323.0 479.0L323.5 482.6L324.0 486.3L324.5 490.2L325.0 494.3L325.5 498.3L326.0 502.4L326.5 506.5L327.0 510.5L327.5 514.4L328.0 518.1L328.5 521.8L329.0 525.3L329.5 528.6L330.0 531.8L330.5 534.8L331.0 537.6L331.5 540.2L332.0 542.7L332.5 545.0L333.0 547.2L333.5 549.2L334.0 551.0L334.5 552.7L335.0 554.2L335.5 555.7L336.0 557.0L336.5 558.2L337.0 559.2L337.5 560.2L338.0 561.1L338.5 562.0L339.0 562.7L339.5 563.4L340.0 564.0L340.5 564.6L341.0 565.1L341.5 565.6L342.0 566.1L342.5 566.5L343.0 566.8L343.5 567.2L344.0 567.5L344.5 567.8L345.0 568.1L345.5 568.4L346.0 568.6L346.5 568.9L347.0 569.1L347.5 569.3L348.0 569.5L348.5 569.7L349.0 569.9L349.5 570.1L350.0 570.2L350.5 570.4L351.0 570.5L351.5 570.7L352.0 570.8L352.5 571.0L353.0 571.1L353.5 571.2L354.0 571.4L354.5 571.5L355.0 571.6L355.5 571.7L356.0 571.8L356.5 571.9L357.0 572.0L357.5 572.1L358.0 572.2L358.5 572.3L359.0 572.4L359.5 572.5L360.0 572.6L360.5 572.6L361.0 572.7L361.5 572.8L362.0 572.9L362.5 573.0L363.0 573.0L363.5 573.1L364.0 573.2L364.5 573.2L365.0 573.3L365.5 573.4L366.0 573.4L366.5 573.5L367.0 573.5L367.5 573.6L368.0 573.7L368.5 573.7L369.0 573.8L369.5 573.8L370.0 573.9L370.5 573.9L371.0 574.0L371.5 574.0L372.0 574.1L372.5 574.1L373.0 574.2L373.5 574.2L374.0 574.3L374.5 574.3L375.0 574.3L375.5 574.4L376.0 574.4L376.5 574.5L377.0 574.5L377.5 574.5L378.0 574.6L378.5 574.6L379.0 574.6L379.5 574.7L380.0 574.7L380.5 574.8L381.0 574.8L381.5 574.8L382.0 574.9L382.5 574.9L383.0 574.9L383.5 574.9L384.0 575.0L384.5 575.0L385.0 575.0L385.5 575.1L386.0 575.1L386.5 575.1L387.0 575.1L387.5 575.2L388.0 575.2L388.5 575.2L389.0 575.2L389.5 575.3L390.0 575.3L390.5 575.3L391.0 575.3L391.5 575.4L392.0 575.4L392.5 575.4L393.0 575.4L393.5 575.5L394.0 575.5L394.5 575.5L395.0 575.5L395.5 575.5L396.0 575.6L396.5 575.6L397.0 575.6L397.5 575.6L398.0 575.6L398.5 575.7L399.0 575.7L399.5 575.7L400.0 575.7L400.5 575.7L401.0 575.7L401.5 575.8L402.0 575.8L402.5 575.8L403.0 575.8L403.5 575.8L404.0 575.8L404.5 575.9L405.0 575.9L405.5 575.9L406.0 575.9L406.5 575.9L407.0 575.9L407.5 575.9L408.0 576.0L408.5 576.0L409.0 576.0L409.5 576.0L410.0 576.0L410.5 576.0L411.0 576.0L411.5 576.0L412.0 576.1L412.5 576.1L413.0 576.1L413.5 576.1L414.0 576.1L414.5 576.1L415.0 576.1L415.5 576.1L416.0 576.1L416.5 576.1L417.0 576.2L417.5 576.2L418.0 576.2L418.5 576.2L419.0 576.2L419.5 576.2L420.0 576.2L420.5 576.2L421.0 576.2L421.5 576.2L422.0 576.2L422.5 576.3L423.0 576.3L423.5 576.3L424.0 576.3L424.5 576.3L425.0 576.3L425.5 576.3L426.0 576.3L426.5 576.3L427.0 576.3L427.5 576.3L428.0 576.3L428.5 576.3L429.0 576.4L429.5 576.4L430.0 576.4L430.5 576.4L431.0 576.4L431.5 576.4L432.0 576.4L432.5 576.4L433.0 576.4L433.5 576.4L434.0 576.4L434.5 576.4L435.0 576.4L435.5 576.4L436.0 576.4L436.5 576.4L437.0 576.4L437.5 576.5L438.0 576.5L438.5 576.5L439.0 576.5L439.5 576.5L440.0 576.5L440.5 576.5L441.0 576.5L441.5 576.5L442.0 576.5L442.5 576.5L443.0 576.5L443.5 576.5L444.0 576.5L444.5 576.5L445.0 576.5L445.5 576.5L446.0 576.5L446.5 576.5L447.0 576.5L447.5 576.5L448.0 576.5L448.5 576.5L449.0 576.5L449.5 576.5L450.0 576.6L450.5 576.6L451.0 576.6L451.5 576.6L452.0 576.6L452.5 576.6L453.0 576.6L453.5 576.6L454.0 576.6L454.5 576.6L455.0 576.6L455.5 576.6L456.0 576.6L456.5 576.6L457.0 576.6L457.5 576.6L458.0 576.6L458.5 576.6L459.0 576.6L459.5 576.6L460.0 576.6L460.5 576.6L461.0 576.6L461.5 576.6L462.0 576.6L462.5 576.6L463.0 576.6L463.5 576.6L464.0 576.6L464.5 576.6L465.0 576.6L465.5 576.6L466.0 576.6L466.5 576.6L467.0 576.6L467.5 576.6L468.0 576.6L468.5 576.6L469.0 576.6L469.5 576.6L470.0 576.6L470.5 576.6L471.0 576.7L471.5 576.7L472.0 576.7L472.5 576.7L473.0 576.7L473.5 576.7L474.0 576.7L474.5 576.7L475.0 576.7L475.5 576.7L476.0 576.7L476.5 576.7L477.0 576.7L477.5 576.7L478.0 576.7L478.5 576.7L479.0 576.7L479.5 576.7L480.0 576.7L480.5 576.7L481.0 576.7L481.5 576.7L482.0 576.7L482.5 576.7L483.0 576.7L483.5 576.7L484.0 576.7L484.5 576.7L485.0 576.7L485.5 576.7L486.0 576.7L486.5 576.7L487.0 576.7L487.5 576.7L488.0 576.7L488.5 576.7L489.0 576.7L489.5 576.7L490.0 576.7L490.5 576.7L491.0 576.7L491.5 576.7L492.0 576.7L492.5 576.7L493.0 576.7L493.5 576.7L494.0 576.7L494.5 576.7L495.0 576.7L495.5 576.7L496.0 576.7L496.5 576.7L497.0 576.7L497.5 576.7L498.0 576.7L498.5 576.7L499.0 576.7L499.5 576.7L500.0 576.7L500.5 576.7L501.0 576.7L501.5 576.7L502.0 576.7L502.5 576.7L503.0 576.7L503.5 576.7L504.0 576.7L504.5 576.7L505.0 576.7L505.5 576.7L506.0 576.7L506.5 576.7L507.0 576.7L507.5 576.7L508.0 576.7L508.5 576.7L509.0 576.7L509.5 576.7L510.0 576.7L510.5 576.7L511.0 576.7L511.5 576.7L512.0 576.7L512.5 576.7L513.0 576.7L513.5 576.7L514.0 576.7L514.5 576.7L515.0 576.7L515.5 576.7L516.0 576.7L516.5 576.7L517.0 576.7L517.5 576.7L518.0 576.7L518.5 576.7L519.0 576.7L519.5 576.7L520.0 576.7L520.5 576.7L521.0 576.7L521.5 576.7L522.0 576.8L522.5 576.8L523.0 576.8L523.5 576.8L524.0 576.8L524.5 576.8L525.0 576.8L525.5 576.8L526.0 576.8L526.5 576.8L527.0 576.8L527.5 576.8L528.0 576.8L528.5 576.8L529.0 576.8L529.5 576.8L530.0 576.8L530.5 576.8L531.0 576.8L531.5 576.8L532.0 576.8L532.5 576.8L533.0 576.8L533.5 576.8L534.0 576.8L534.5 576.8L535.0 576.8L535.5 576.8L536.0 576.8L536.5 576.8L537.0 576.8L537.5 576.8L538.0 576.8L538.5 576.8L539.0 576.8L539.5 576.8L540.0 576.8L540.5 576.8L541.0 576.8L541.5 576.8L542.0 576.8L542.5 576.8L543.0 576.8L543.5 576.8L544.0 576.8L544.5 576.8L545.0 576.8L545.5 576.8L546.0 576.8L546.5 576.8L547.0 576.8L547.5 576.8L548.0 576.8L548.5 576.8L549.0 576.8L549.5 576.8L550.0 576.8L550.5 576.8L551.0 576.8L551.5 576.8L552.0 576.8L552.5 576.8L553.0 576.8L553.5 576.8L554.0 576.8L554.5 576.8L555.0 576.8L555.5 576.8L556.0 576.8L556.5 576.8L557.0 576.8L557.5 576.8L558.0 576.8L558.5 576.8L559.0 576.8L559.5 576.8L560.0 576.8L560.5 576.8L561.0 576.8L561.5 576.8L562.0 576.8L562.5 576.8L563.0 576.8L563.5 576.8L564.0 576.8L564.5 576.8L565.0 576.8L565.5 576.8L566.0 576.8L566.5 576.8L567.0 576.8L567.5 576.8L568.0 576.8L568.5 576.8L569.0 576.8L569.5 576.8L570.0 576.8L570.5 576.8L571.0 576.8L571.5 576.8L572.0 576.8L572.5 576.8L573.0 576.8L573.5 576.8L574.0 576.8L574.5 576.8L575.0 576.8L575.5 576.8L576.0 576.8L576.5 576.8L577.0 576.8L577.5 576.8L578.0 576.8L578.5 576.8L579.0 576.8L579.5 576.8L580.0 576.8L580.5 576.8L581.0 576.8L581.5 576.8L582.0 576.8L582.5 576.8L583.0 576.8L583.5 576.8L584.0 576.8L584.5 576.8L585.0 576.8L585.5 576.8L586.0 576.8L586.5 576.8L587.0 576.8L587.5 576.8L588.0 576.8L588.5 576.8L589.0 576.8L589.5 576.8L590.0 576.8L590.5 576.8L591.0 576.8L591.5 576.8L592.0 576.8L592.5 576.8L593.0 576.8L593.5 576.8L594.0 576.8L594.5 576.8L595.0 576.8L595.5 576.8L596.0 576.8L596.5 576.8L597.0 576.8L597.5 576.8L598.0 576.8L598.5 576.8L599.0 576.8L599.5 576.8L600.0 576.8L600.5 576.8L601.0 576.8L601.5 576.8L602.0 576.8L602.5 576.8L603.0 576.8L603.5 576.8L604.0 576.8L604.5 576.8L605.0 576.8L605.5 576.8L606.0 576.8L606.5 576.8L607.0 576.8L607.5 576.8L608.0 576.8L608.5 576.8L609.0 576.8" stroke="#00f" stroke-width="2.6"/>
<path d="M56.0 655.7L56.5 655.7L57.0 655.7L57.5 655.7L58.0 655.7L58.5 655.7L59.0 655.7L59.5 655.7L60.0 655.7L60.5 655.7L61.0 655.7L61.5 655.7L62.0 655.7L62.5 655.7L63.0 655.7L63.5 655.7L64.0 655.7L64.5 655.7L65.0 655.7L65.5 655.7L66.0 655.7L66.5 655.7L67.0 655.7L67.5 655.7L68.0 655.7L68.5 655.7L69.0 655.7L69.5 655.7L70.0 655.7L70.5 655.7L71.0 655.7L71.5 655.7L72.0 655.7L72.5 655.7L73.0 655.7L73.5 655.7L74.0 655.7L74.5 655.7L75.0 655.7L75.5 655.7L76.0 655.7L76.5 655.7L77.0 655.7L77.5 655.7L78.0 655.7L78.5 655.7L79.0 655.7L79.5 655.7L80.0 655.7L80.5 655.7L81.0 655.7L81.5 655.7L82.0 655.7L82.5 655.7L83.0 655.7L83.5 655.7L84.0 655.7L84.5 655.7L85.0 655.7L85.5 655.7L86.0 655.7L86.5 655.7L87.0 655.7L87.5 655.7L88.0 655.7L88.5 655.7L89.0 655.7L89.5 655.7L90.0 655.7L90.5 655.7L91.0 655.7L91.5 655.7L92.0 655.7L92.5 655.7L93.0 655.7L93.5 655.7L94.0 655.7L94.5 655.7L95.0 655.7L95.5 655.7L96.0 655.7L96.5 655.7L97.0 655.7L97.5 655.7L98.0 655.7L98.5 655.7L99.0 655.7L99.5 655.7L100.0 655.7L100.5 655.7L101.0 655.7L101.5 655.7L102.0 655.7L102.5 655.7L103.0 655.7L103.5 655.7L104.0 655.7L104.5 655.7L105.0 655.7L105.5 655.7L106.0 655.7L106.5 655.7L107.0 655.7L107.5 655.7L108.0 655.7L108.5 655.7L109.0 655.7L109.5 655.7L110.0 655.7L110.5 655.7L111.0 655.7L111.5 655.7L112.0 655.7L112.5 655.7L113.0 655.7L113.5 655.7L114.0 655.7L114.5 655.7L115.0 655.7L115.5 655.7L116.0 655.7L116.5 655.7L117.0 655.7L117.5 655.7L118.0 655.7L118.5 655.7L119.0 655.7L119.5 655.7L120.0 655.7L120.5 655.7L121.0 655.7L121.5 655.7L122.0 655.7L122.5 655.7L123.0 655.7L123.5 655.7L124.0 655.7L124.5 655.7L125.0 655.7L125.5 655.7L126.0 655.7L126.5 655.7L127.0 655.7L127.5 655.7L128.0 655.7L128.5 655.7L129.0 655.7L129.5 655.7L130.0 655.7L130.5 655.7L131.0 655.7L131.5 655.7L132.0 655.7L132.5 655.7L133.0 655.7L133.5 655.7L134.0 655.7L134.5 655.7L135.0 655.7L135.5 655.7L136.0 655.7L136.5 655.7L137.0 655.7L137.5 655.7L138.0 655.7L138.5 655.7L139.0 655.7L139.5 655.7L140.0 655.7L140.5 655.7L141.0 655.7L141.5 655.7L142.0 655.7L142.5 655.7L143.0 655.7L143.5 655.7L144.0 655.7L144.5 655.7L145.0 655.7L145.5 655.7L146.0 655.7L146.5 655.7L147.0 655.7L147.5 655.7L148.0 655.7L148.5 655.7L149.0 655.7L149.5 655.7L150.0 655.7L150.5 655.7L151.0 655.7L151.5 655.7L152.0 655.7L152.5 655.7L153.0 655.7L153.5 655.7L154.0 655.7L154.5 655.7L155.0 655.7L155.5 655.7L156.0 655.7L156.5 655.7L157.0 655.7L157.5 655.7L158.0 655.7L158.5 655.7L159.0 655.7L159.5 655.7L160.0 655.7L160.5 655.7L161.0 655.7L161.5 655.7L162.0 655.7L162.5 655.7L163.0 655.7L163.5 655.7L164.0 655.7L164.5 655.7L165.0 655.7L165.5 655.7L166.0 655.7L166.5 655.7L167.0 655.7L167.5 655.7L168.0 655.7L168.5 655.7L169.0 655.7L169.5 655.7L170.0 655.7L170.5 655.7L171.0 655.7L171.5 655.7L172.0 655.7L172.5 655.7L173.0 655.7L173.5 655.7L174.0 655.7L174.5 655.7L175.0 655.7L175.5 655.7L176.0 655.7L176.5 655.7L177.0 655.7L177.5 655.7L178.0 655.7L178.5 655.7L179.0 655.7L179.5 655.7L180.0 655.7L180.5 655.7L181.0 655.7L181.5 655.7L182.0 655.7L182.5 655.7L183.0 655.7L183.5 655.7L184.0 655.7L184.5 655.7L185.0 655.7L185.5 655.7L186.0 655.7L186.5 655.7L187.0 655.7L187.5 655.7L188.0 655.7L188.5 655.7L189.0 655.7L189.5 655.7L190.0 655.7L190.5 655.7L191.0 655.7L191.5 655.7L192.0 655.7L192.5 655.7L193.0 655.7L193.5 655.7L194.0 655.7L194.5 655.7L195.0 655.7L195.5 655.7L196.0 655.7L196.5 655.6L197.0 655.6L197.5 655.6L198.0 655.6L198.5 655.6L199.0 655.6L199.5 655.5L200.0 655.5L200.5 655.5L201.0 655.4L201.5 655.3L202.0 655.2L202.5 655.1L203.0 655.0L203.5 654.9L204.0 654.7L204.5 654.6L205.0 654.4L205.5 654.1L206.0 653.9L206.5 653.7L207.0 653.4L207.5 653.1L208.0 652.8L208.5 652.5L209.0 652.2L209.5 652.0L210.0 651.7L210.5 651.5L211.0 651.3L211.5 651.1L212.0 650.9L212.5 650.8L213.0 650.8L213.5 650.8L214.0 650.8L214.5 650.9L215.0 651.0L215.5 651.2L216.0 651.4L216.5 651.6L217.0 651.8L217.5 652.1L218.0 652.4L218.5 652.7L219.0 653.0L219.5 653.2L220.0 653.5L220.5 653.8L221.0 654.0L221.5 654.2L222.0 654.5L222.5 654.6L223.0 654.8L223.5 655.0L224.0 655.1L224.5 655.2L225.0 655.3L225.5 655.4L226.0 655.4L226.5 655.5L227.0 655.5L227.5 655.6L228.0 655.6L228.5 655.6L229.0 655.6L229.5 655.6L230.0 655.6L230.5 655.6L231.0 655.6L231.5 655.6L232.0 655.6L232.5 655.6L233.0 655.6L233.5 655.6L234.0 655.6L234.5 655.6L235.0 655.6L235.5 655.6L236.0 655.6L236.5 655.6L237.0 655.6L237.5 655.6L238.0 655.6L238.5 655.5L239.0 655.5L239.5 655.5L240.0 655.5L240.5 655.4L241.0 655.4L241.5 655.4L242.0 655.3L242.5 655.3L243.0 655.2L243.5 655.1L244.0 655.1L244.5 655.0L245.0 654.9L245.5 654.8L246.0 654.7L246.5 654.6L247.0 654.4L247.5 654.3L248.0 654.2L248.5 654.0L249.0 653.8L249.5 653.6L250.0 653.4L250.5 653.2L251.0 653.0L251.5 652.7L252.0 652.5L252.5 652.2L253.0 651.9L253.5 651.6L254.0 651.3L254.5 651.0L255.0 650.6L255.5 650.3L256.0 649.9L256.5 649.6L257.0 649.2L257.5 648.8L258.0 648.5L258.5 648.1L259.0 647.7L259.5 647.3L260.0 647.0L260.5 646.6L261.0 646.2L261.5 645.9L262.0 645.6L262.5 645.2L263.0 644.9L263.5 644.6L264.0 644.4L264.5 644.1L265.0 643.9L265.5 643.6L266.0 643.4L266.5 643.3L267.0 643.1L267.5 642.9L268.0 642.8L268.5 642.7L269.0 642.6L269.5 642.5L270.0 642.4L270.5 642.3L271.0 642.2L271.5 642.2L272.0 642.1L272.5 642.1L273.0 642.1L273.5 642.1L274.0 642.1L274.5 642.2L275.0 642.2L275.5 642.3L276.0 642.5L276.5 642.6L277.0 642.8L277.5 643.0L278.0 643.3L278.5 643.6L279.0 643.9L279.5 644.3L280.0 644.7L280.5 645.0L281.0 645.4L281.5 645.8L282.0 646.1L282.5 646.3L283.0 646.5L283.5 646.6L284.0 646.6L284.5 646.4L285.0 646.0L285.5 645.4L286.0 644.5L286.5 643.4L287.0 641.9L287.5 640.2L288.0 638.0L288.5 635.5L289.0 632.7L289.5 629.4L290.0 625.8L290.5 621.8L291.0 617.5L291.5 612.9L292.0 608.2L292.5 603.3L293.0 598.3L293.5 593.4L294.0 588.7L294.5 584.2L295.0 580.0L295.5 576.3L296.0 573.1L296.5 570.6L297.0 568.7L297.5 567.6L298.0 567.3L298.5 567.8L299.0 569.2L299.5 571.5L300.0 574.6L300.5 578.4L301.0 582.8L301.5 587.6L302.0 592.8L302.5 598.2L303.0 603.7L303.5 609.2L304.0 614.5L304.5 619.6L305.0 624.4L305.5 628.8L306.0 632.9L306.5 636.5L307.0 639.7L307.5 642.6L308.0 645.0L308.5 647.1L309.0 648.8L309.5 650.3L310.0 651.4L310.5 652.4L311.0 653.2L311.5 653.8L312.0 654.3L312.5 654.6L313.0 654.9L313.5 655.1L314.0 655.3L314.5 655.4L315.0 655.5L315.5 655.5L316.0 655.6L316.5 655.6L317.0 655.6L317.5 655.6L318.0 655.7L318.5 655.7L319.0 655.7L319.5 655.7L320.0 655.7L320.5 655.7L321.0 655.7L321.5 655.7L322.0 655.7L322.5 655.7L323.0 655.7L323.5 655.7L324.0 655.7L324.5 655.7L325.0 655.7L325.5 655.7L326.0 655.7L326.5 655.7L327.0 655.7L327.5 655.7L328.0 655.7L328.5 655.7L329.0 655.7L329.5 655.7L330.0 655.7L330.5 655.7L331.0 655.7L331.5 655.7L332.0 655.7L332.5 655.7L333.0 655.7L333.5 655.7L334.0 655.7L334.5 655.7L335.0 655.7L335.5 655.7L336.0 655.7L336.5 655.7L337.0 655.7L337.5 655.7L338.0 655.7L338.5 655.7L339.0 655.7L339.5 655.7L340.0 655.7L340.5 655.7L341.0 655.7L341.5 655.7L342.0 655.7L342.5 655.7L343.0 655.7L343.5 655.7L344.0 655.7L344.5 655.7L345.0 655.7L345.5 655.7L346.0 655.7L346.5 655.7L347.0 655.7L347.5 655.7L348.0 655.7L348.5 655.7L349.0 655.7L349.5 655.7L350.0 655.7L350.5 655.7L351.0 655.7L351.5 655.7L352.0 655.7L352.5 655.7L353.0 655.7L353.5 655.7L354.0 655.7L354.5 655.7L355.0 655.7L355.5 655.7L356.0 655.7L356.5 655.7L357.0 655.7L357.5 655.7L358.0 655.7L358.5 655.7L359.0 655.7L359.5 655.7L360.0 655.7L360.5 655.7L361.0 655.7L361.5 655.7L362.0 655.7L362.5 655.7L363.0 655.7L363.5 655.7L364.0 655.7L364.5 655.7L365.0 655.7L365.5 655.7L366.0 655.7L366.5 655.7L367.0 655.7L367.5 655.7L368.0 655.7L368.5 655.7L369.0 655.7L369.5 655.7L370.0 655.7L370.5 655.7L371.0 655.7L371.5 655.7L372.0 655.7L372.5 655.7L373.0 655.7L373.5 655.7L374.0 655.7L374.5 655.7L375.0 655.7L375.5 655.7L376.0 655.7L376.5 655.7L377.0 655.7L377.5 655.7L378.0 655.7L378.5 655.7L379.0 655.7L379.5 655.7L380.0 655.7L380.5 655.7L381.0 655.7L381.5 655.7L382.0 655.7L382.5 655.7L383.0 655.7L383.5 655.7L384.0 655.7L384.5 655.7L385.0 655.7L385.5 655.7L386.0 655.7L386.5 655.7L387.0 655.7L387.5 655.7L388.0 655.7L388.5 655.7L389.0 655.7L389.5 655.7L390.0 655.7L390.5 655.7L391.0 655.7L391.5 655.7L392.0 655.7L392.5 655.7L393.0 655.7L393.5 655.7L394.0 655.7L394.5 655.7L395.0 655.7L395.5 655.7L396.0 655.7L396.5 655.7L397.0 655.7L397.5 655.7L398.0 655.7L398.5 655.7L399.0 655.7L399.5 655.7L400.0 655.7L400.5 655.7L401.0 655.7L401.5 655.7L402.0 655.7L402.5 655.7L403.0 655.7L403.5 655.7L404.0 655.7L404.5 655.7L405.0 655.7L405.5 655.7L406.0 655.7L406.5 655.7L407.0 655.7L407.5 655.7L408.0 655.7L408.5 655.7L409.0 655.7L409.5 655.7L410.0 655.7L410.5 655.7L411.0 655.7L411.5 655.7L412.0 655.7L412.5 655.7L413.0 655.7L413.5 655.7L414.0 655.7L414.5 655.7L415.0 655.7L415.5 655.7L416.0 655.7L416.5 655.7L417.0 655.7L417.5 655.7L418.0 655.7L418.5 655.7L419.0 655.7L419.5 655.7L420.0 655.7L420.5 655.7L421.0 655.7L421.5 655.7L422.0 655.7L422.5 655.7L423.0 655.7L423.5 655.7L424.0 655.7L424.5 655.7L425.0 655.7L425.5 655.7L426.0 655.7L426.5 655.7L427.0 655.7L427.5 655.7L428.0 655.7L428.5 655.7L429.0 655.7L429.5 655.7L430.0 655.7L430.5 655.7L431.0 655.7L431.5 655.7L432.0 655.7L432.5 655.7L433.0 655.7L433.5 655.7L434.0 655.7L434.5 655.7L435.0 655.7L435.5 655.7L436.0 655.7L436.5 655.7L437.0 655.7L437.5 655.7L438.0 655.7L438.5 655.7L439.0 655.7L439.5 655.7L440.0 655.7L440.5 655.7L441.0 655.7L441.5 655.7L442.0 655.7L442.5 655.7L443.0 655.7L443.5 655.7L444.0 655.7L444.5 655.7L445.0 655.7L445.5 655.7L446.0 655.7L446.5 655.7L447.0 655.7L447.5 655.7L448.0 655.7L448.5 655.7L449.0 655.7L449.5 655.7L450.0 655.7L450.5 655.7L451.0 655.7L451.5 655.7L452.0 655.7L452.5 655.7L453.0 655.7L453.5 655.7L454.0 655.7L454.5 655.7L455.0 655.7L455.5 655.7L456.0 655.7L456.5 655.7L457.0 655.7L457.5 655.7L458.0 655.7L458.5 655.7L459.0 655.7L459.5 655.7L460.0 655.7L460.5 655.7L461.0 655.7L461.5 655.7L462.0 655.7L462.5 655.7L463.0 655.7L463.5 655.7L464.0 655.7L464.5 655.7L465.0 655.7L465.5 655.7L466.0 655.7L466.5 655.7L467.0 655.7L467.5 655.7L468.0 655.7L468.5 655.7L469.0 655.7L469.5 655.7L470.0 655.7L470.5 655.7L471.0 655.7L471.5 655.7L472.0 655.7L472.5 655.7L473.0 655.7L473.5 655.7L474.0 655.7L474.5 655.7L475.0 655.7L475.5 655.7L476.0 655.7L476.5 655.7L477.0 655.7L477.5 655.7L478.0 655.7L478.5 655.7L479.0 655.7L479.5 655.7L480.0 655.7L480.5 655.7L481.0 655.7L481.5 655.7L482.0 655.7L482.5 655.7L483.0 655.7L483.5 655.7L484.0 655.7L484.5 655.7L485.0 655.7L485.5 655.7L486.0 655.7L486.5 655.7L487.0 655.7L487.5 655.7L488.0 655.7L488.5 655.7L489.0 655.7L489.5 655.7L490.0 655.7L490.5 655.7L491.0 655.7L491.5 655.7L492.0 655.7L492.5 655.7L493.0 655.7L493.5 655.7L494.0 655.7L494.5 655.7L495.0 655.7L495.5 655.7L496.0 655.7L496.5 655.7L497.0 655.7L497.5 655.7L498.0 655.7L498.5 655.7L499.0 655.7L499.5 655.7L500.0 655.7L500.5 655.7L501.0 655.7L501.5 655.7L502.0 655.7L502.5 655.7L503.0 655.7L503.5 655.7L504.0 655.7L504.5 655.7L505.0 655.7L505.5 655.7L506.0 655.7L506.5 655.7L507.0 655.7L507.5 655.7L508.0 655.7L508.5 655.7L509.0 655.7L509.5 655.7L510.0 655.7L510.5 655.7L511.0 655.7L511.5 655.7L512.0 655.7L512.5 655.7L513.0 655.7L513.5 655.7L514.0 655.7L514.5 655.7L515.0 655.7L515.5 655.7L516.0 655.7L516.5 655.7L517.0 655.7L517.5 655.7L518.0 655.7L518.5 655.7L519.0 655.7L519.5 655.7L520.0 655.7L520.5 655.7L521.0 655.7L521.5 655.7L522.0 655.7L522.5 655.7L523.0 655.7L523.5 655.7L524.0 655.7L524.5 655.7L525.0 655.7L525.5 655.7L526.0 655.7L526.5 655.7L527.0 655.7L527.5 655.7L528.0 655.7L528.5 655.7L529.0 655.7L529.5 655.7L530.0 655.7L530.5 655.7L531.0 655.7L531.5 655.7L532.0 655.7L532.5 655.7L533.0 655.7L533.5 655.7L534.0 655.7L534.5 655.7L535.0 655.7L535.5 655.7L536.0 655.7L536.5 655.7L537.0 655.7L537.5 655.7L538.0 655.7L538.5 655.7L539.0 655.7L539.5 655.7L540.0 655.7L540.5 655.7L541.0 655.7L541.5 655.7L542.0 655.7L542.5 655.7L543.0 655.7L543.5 655.7L544.0 655.7L544.5 655.7L545.0 655.7L545.5 655.7L546.0 655.7L546.5 655.7L547.0 655.7L547.5 655.7L548.0 655.7L548.5 655.7L549.0 655.7L549.5 655.7L550.0 655.7L550.5 655.7L551.0 655.7L551.5 655.7L552.0 655.7L552.5 655.7L553.0 655.7L553.5 655.7L554.0 655.7L554.5 655.7L555.0 655.7L555.5 655.7L556.0 655.7L556.5 655.7L557.0 655.7L557.5 655.7L558.0 655.7L558.5 655.7L559.0 655.7L559.5 655.7L560.0 655.7L560.5 655.7L561.0 655.7L561.5 655.7L562.0 655.7L562.5 655.7L563.0 655.7L563.5 655.7L564.0 655.7L564.5 655.7L565.0 655.7L565.5 655.7L566.0 655.7L566.5 655.7L567.0 655.7L567.5 655.7L568.0 655.7L568.5 655.7L569.0 655.7L569.5 655.7L570.0 655.7L570.5 655.7L571.0 655.7L571.5 655.7L572.0 655.7L572.5 655.7L573.0 655.7L573.5 655.7L574.0 655.7L574.5 655.7L575.0 655.7L575.5 655.7L576.0 655.7L576.5 655.7L577.0 655.7L577.5 655.7L578.0 655.7L578.5 655.7L579.0 655.7L579.5 655.7L580.0 655.7L580.5 655.7L581.0 655.7L581.5 655.7L582.0 655.7L582.5 655.7L583.0 655.7L583.5 655.7L584.0 655.7L584.5 655.7L585.0 655.7L585.5 655.7L586.0 655.7L586.5 655.7L587.0 655.7L587.5 655.7L588.0 655.7L588.5 655.7L589.0 655.7L589.5 655.7L590.0 655.7L590.5 655.7L591.0 655.7L591.5 655.7L592.0 655.7L592.5 655.7L593.0 655.7L593.5 655.7L594.0 655.7L594.5 655.7L595.0 655.7L595.5 655.7L596.0 655.7L596.5 655.7L597.0 655.7L597.5 655.7L598.0 655.7L598.5 655.7L599.0 655.7L599.5 655.7L600.0 655.7L600.5 655.7L601.0 655.7L601.5 655.7L602.0 655.7L602.5 655.7L603.0 655.7L603.5 655.7L604.0 655.7L604.5 655.7L605.0 655.7L605.5 655.7L606.0 655.7L606.5 655.7L607.0 655.7L607.5 655.7L608.0 655.7L608.5 655.7L609.0 655.7" stroke="#00f" stroke-width="2.6"/>
<path d="M56.0 756.1L56.5 756.1L57.0 756.1L57.5 756.1L58.0 756.1L58.5 756.1L59.0 756.1L59.5 756.1L60.0 756.1L60.5 756.1L61.0 756.1L61.5 756.1L62.0 756.1L62.5 756.1L63.0 756.1L63.5 756.1L64.0 756.1L64.5 756.1L65.0 756.1L65.5 756.1L66.0 756.1L66.5 756.1L67.0 756.1L67.5 756.1L68.0 756.1L68.5 756.1L69.0 756.1L69.5 756.1L70.0 756.1L70.5 756.1L71.0 756.1L71.5 756.1L72.0 756.1L72.5 756.1L73.0 756.1L73.5 756.1L74.0 756.1L74.5 756.1L75.0 756.1L75.5 756.1L76.0 756.1L76.5 756.1L77.0 756.1L77.5 756.1L78.0 756.1L78.5 756.1L79.0 756.1L79.5 756.1L80.0 756.1L80.5 756.1L81.0 756.1L81.5 756.1L82.0 756.1L82.5 756.1L83.0 756.1L83.5 756.1L84.0 756.1L84.5 756.1L85.0 756.1L85.5 756.1L86.0 756.1L86.5 756.1L87.0 756.1L87.5 756.1L88.0 756.1L88.5 756.1L89.0 756.1L89.5 756.1L90.0 756.1L90.5 756.1L91.0 756.1L91.5 756.1L92.0 756.1L92.5 756.1L93.0 756.1L93.5 756.1L94.0 756.1L94.5 756.1L95.0 756.1L95.5 756.1L96.0 756.1L96.5 756.1L97.0 756.1L97.5 756.1L98.0 756.1L98.5 756.1L99.0 756.1L99.5 756.1L100.0 756.1L100.5 756.1L101.0 756.1L101.5 756.1L102.0 756.1L102.5 756.1L103.0 756.1L103.5 756.1L104.0 756.1L104.5 756.1L105.0 756.1L105.5 756.1L106.0 756.1L106.5 756.1L107.0 756.1L107.5 756.1L108.0 756.1L108.5 756.1L109.0 756.1L109.5 756.1L110.0 756.1L110.5 756.1L111.0 756.1L111.5 756.1L112.0 756.1L112.5 756.1L113.0 756.1L113.5 756.1L114.0 756.1L114.5 756.1L115.0 756.1L115.5 756.1L116.0 756.1L116.5 756.1L117.0 756.1L117.5 756.1L118.0 756.1L118.5 756.1L119.0 756.1L119.5 756.1L120.0 756.1L120.5 756.1L121.0 756.1L121.5 756.1L122.0 756.1L122.5 756.1L123.0 756.1L123.5 756.1L124.0 756.1L124.5 756.1L125.0 756.1L125.5 756.1L126.0 756.1L126.5 756.1L127.0 756.1L127.5 756.1L128.0 756.1L128.5 756.1L129.0 756.1L129.5 756.1L130.0 756.1L130.5 756.1L131.0 756.1L131.5 756.1L132.0 756.1L132.5 756.1L133.0 756.1L133.5 756.1L134.0 756.1L134.5 756.1L135.0 756.1L135.5 756.1L136.0 756.1L136.5 756.1L137.0 756.1L137.5 756.1L138.0 756.1L138.5 756.1L139.0 756.1L139.5 756.1L140.0 756.1L140.5 756.1L141.0 756.1L141.5 756.1L142.0 756.1L142.5 756.1L143.0 756.1L143.5 756.1L144.0 756.1L144.5 756.1L145.0 756.1L145.5 756.1L146.0 756.1L146.5 756.1L147.0 756.1L147.5 756.1L148.0 756.1L148.5 756.1L149.0 756.1L149.5 756.1L150.0 756.1L150.5 756.1L151.0 756.1L151.5 756.1L152.0 756.1L152.5 756.1L153.0 756.1L153.5 756.1L154.0 756.1L154.5 756.1L155.0 756.1L155.5 756.1L156.0 756.1L156.5 756.1L157.0 756.1L157.5 756.1L158.0 756.1L158.5 756.1L159.0 756.1L159.5 756.1L160.0 756.1L160.5 756.1L161.0 756.1L161.5 756.1L162.0 756.1L162.5 756.1L163.0 756.1L163.5 756.1L164.0 756.1L164.5 756.1L165.0 756.1L165.5 756.1L166.0 756.1L166.5 756.1L167.0 756.1L167.5 756.1L168.0 756.1L168.5 756.1L169.0 756.1L169.5 756.1L170.0 756.0L170.5 756.0L171.0 756.0L171.5 755.9L172.0 755.9L172.5 755.8L173.0 755.8L173.5 755.7L174.0 755.6L174.5 755.5L175.0 755.3L175.5 755.2L176.0 755.0L176.5 754.9L177.0 754.7L177.5 754.4L178.0 754.2L178.5 753.9L179.0 753.6L179.5 753.3L180.0 753.0L180.5 752.6L181.0 752.2L181.5 751.9L182.0 751.5L182.5 751.1L183.0 750.7L183.5 750.3L184.0 750.0L184.5 749.6L185.0 749.3L185.5 749.0L186.0 748.7L186.5 748.5L187.0 748.4L187.5 748.2L188.0 748.1L188.5 748.1L189.0 748.1L189.5 748.2L190.0 748.3L190.5 748.5L191.0 748.7L191.5 748.9L192.0 749.2L192.5 749.5L193.0 749.9L193.5 750.2L194.0 750.6L194.5 751.0L195.0 751.4L195.5 751.8L196.0 752.1L196.5 752.5L197.0 752.9L197.5 753.2L198.0 753.5L198.5 753.8L199.0 754.1L199.5 754.4L200.0 754.6L200.5 754.8L201.0 755.0L201.5 755.2L202.0 755.3L202.5 755.4L203.0 755.5L203.5 755.6L204.0 755.7L204.5 755.8L205.0 755.9L205.5 755.9L206.0 755.9L206.5 756.0L207.0 756.0L207.5 756.0L208.0 756.0L208.5 756.0L209.0 756.0L209.5 756.0L210.0 756.0L210.5 756.0L211.0 756.0L211.5 756.0L212.0 756.0L212.5 756.0L213.0 756.0L213.5 755.9L214.0 755.9L214.5 755.9L215.0 755.9L215.5 755.8L216.0 755.8L216.5 755.7L217.0 755.7L217.5 755.6L218.0 755.6L218.5 755.5L219.0 755.4L219.5 755.4L220.0 755.3L220.5 755.2L221.0 755.1L221.5 755.0L222.0 754.9L222.5 754.8L223.0 754.6L223.5 754.5L224.0 754.4L224.5 754.2L225.0 754.1L225.5 753.9L226.0 753.7L226.5 753.6L227.0 753.4L227.5 753.2L228.0 753.0L228.5 752.8L229.0 752.6L229.5 752.4L230.0 752.2L230.5 752.0L231.0 751.8L231.5 751.6L232.0 751.3L232.5 751.1L233.0 750.9L233.5 750.7L234.0 750.5L234.5 750.3L235.0 750.1L235.5 749.9L236.0 749.6L236.5 749.4L237.0 749.2L237.5 749.0L238.0 748.8L238.5 748.6L239.0 748.3L239.5 748.1L240.0 747.9L240.5 747.6L241.0 747.3L241.5 747.1L242.0 746.8L242.5 746.5L243.0 746.2L243.5 746.0L244.0 745.7L244.5 745.4L245.0 745.2L245.5 744.9L246.0 744.7L246.5 744.6L247.0 744.4L247.5 744.3L248.0 744.3L248.5 744.3L249.0 744.3L249.5 744.5L250.0 744.6L250.5 744.8L251.0 745.1L251.5 745.4L252.0 745.8L252.5 746.2L253.0 746.6L253.5 747.0L254.0 747.5L254.5 747.9L255.0 748.3L255.5 748.6L256.0 748.9L256.5 749.1L257.0 749.2L257.5 749.2L258.0 749.1L258.5 748.8L259.0 748.3L259.5 747.7L260.0 746.8L260.5 745.6L261.0 744.2L261.5 742.5L262.0 740.5L262.5 738.2L263.0 735.6L263.5 732.6L264.0 729.3L264.5 725.7L265.0 721.8L265.5 717.6L266.0 713.2L266.5 708.6L267.0 703.9L267.5 699.1L268.0 694.3L268.5 689.5L269.0 684.9L269.5 680.6L270.0 676.6L270.5 673.0L271.0 669.8L271.5 667.2L272.0 665.2L272.5 663.9L273.0 663.2L273.5 663.2L274.0 664.1L274.5 665.9L275.0 668.5L275.5 671.9L276.0 676.0L276.5 680.6L277.0 685.6L277.5 690.9L278.0 696.5L278.5 702.1L279.0 707.6L279.5 713.0L280.0 718.2L280.5 723.1L281.0 727.6L281.5 731.8L282.0 735.6L282.5 738.9L283.0 741.8L283.5 744.4L284.0 746.6L284.5 748.5L285.0 750.0L285.5 751.3L286.0 752.4L286.5 753.2L287.0 753.9L287.5 754.4L288.0 754.9L288.5 755.2L289.0 755.4L289.5 755.6L290.0 755.8L290.5 755.9L291.0 756.0L291.5 756.0L292.0 756.0L292.5 756.1L293.0 756.1L293.5 756.1L294.0 756.1L294.5 756.1L295.0 756.1L295.5 756.1L296.0 756.1L296.5 756.1L297.0 756.1L297.5 756.1L298.0 756.1L298.5 756.1L299.0 756.1L299.5 756.1L300.0 756.1L300.5 756.1L301.0 756.1L301.5 756.1L302.0 756.1L302.5 756.1L303.0 756.1L303.5 756.1L304.0 756.1L304.5 756.1L305.0 756.1L305.5 756.1L306.0 756.1L306.5 756.1L307.0 756.1L307.5 756.1L308.0 756.1L308.5 756.1L309.0 756.1L309.5 756.1L310.0 756.1L310.5 756.1L311.0 756.1L311.5 756.1L312.0 756.1L312.5 756.1L313.0 756.1L313.5 756.1L314.0 756.1L314.5 756.1L315.0 756.1L315.5 756.1L316.0 756.1L316.5 756.1L317.0 756.1L317.5 756.1L318.0 756.1L318.5 756.1L319.0 756.1L319.5 756.1L320.0 756.1L320.5 756.1L321.0 756.1L321.5 756.1L322.0 756.1L322.5 756.1L323.0 756.1L323.5 756.1L324.0 756.1L324.5 756.1L325.0 756.1L325.5 756.1L326.0 756.1L326.5 756.1L327.0 756.1L327.5 756.1L328.0 756.1L328.5 756.1L329.0 756.1L329.5 756.1L330.0 756.1L330.5 756.1L331.0 756.1L331.5 756.1L332.0 756.1L332.5 756.1L333.0 756.1L333.5 756.1L334.0 756.1L334.5 756.1L335.0 756.1L335.5 756.1L336.0 756.1L336.5 756.1L337.0 756.1L337.5 756.1L338.0 756.1L338.5 756.1L339.0 756.1L339.5 756.1L340.0 756.1L340.5 756.1L341.0 756.1L341.5 756.1L342.0 756.1L342.5 756.1L343.0 756.1L343.5 756.1L344.0 756.1L344.5 756.1L345.0 756.1L345.5 756.1L346.0 756.1L346.5 756.1L347.0 756.1L347.5 756.1L348.0 756.1L348.5 756.1L349.0 756.1L349.5 756.1L350.0 756.1L350.5 756.1L351.0 756.1L351.5 756.1L352.0 756.1L352.5 756.1L353.0 756.1L353.5 756.1L354.0 756.1L354.5 756.1L355.0 756.1L355.5 756.1L356.0 756.1L356.5 756.1L357.0 756.1L357.5 756.1L358.0 756.1L358.5 756.1L359.0 756.1L359.5 756.1L360.0 756.1L360.5 756.1L361.0 756.1L361.5 756.1L362.0 756.1L362.5 756.1L363.0 756.1L363.5 756.1L364.0 756.1L364.5 756.1L365.0 756.1L365.5 756.1L366.0 756.1L366.5 756.1L367.0 756.1L367.5 756.1L368.0 756.1L368.5 756.1L369.0 756.1L369.5 756.1L370.0 756.1L370.5 756.1L371.0 756.1L371.5 756.1L372.0 756.1L372.5 756.1L373.0 756.1L373.5 756.1L374.0 756.1L374.5 756.1L375.0 756.1L375.5 756.1L376.0 756.1L376.5 756.1L377.0 756.1L377.5 756.1L378.0 756.1L378.5 756.1L379.0 756.1L379.5 756.1L380.0 756.1L380.5 756.1L381.0 756.1L381.5 756.1L382.0 756.1L382.5 756.1L383.0 756.1L383.5 756.1L384.0 756.1L384.5 756.1L385.0 756.1L385.5 756.1L386.0 756.1L386.5 756.1L387.0 756.1L387.5 756.1L388.0 756.1L388.5 756.1L389.0 756.1L389.5 756.1L390.0 756.1L390.5 756.1L391.0 756.1L391.5 756.1L392.0 756.1L392.5 756.1L393.0 756.1L393.5 756.1L394.0 756.1L394.5 756.1L395.0 756.1L395.5 756.1L396.0 756.1L396.5 756.1L397.0 756.1L397.5 756.1L398.0 756.1L398.5 756.1L399.0 756.1L399.5 756.1L400.0 756.1L400.5 756.1L401.0 756.1L401.5 756.1L402.0 756.1L402.5 756.1L403.0 756.1L403.5 756.1L404.0 756.1L404.5 756.1L405.0 756.1L405.5 756.1L406.0 756.1L406.5 756.1L407.0 756.1L407.5 756.1L408.0 756.1L408.5 756.1L409.0 756.1L409.5 756.1L410.0 756.1L410.5 756.1L411.0 756.1L411.5 756.1L412.0 756.1L412.5 756.1L413.0 756.1L413.5 756.1L414.0 756.1L414.5 756.1L415.0 756.1L415.5 756.1L416.0 756.1L416.5 756.1L417.0 756.1L417.5 756.1L418.0 756.1L418.5 756.1L419.0 756.1L419.5 756.1L420.0 756.1L420.5 756.1L421.0 756.1L421.5 756.1L422.0 756.1L422.5 756.1L423.0 756.1L423.5 756.1L424.0 756.1L424.5 756.1L425.0 756.1L425.5 756.1L426.0 756.1L426.5 756.1L427.0 756.1L427.5 756.1L428.0 756.1L428.5 756.1L429.0 756.1L429.5 756.1L430.0 756.1L430.5 756.1L431.0 756.1L431.5 756.1L432.0 756.1L432.5 756.1L433.0 756.1L433.5 756.1L434.0 756.1L434.5 756.1L435.0 756.1L435.5 756.1L436.0 756.1L436.5 756.1L437.0 756.1L437.5 756.1L438.0 756.1L438.5 756.1L439.0 756.1L439.5 756.1L440.0 756.1L440.5 756.1L441.0 756.1L441.5 756.1L442.0 756.1L442.5 756.1L443.0 756.1L443.5 756.1L444.0 756.1L444.5 756.1L445.0 756.1L445.5 756.1L446.0 756.1L446.5 756.1L447.0 756.1L447.5 756.1L448.0 756.1L448.5 756.1L449.0 756.1L449.5 756.1L450.0 756.1L450.5 756.1L451.0 756.1L451.5 756.1L452.0 756.1L452.5 756.1L453.0 756.1L453.5 756.1L454.0 756.1L454.5 756.1L455.0 756.1L455.5 756.1L456.0 756.1L456.5 756.1L457.0 756.1L457.5 756.1L458.0 756.1L458.5 756.1L459.0 756.1L459.5 756.1L460.0 756.1L460.5 756.1L461.0 756.1L461.5 756.1L462.0 756.1L462.5 756.1L463.0 756.1L463.5 756.1L464.0 756.1L464.5 756.1L465.0 756.1L465.5 756.1L466.0 756.1L466.5 756.1L467.0 756.1L467.5 756.1L468.0 756.1L468.5 756.1L469.0 756.1L469.5 756.1L470.0 756.1L470.5 756.1L471.0 756.1L471.5 756.1L472.0 756.1L472.5 756.1L473.0 756.1L473.5 756.1L474.0 756.1L474.5 756.1L475.0 756.1L475.5 756.1L476.0 756.1L476.5 756.1L477.0 756.1L477.5 756.1L478.0 756.1L478.5 756.1L479.0 756.1L479.5 756.1L480.0 756.1L480.5 756.1L481.0 756.1L481.5 756.1L482.0 756.1L482.5 756.1L483.0 756.1L483.5 756.1L484.0 756.1L484.5 756.1L485.0 756.1L485.5 756.1L486.0 756.1L486.5 756.1L487.0 756.1L487.5 756.1L488.0 756.1L488.5 756.1L489.0 756.1L489.5 756.1L490.0 756.1L490.5 756.1L491.0 756.1L491.5 756.1L492.0 756.1L492.5 756.1L493.0 756.1L493.5 756.1L494.0 756.1L494.5 756.1L495.0 756.1L495.5 756.1L496.0 756.1L496.5 756.1L497.0 756.1L497.5 756.1L498.0 756.1L498.5 756.1L499.0 756.1L499.5 756.1L500.0 756.1L500.5 756.1L501.0 756.1L501.5 756.1L502.0 756.1L502.5 756.1L503.0 756.1L503.5 756.1L504.0 756.1L504.5 756.1L505.0 756.1L505.5 756.1L506.0 756.1L506.5 756.1L507.0 756.1L507.5 756.1L508.0 756.1L508.5 756.1L509.0 756.1L509.5 756.1L510.0 756.1L510.5 756.1L511.0 756.1L511.5 756.1L512.0 756.1L512.5 756.1L513.0 756.1L513.5 756.1L514.0 756.1L514.5 756.1L515.0 756.1L515.5 756.1L516.0 756.1L516.5 756.1L517.0 756.1L517.5 756.1L518.0 756.1L518.5 756.1L519.0 756.1L519.5 756.1L520.0 756.1L520.5 756.1L521.0 756.1L521.5 756.1L522.0 756.1L522.5 756.1L523.0 756.1L523.5 756.1L524.0 756.1L524.5 756.1L525.0 756.1L525.5 756.1L526.0 756.1L526.5 756.1L527.0 756.1L527.5 756.1L528.0 756.1L528.5 756.1L529.0 756.1L529.5 756.1L530.0 756.1L530.5 756.1L531.0 756.1L531.5 756.1L532.0 756.1L532.5 756.1L533.0 756.1L533.5 756.1L534.0 756.1L534.5 756.1L535.0 756.1L535.5 756.1L536.0 756.1L536.5 756.1L537.0 756.1L537.5 756.1L538.0 756.1L538.5 756.1L539.0 756.1L539.5 756.1L540.0 756.1L540.5 756.1L541.0 756.1L541.5 756.1L542.0 756.1L542.5 756.1L543.0 756.1L543.5 756.1L544.0 756.1L544.5 756.1L545.0 756.1L545.5 756.1L546.0 756.1L546.5 756.1L547.0 756.1L547.5 756.1L548.0 756.1L548.5 756.1L549.0 756.1L549.5 756.1L550.0 756.1L550.5 756.1L551.0 756.1L551.5 756.1L552.0 756.1L552.5 756.1L553.0 756.1L553.5 756.1L554.0 756.1L554.5 756.1L555.0 756.1L555.5 756.1L556.0 756.1L556.5 756.1L557.0 756.1L557.5 756.1L558.0 756.1L558.5 756.1L559.0 756.1L559.5 756.1L560.0 756.1L560.5 756.1L561.0 756.1L561.5 756.1L562.0 756.1L562.5 756.1L563.0 756.1L563.5 756.1L564.0 756.1L564.5 756.1L565.0 756.1L565.5 756.1L566.0 756.1L566.5 756.1L567.0 756.1L567.5 756.1L568.0 756.1L568.5 756.1L569.0 756.1L569.5 756.1L570.0 756.1L570.5 756.1L571.0 756.1L571.5 756.1L572.0 756.1L572.5 756.1L573.0 756.1L573.5 756.1L574.0 756.1L574.5 756.1L575.0 756.1L575.5 756.1L576.0 756.1L576.5 756.1L577.0 756.1L577.5 756.1L578.0 756.1L578.5 756.1L579.0 756.1L579.5 756.1L580.0 756.1L580.5 756.1L581.0 756.1L581.5 756.1L582.0 756.1L582.5 756.1L583.0 756.1L583.5 756.1L584.0 756.1L584.5 756.1L585.0 756.1L585.5 756.1L586.0 756.1L586.5 756.1L587.0 756.1L587.5 756.1L588.0 756.1L588.5 756.1L589.0 756.1L589.5 756.1L590.0 756.1L590.5 756.1L591.0 756.1L591.5 756.1L592.0 756.1L592.5 756.1L593.0 756.1L593.5 756.1L594.0 756.1L594.5 756.1L595.0 756.1L595.5 756.1L596.0 756.1L596.5 756.1L597.0 756.1L597.5 756.1L598.0 756.1L598.5 756.1L599.0 756.1L599.5 756.1L600.0 756.1L600.5 756.1L601.0 756.1L601.5 756.1L602.0 756.1L602.5 756.1L603.0 756.1L603.5 756.1L604.0 756.1L604.5 756.1L605.0 756.1L605.5 756.1L606.0 756.1L606.5 756.1L607.0 756.1L607.5 756.1L608.0 756.1L608.5 756.1L609.0 756.1" stroke="#00f" stroke-width="2.6"/>
<path d="M56.0 853.6L56.5 853.6L57.0 853.6L57.5 853.6L58.0 853.6L58.5 853.6L59.0 853.6L59.5 853.6L60.0 853.6L60.5 853.6L61.0 853.6L61.5 853.6L62.0 853.6L62.5 853.6L63.0 853.6L63.5 853.6L64.0 853.6L64.5 853.6L65.0 853.6L65.5 853.6L66.0 853.6L66.5 853.6L67.0 853.6L67.5 853.6L68.0 853.6L68.5 853.6L69.0 853.6L69.5 853.6L70.0 853.6L70.5 853.6L71.0 853.6L71.5 853.6L72.0 853.6L72.5 853.6L73.0 853.6L73.5 853.6L74.0 853.6L74.5 853.6L75.0 853.6L75.5 853.6L76.0 853.6L76.5 853.6L77.0 853.6L77.5 853.6L78.0 853.6L78.5 853.6L79.0 853.6L79.5 853.6L80.0 853.6L80.5 853.6L81.0 853.6L81.5 853.6L82.0 853.6L82.5 853.6L83.0 853.6L83.5 853.6L84.0 853.6L84.5 853.6L85.0 853.6L85.5 853.6L86.0 853.6L86.5 853.6L87.0 853.6L87.5 853.6L88.0 853.6L88.5 853.6L89.0 853.6L89.5 853.6L90.0 853.6L90.5 853.6L91.0 853.6L91.5 853.6L92.0 853.6L92.5 853.6L93.0 853.6L93.5 853.6L94.0 853.6L94.5 853.6L95.0 853.6L95.5 853.6L96.0 853.6L96.5 853.6L97.0 853.6L97.5 853.6L98.0 853.6L98.5 853.6L99.0 853.6L99.5 853.6L100.0 853.6L100.5 853.6L101.0 853.6L101.5 853.6L102.0 853.6L102.5 853.6L103.0 853.6L103.5 853.6L104.0 853.6L104.5 853.6L105.0 853.6L105.5 853.6L106.0 853.6L106.5 853.6L107.0 853.6L107.5 853.6L108.0 853.6L108.5 853.6L109.0 853.6L109.5 853.6L110.0 853.6L110.5 853.6L111.0 853.6L111.5 853.6L112.0 853.6L112.5 853.6L113.0 853.6L113.5 853.6L114.0 853.6L114.5 853.6L115.0 853.6L115.5 853.6L116.0 853.6L116.5 853.6L117.0 853.6L117.5 853.6L118.0 853.6L118.5 853.6L119.0 853.6L119.5 853.6L120.0 853.6L120.5 853.6L121.0 853.6L121.5 853.6L122.0 853.6L122.5 853.6L123.0 853.6L123.5 853.6L124.0 853.6L124.5 853.6L125.0 853.6L125.5 853.6L126.0 853.6L126.5 853.6L127.0 853.6L127.5 853.6L128.0 853.6L128.5 853.6L129.0 853.6L129.5 853.6L130.0 853.6L130.5 853.6L131.0 853.6L131.5 853.6L132.0 853.6L132.5 853.6L133.0 853.6L133.5 853.6L134.0 853.6L134.5 853.6L135.0 853.6L135.5 853.6L136.0 853.6L136.5 853.6L137.0 853.6L137.5 853.6L138.0 853.6L138.5 853.6L139.0 853.6L139.5 853.6L140.0 853.5L140.5 853.5L141.0 853.5L141.5 853.5L142.0 853.5L142.5 853.5L143.0 853.5L143.5 853.5L144.0 853.4L144.5 853.4L145.0 853.4L145.5 853.4L146.0 853.4L146.5 853.4L147.0 853.3L147.5 853.3L148.0 853.3L148.5 853.3L149.0 853.3L149.5 853.3L150.0 853.3L150.5 853.3L151.0 853.3L151.5 853.3L152.0 853.3L152.5 853.3L153.0 853.3L153.5 853.4L154.0 853.4L154.5 853.4L155.0 853.4L155.5 853.4L156.0 853.4L156.5 853.5L157.0 853.5L157.5 853.5L158.0 853.5L158.5 853.5L159.0 853.5L159.5 853.5L160.0 853.5L160.5 853.5L161.0 853.5L161.5 853.5L162.0 853.5L162.5 853.4L163.0 853.4L163.5 853.3L164.0 853.3L164.5 853.2L165.0 853.2L165.5 853.1L166.0 853.0L166.5 852.8L167.0 852.7L167.5 852.5L168.0 852.3L168.5 852.1L169.0 851.8L169.5 851.5L170.0 851.2L170.5 850.8L171.0 850.4L171.5 849.9L172.0 849.4L172.5 848.9L173.0 848.3L173.5 847.7L174.0 847.1L174.5 846.4L175.0 845.7L175.5 845.0L176.0 844.2L176.5 843.5L177.0 842.7L177.5 842.0L178.0 841.3L178.5 840.6L179.0 840.0L179.5 839.4L180.0 838.9L180.5 838.4L181.0 838.0L181.5 837.7L182.0 837.4L182.5 837.3L183.0 837.2L183.5 837.3L184.0 837.4L184.5 837.6L185.0 837.9L185.5 838.3L186.0 838.7L186.5 839.2L187.0 839.8L187.5 840.4L188.0 841.1L188.5 841.8L189.0 842.5L189.5 843.3L190.0 844.0L190.5 844.8L191.0 845.5L191.5 846.2L192.0 846.9L192.5 847.5L193.0 848.1L193.5 848.7L194.0 849.3L194.5 849.8L195.0 850.2L195.5 850.7L196.0 851.1L196.5 851.4L197.0 851.7L197.5 852.0L198.0 852.2L198.5 852.4L199.0 852.6L199.5 852.8L200.0 852.9L200.5 853.0L201.0 853.1L201.5 853.2L202.0 853.3L202.5 853.3L203.0 853.4L203.5 853.4L204.0 853.4L204.5 853.4L205.0 853.5L205.5 853.5L206.0 853.5L206.5 853.5L207.0 853.4L207.5 853.4L208.0 853.4L208.5 853.4L209.0 853.3L209.5 853.3L210.0 853.3L210.5 853.2L211.0 853.2L211.5 853.1L212.0 853.0L212.5 852.9L213.0 852.8L213.5 852.7L214.0 852.6L214.5 852.5L215.0 852.3L215.5 852.2L216.0 852.0L216.5 851.8L217.0 851.6L217.5 851.3L218.0 851.1L218.5 850.8L219.0 850.5L219.5 850.2L220.0 849.9L220.5 849.5L221.0 849.1L221.5 848.7L222.0 848.3L222.5 847.9L223.0 847.5L223.5 847.0L224.0 846.5L224.5 846.0L225.0 845.6L225.5 845.1L226.0 844.6L226.5 844.1L227.0 843.6L227.5 843.1L228.0 842.6L228.5 842.2L229.0 841.7L229.5 841.3L230.0 840.9L230.5 840.5L231.0 840.2L231.5 839.9L232.0 839.6L232.5 839.4L233.0 839.2L233.5 839.0L234.0 838.9L234.5 838.9L235.0 838.9L235.5 838.9L236.0 839.0L236.5 839.1L237.0 839.3L237.5 839.5L238.0 839.8L238.5 840.0L239.0 840.3L239.5 840.7L240.0 841.1L240.5 841.4L241.0 841.8L241.5 842.2L242.0 842.6L242.5 843.0L243.0 843.4L243.5 843.8L244.0 844.1L244.5 844.3L245.0 844.5L245.5 844.6L246.0 844.6L246.5 844.5L247.0 844.2L247.5 843.8L248.0 843.2L248.5 842.3L249.0 841.3L249.5 840.0L250.0 838.4L250.5 836.5L251.0 834.2L251.5 831.7L252.0 828.8L252.5 825.6L253.0 822.1L253.5 818.3L254.0 814.2L254.5 809.9L255.0 805.4L255.5 800.8L256.0 796.1L256.5 791.5L257.0 786.9L257.5 782.5L258.0 778.4L258.5 774.6L259.0 771.3L259.5 768.4L260.0 766.2L260.5 764.5L261.0 763.5L261.5 763.2L262.0 763.5L262.5 764.5L263.0 766.1L263.5 768.3L264.0 771.0L264.5 774.2L265.0 777.8L265.5 781.8L266.0 786.0L266.5 790.4L267.0 795.0L267.5 799.6L268.0 804.3L268.5 808.8L269.0 813.2L269.5 817.5L270.0 821.5L270.5 825.3L271.0 828.8L271.5 832.0L272.0 835.0L272.5 837.6L273.0 840.0L273.5 842.1L274.0 843.9L274.5 845.5L275.0 846.9L275.5 848.1L276.0 849.1L276.5 850.0L277.0 850.7L277.5 851.3L278.0 851.8L278.5 852.1L279.0 852.5L279.5 852.7L280.0 852.9L280.5 853.1L281.0 853.2L281.5 853.3L282.0 853.4L282.5 853.4L283.0 853.5L283.5 853.5L284.0 853.5L284.5 853.5L285.0 853.6L285.5 853.6L286.0 853.6L286.5 853.6L287.0 853.6L287.5 853.6L288.0 853.6L288.5 853.6L289.0 853.6L289.5 853.6L290.0 853.6L290.5 853.6L291.0 853.6L291.5 853.6L292.0 853.6L292.5 853.6L293.0 853.6L293.5 853.6L294.0 853.6L294.5 853.6L295.0 853.6L295.5 853.6L296.0 853.6L296.5 853.6L297.0 853.6L297.5 853.6L298.0 853.6L298.5 853.6L299.0 853.6L299.5 853.6L300.0 853.6L300.5 853.6L301.0 853.6L301.5 853.6L302.0 853.6L302.5 853.6L303.0 853.6L303.5 853.6L304.0 853.6L304.5 853.6L305.0 853.6L305.5 853.6L306.0 853.6L306.5 853.6L307.0 853.6L307.5 853.6L308.0 853.6L308.5 853.6L309.0 853.6L309.5 853.6L310.0 853.6L310.5 853.6L311.0 853.6L311.5 853.6L312.0 853.6L312.5 853.6L313.0 853.6L313.5 853.6L314.0 853.6L314.5 853.6L315.0 853.6L315.5 853.6L316.0 853.6L316.5 853.6L317.0 853.6L317.5 853.6L318.0 853.6L318.5 853.6L319.0 853.6L319.5 853.6L320.0 853.6L320.5 853.6L321.0 853.6L321.5 853.6L322.0 853.6L322.5 853.6L323.0 853.6L323.5 853.6L324.0 853.6L324.5 853.6L325.0 853.6L325.5 853.6L326.0 853.6L326.5 853.6L327.0 853.6L327.5 853.6L328.0 853.6L328.5 853.6L329.0 853.6L329.5 853.6L330.0 853.6L330.5 853.6L331.0 853.6L331.5 853.6L332.0 853.6L332.5 853.6L333.0 853.6L333.5 853.6L334.0 853.6L334.5 853.6L335.0 853.6L335.5 853.6L336.0 853.6L336.5 853.6L337.0 853.6L337.5 853.6L338.0 853.6L338.5 853.6L339.0 853.6L339.5 853.6L340.0 853.6L340.5 853.6L341.0 853.6L341.5 853.6L342.0 853.6L342.5 853.6L343.0 853.6L343.5 853.6L344.0 853.6L344.5 853.6L345.0 853.6L345.5 853.6L346.0 853.6L346.5 853.6L347.0 853.6L347.5 853.6L348.0 853.6L348.5 853.6L349.0 853.6L349.5 853.6L350.0 853.6L350.5 853.6L351.0 853.6L351.5 853.6L352.0 853.6L352.5 853.6L353.0 853.6L353.5 853.6L354.0 853.6L354.5 853.6L355.0 853.6L355.5 853.6L356.0 853.6L356.5 853.6L357.0 853.6L357.5 853.6L358.0 853.6L358.5 853.6L359.0 853.6L359.5 853.6L360.0 853.6L360.5 853.6L361.0 853.6L361.5 853.6L362.0 853.6L362.5 853.6L363.0 853.6L363.5 853.6L364.0 853.6L364.5 853.6L365.0 853.6L365.5 853.6L366.0 853.6L366.5 853.6L367.0 853.6L367.5 853.6L368.0 853.6L368.5 853.6L369.0 853.6L369.5 853.6L370.0 853.6L370.5 853.6L371.0 853.6L371.5 853.6L372.0 853.6L372.5 853.6L373.0 853.6L373.5 853.6L374.0 853.6L374.5 853.6L375.0 853.6L375.5 853.6L376.0 853.6L376.5 853.6L377.0 853.6L377.5 853.6L378.0 853.6L378.5 853.6L379.0 853.6L379.5 853.6L380.0 853.6L380.5 853.6L381.0 853.6L381.5 853.6L382.0 853.6L382.5 853.6L383.0 853.6L383.5 853.6L384.0 853.6L384.5 853.6L385.0 853.6L385.5 853.6L386.0 853.6L386.5 853.6L387.0 853.6L387.5 853.6L388.0 853.6L388.5 853.6L389.0 853.6L389.5 853.6L390.0 853.6L390.5 853.6L391.0 853.6L391.5 853.6L392.0 853.6L392.5 853.6L393.0 853.6L393.5 853.6L394.0 853.6L394.5 853.6L395.0 853.6L395.5 853.6L396.0 853.6L396.5 853.6L397.0 853.6L397.5 853.6L398.0 853.6L398.5 853.6L399.0 853.6L399.5 853.6L400.0 853.6L400.5 853.6L401.0 853.6L401.5 853.6L402.0 853.6L402.5 853.6L403.0 853.6L403.5 853.6L404.0 853.6L404.5 853.6L405.0 853.6L405.5 853.6L406.0 853.6L406.5 853.6L407.0 853.6L407.5 853.6L408.0 853.6L408.5 853.6L409.0 853.6L409.5 853.6L410.0 853.6L410.5 853.6L411.0 853.6L411.5 853.6L412.0 853.6L412.5 853.6L413.0 853.6L413.5 853.6L414.0 853.6L414.5 853.6L415.0 853.6L415.5 853.6L416.0 853.6L416.5 853.6L417.0 853.6L417.5 853.6L418.0 853.6L418.5 853.6L419.0 853.6L419.5 853.6L420.0 853.6L420.5 853.6L421.0 853.6L421.5 853.6L422.0 853.6L422.5 853.6L423.0 853.6L423.5 853.6L424.0 853.6L424.5 853.6L425.0 853.6L425.5 853.6L426.0 853.6L426.5 853.6L427.0 853.6L427.5 853.6L428.0 853.6L428.5 853.6L429.0 853.6L429.5 853.6L430.0 853.6L430.5 853.6L431.0 853.6L431.5 853.6L432.0 853.6L432.5 853.6L433.0 853.6L433.5 853.6L434.0 853.6L434.5 853.6L435.0 853.6L435.5 853.6L436.0 853.6L436.5 853.6L437.0 853.6L437.5 853.6L438.0 853.6L438.5 853.6L439.0 853.6L439.5 853.6L440.0 853.6L440.5 853.6L441.0 853.6L441.5 853.6L442.0 853.6L442.5 853.6L443.0 853.6L443.5 853.6L444.0 853.6L444.5 853.6L445.0 853.6L445.5 853.6L446.0 853.6L446.5 853.6L447.0 853.6L447.5 853.6L448.0 853.6L448.5 853.6L449.0 853.6L449.5 853.6L450.0 853.6L450.5 853.6L451.0 853.6L451.5 853.6L452.0 853.6L452.5 853.6L453.0 853.6L453.5 853.6L454.0 853.6L454.5 853.6L455.0 853.6L455.5 853.6L456.0 853.6L456.5 853.6L457.0 853.6L457.5 853.6L458.0 853.6L458.5 853.6L459.0 853.6L459.5 853.6L460.0 853.6L460.5 853.6L461.0 853.6L461.5 853.6L462.0 853.6L462.5 853.6L463.0 853.6L463.5 853.6L464.0 853.6L464.5 853.6L465.0 853.6L465.5 853.6L466.0 853.6L466.5 853.6L467.0 853.6L467.5 853.6L468.0 853.6L468.5 853.6L469.0 853.6L469.5 853.6L470.0 853.6L470.5 853.6L471.0 853.6L471.5 853.6L472.0 853.6L472.5 853.6L473.0 853.6L473.5 853.6L474.0 853.6L474.5 853.6L475.0 853.6L475.5 853.6L476.0 853.6L476.5 853.6L477.0 853.6L477.5 853.6L478.0 853.6L478.5 853.6L479.0 853.6L479.5 853.6L480.0 853.6L480.5 853.6L481.0 853.6L481.5 853.6L482.0 853.6L482.5 853.6L483.0 853.6L483.5 853.6L484.0 853.6L484.5 853.6L485.0 853.6L485.5 853.6L486.0 853.6L486.5 853.6L487.0 853.6L487.5 853.6L488.0 853.6L488.5 853.6L489.0 853.6L489.5 853.6L490.0 853.6L490.5 853.6L491.0 853.6L491.5 853.6L492.0 853.6L492.5 853.6L493.0 853.6L493.5 853.6L494.0 853.6L494.5 853.6L495.0 853.6L495.5 853.6L496.0 853.6L496.5 853.6L497.0 853.6L497.5 853.6L498.0 853.6L498.5 853.6L499.0 853.6L499.5 853.6L500.0 853.6L500.5 853.6L501.0 853.6L501.5 853.6L502.0 853.6L502.5 853.6L503.0 853.6L503.5 853.6L504.0 853.6L504.5 853.6L505.0 853.6L505.5 853.6L506.0 853.6L506.5 853.6L507.0 853.6L507.5 853.6L508.0 853.6L508.5 853.6L509.0 853.6L509.5 853.6L510.0 853.6L510.5 853.6L511.0 853.6L511.5 853.6L512.0 853.6L512.5 853.6L513.0 853.6L513.5 853.6L514.0 853.6L514.5 853.6L515.0 853.6L515.5 853.6L516.0 853.6L516.5 853.6L517.0 853.6L517.5 853.6L518.0 853.6L518.5 853.6L519.0 853.6L519.5 853.6L520.0 853.6L520.5 853.6L521.0 853.6L521.5 853.6L522.0 853.6L522.5 853.6L523.0 853.6L523.5 853.6L524.0 853.6L524.5 853.6L525.0 853.6L525.5 853.6L526.0 853.6L526.5 853.6L527.0 853.6L527.5 853.6L528.0 853.6L528.5 853.6L529.0 853.6L529.5 853.6L530.0 853.6L530.5 853.6L531.0 853.6L531.5 853.6L532.0 853.6L532.5 853.6L533.0 853.6L533.5 853.6L534.0 853.6L534.5 853.6L535.0 853.6L535.5 853.6L536.0 853.6L536.5 853.6L537.0 853.6L537.5 853.6L538.0 853.6L538.5 853.6L539.0 853.6L539.5 853.6L540.0 853.6L540.5 853.6L541.0 853.6L541.5 853.6L542.0 853.6L542.5 853.6L543.0 853.6L543.5 853.6L544.0 853.6L544.5 853.6L545.0 853.6L545.5 853.6L546.0 853.6L546.5 853.6L547.0 853.6L547.5 853.6L548.0 853.6L548.5 853.6L549.0 853.6L549.5 853.6L550.0 853.6L550.5 853.6L551.0 853.6L551.5 853.6L552.0 853.6L552.5 853.6L553.0 853.6L553.5 853.6L554.0 853.6L554.5 853.6L555.0 853.6L555.5 853.6L556.0 853.6L556.5 853.6L557.0 853.6L557.5 853.6L558.0 853.6L558.5 853.6L559.0 853.6L559.5 853.6L560.0 853.6L560.5 853.6L561.0 853.6L561.5 853.6L562.0 853.6L562.5 853.6L563.0 853.6L563.5 853.6L564.0 853.6L564.5 853.6L565.0 853.6L565.5 853.6L566.0 853.6L566.5 853.6L567.0 853.6L567.5 853.6L568.0 853.6L568.5 853.6L569.0 853.6L569.5 853.6L570.0 853.6L570.5 853.6L571.0 853.6L571.5 853.6L572.0 853.6L572.5 853.6L573.0 853.6L573.5 853.6L574.0 853.6L574.5 853.6L575.0 853.6L575.5 853.6L576.0 853.6L576.5 853.6L577.0 853.6L577.5 853.6L578.0 853.6L578.5 853.6L579.0 853.6L579.5 853.6L580.0 853.6L580.5 853.6L581.0 853.6L581.5 853.6L582.0 853.6L582.5 853.6L583.0 853.6L583.5 853.6L584.0 853.6L584.5 853.6L585.0 853.6L585.5 853.6L586.0 853.6L586.5 853.6L587.0 853.6L587.5 853.6L588.0 853.6L588.5 853.6L589.0 853.6L589.5 853.6L590.0 853.6L590.5 853.6L591.0 853.6L591.5 853.6L592.0 853.6L592.5 853.6L593.0 853.6L593.5 853.6L594.0 853.6L594.5 853.6L595.0 853.6L595.5 853.6L596.0 853.6L596.5 853.6L597.0 853.6L597.5 853.6L598.0 853.6L598.5 853.6L599.0 853.6L599.5 853.6L600.0 853.6L600.5 853.6L601.0 853.6L601.5 853.6L602.0 853.6L602.5 853.6L603.0 853.6L603.5 853.6L604.0 853.6L604.5 853.6L605.0 853.6L605.5 853.6L606.0 853.6L606.5 853.6L607.0 853.6L607.5 853.6L608.0 853.6L608.5 853.6L609.0 853.6" stroke="#00f" stroke-width="2.6"/>
<path d="M56.0 954.1L56.5 954.1L57.0 954.1L57.5 954.1L58.0 954.1L58.5 954.1L59.0 954.1L59.5 954.1L60.0 954.1L60.5 954.1L61.0 954.1L61.5 954.1L62.0 954.1L62.5 954.1L63.0 954.1L63.5 954.1L64.0 954.1L64.5 954.1L65.0 954.1L65.5 954.1L66.0 954.1L66.5 954.1L67.0 954.1L67.5 954.1L68.0 954.1L68.5 954.1L69.0 954.1L69.5 954.1L70.0 954.1L70.5 954.1L71.0 954.1L71.5 954.1L72.0 954.1L72.5 954.1L73.0 954.1L73.5 954.1L74.0 954.1L74.5 954.1L75.0 954.1L75.5 954.1L76.0 954.1L76.5 954.1L77.0 954.1L77.5 954.1L78.0 954.1L78.5 954.1L79.0 954.1L79.5 954.1L80.0 954.1L80.5 954.1L81.0 954.1L81.5 954.1L82.0 954.1L82.5 954.1L83.0 954.1L83.5 954.1L84.0 954.1L84.5 954.1L85.0 954.1L85.5 954.1L86.0 954.1L86.5 954.1L87.0 954.1L87.5 954.1L88.0 954.1L88.5 954.1L89.0 954.1L89.5 954.1L90.0 954.1L90.5 954.1L91.0 954.1L91.5 954.1L92.0 954.1L92.5 954.1L93.0 954.1L93.5 954.1L94.0 954.1L94.5 954.1L95.0 954.1L95.5 954.1L96.0 954.1L96.5 954.1L97.0 954.1L97.5 954.1L98.0 954.1L98.5 954.1L99.0 954.1L99.5 954.1L100.0 954.1L100.5 954.1L101.0 954.1L101.5 954.1L102.0 954.1L102.5 954.1L103.0 954.1L103.5 954.1L104.0 954.1L104.5 954.1L105.0 954.1L105.5 954.1L106.0 954.1L106.5 954.1L107.0 954.1L107.5 954.1L108.0 954.1L108.5 954.1L109.0 954.1L109.5 954.1L110.0 954.1L110.5 954.1L111.0 954.1L111.5 954.1L112.0 954.1L112.5 954.1L113.0 954.1L113.5 954.1L114.0 954.1L114.5 954.1L115.0 954.1L115.5 954.1L116.0 954.1L116.5 954.1L117.0 954.1L117.5 954.1L118.0 954.1L118.5 954.1L119.0 954.1L119.5 954.1L120.0 954.1L120.5 954.1L121.0 954.1L121.5 954.1L122.0 954.1L122.5 954.1L123.0 954.1L123.5 954.1L124.0 954.1L124.5 954.1L125.0 954.1L125.5 954.1L126.0 954.1L126.5 954.1L127.0 954.1L127.5 954.1L128.0 954.1L128.5 954.1L129.0 954.1L129.5 954.1L130.0 954.1L130.5 954.1L131.0 954.1L131.5 954.1L132.0 954.1L132.5 954.1L133.0 954.1L133.5 954.1L134.0 954.1L134.5 954.1L135.0 954.1L135.5 954.1L136.0 954.1L136.5 954.1L137.0 954.1L137.5 954.1L138.0 954.1L138.5 954.1L139.0 954.1L139.5 954.1L140.0 954.1L140.5 954.1L141.0 954.1L141.5 954.1L142.0 954.1L142.5 954.1L143.0 954.1L143.5 954.1L144.0 954.1L144.5 954.1L145.0 954.1L145.5 954.1L146.0 954.1L146.5 954.1L147.0 954.1L147.5 954.1L148.0 954.1L148.5 954.1L149.0 954.1L149.5 954.1L150.0 954.1L150.5 954.1L151.0 954.1L151.5 954.1L152.0 954.1L152.5 954.1L153.0 954.1L153.5 954.1L154.0 954.1L154.5 954.1L155.0 954.1L155.5 954.1L156.0 954.1L156.5 954.1L157.0 954.1L157.5 954.1L158.0 954.1L158.5 954.1L159.0 954.1L159.5 954.1L160.0 954.1L160.5 954.1L161.0 954.1L161.5 954.1L162.0 954.1L162.5 954.1L163.0 954.1L163.5 954.1L164.0 954.1L164.5 954.1L165.0 954.0L165.5 954.0L166.0 954.0L166.5 954.0L167.0 953.9L167.5 953.9L168.0 953.8L168.5 953.7L169.0 953.6L169.5 953.5L170.0 953.3L170.5 953.1L171.0 952.9L171.5 952.7L172.0 952.4L172.5 952.0L173.0 951.6L173.5 951.1L174.0 950.6L174.5 950.0L175.0 949.4L175.5 948.6L176.0 947.9L176.5 947.0L177.0 946.2L177.5 945.3L178.0 944.3L178.5 943.3L179.0 942.4L179.5 941.4L180.0 940.5L180.5 939.6L181.0 938.8L181.5 938.1L182.0 937.4L182.5 936.9L183.0 936.5L183.5 936.2L184.0 936.0L184.5 936.0L185.0 936.2L185.5 936.4L186.0 936.8L186.5 937.3L187.0 938.0L187.5 938.7L188.0 939.5L188.5 940.4L189.0 941.3L189.5 942.2L190.0 943.2L190.5 944.1L191.0 945.1L191.5 946.0L192.0 946.9L192.5 947.7L193.0 948.5L193.5 949.2L194.0 949.9L194.5 950.5L195.0 951.0L195.5 951.5L196.0 951.9L196.5 952.3L197.0 952.6L197.5 952.9L198.0 953.1L198.5 953.3L199.0 953.5L199.5 953.6L200.0 953.7L200.5 953.8L201.0 953.8L201.5 953.9L202.0 953.9L202.5 954.0L203.0 954.0L203.5 954.0L204.0 954.0L204.5 954.0L205.0 954.0L205.5 954.0L206.0 954.0L206.5 954.0L207.0 954.0L207.5 954.0L208.0 953.9L208.5 953.9L209.0 953.9L209.5 953.8L210.0 953.8L210.5 953.8L211.0 953.7L211.5 953.7L212.0 953.6L212.5 953.5L213.0 953.4L213.5 953.3L214.0 953.2L214.5 953.1L215.0 953.0L215.5 952.9L216.0 952.7L216.5 952.6L217.0 952.4L217.5 952.2L218.0 952.0L218.5 951.8L219.0 951.6L219.5 951.4L220.0 951.1L220.5 950.9L221.0 950.6L221.5 950.4L222.0 950.1L222.5 949.8L223.0 949.5L223.5 949.3L224.0 949.0L224.5 948.7L225.0 948.4L225.5 948.1L226.0 947.9L226.5 947.6L227.0 947.4L227.5 947.1L228.0 946.9L228.5 946.7L229.0 946.5L229.5 946.3L230.0 946.1L230.5 946.0L231.0 945.8L231.5 945.7L232.0 945.5L232.5 945.4L233.0 945.3L233.5 945.1L234.0 945.0L234.5 944.8L235.0 944.6L235.5 944.4L236.0 944.2L236.5 944.0L237.0 943.8L237.5 943.6L238.0 943.3L238.5 943.1L239.0 942.9L239.5 942.6L240.0 942.4L240.5 942.3L241.0 942.2L241.5 942.1L242.0 942.1L242.5 942.1L243.0 942.2L243.5 942.4L244.0 942.6L244.5 942.9L245.0 943.2L245.5 943.6L246.0 943.9L246.5 944.3L247.0 944.7L247.5 945.1L248.0 945.4L248.5 945.7L249.0 945.8L249.5 945.8L250.0 945.7L250.5 945.5L251.0 945.0L251.5 944.4L252.0 943.5L252.5 942.3L253.0 940.9L253.5 939.2L254.0 937.3L254.5 935.0L255.0 932.4L255.5 929.5L256.0 926.3L256.5 922.9L257.0 919.1L257.5 915.1L258.0 910.9L258.5 906.5L259.0 902.0L259.5 897.4L260.0 892.8L260.5 888.2L261.0 883.8L261.5 879.5L262.0 875.5L262.5 871.8L263.0 868.4L263.5 865.5L264.0 863.1L264.5 861.3L265.0 860.0L265.5 859.3L266.0 859.2L266.5 860.0L267.0 861.6L267.5 864.0L268.0 867.2L268.5 871.0L269.0 875.4L269.5 880.3L270.0 885.5L270.5 890.9L271.0 896.5L271.5 902.0L272.0 907.4L272.5 912.7L273.0 917.7L273.5 922.4L274.0 926.7L274.5 930.7L275.0 934.3L275.5 937.5L276.0 940.3L276.5 942.7L277.0 944.8L277.5 946.6L278.0 948.1L278.5 949.3L279.0 950.3L279.5 951.2L280.0 951.8L280.5 952.4L281.0 952.8L281.5 953.1L282.0 953.4L282.5 953.6L283.0 953.7L283.5 953.8L284.0 953.9L284.5 954.0L285.0 954.0L285.5 954.0L286.0 954.0L286.5 954.1L287.0 954.1L287.5 954.1L288.0 954.1L288.5 954.1L289.0 954.1L289.5 954.1L290.0 954.1L290.5 954.1L291.0 954.1L291.5 954.1L292.0 954.1L292.5 954.1L293.0 954.1L293.5 954.1L294.0 954.1L294.5 954.1L295.0 954.1L295.5 954.1L296.0 954.1L296.5 954.1L297.0 954.1L297.5 954.1L298.0 954.1L298.5 954.1L299.0 954.1L299.5 954.1L300.0 954.1L300.5 954.1L301.0 954.1L301.5 954.1L302.0 954.1L302.5 954.1L303.0 954.1L303.5 954.1L304.0 954.1L304.5 954.1L305.0 954.1L305.5 954.1L306.0 954.1L306.5 954.1L307.0 954.1L307.5 954.1L308.0 954.1L308.5 954.1L309.0 954.1L309.5 954.1L310.0 954.1L310.5 954.1L311.0 954.1L311.5 954.1L312.0 954.1L312.5 954.1L313.0 954.1L313.5 954.1L314.0 954.1L314.5 954.1L315.0 954.1L315.5 954.1L316.0 954.1L316.5 954.1L317.0 954.1L317.5 954.1L318.0 954.1L318.5 954.1L319.0 954.1L319.5 954.1L320.0 954.1L320.5 954.1L321.0 954.1L321.5 954.1L322.0 954.1L322.5 954.1L323.0 954.1L323.5 954.1L324.0 954.1L324.5 954.1L325.0 954.1L325.5 954.1L326.0 954.1L326.5 954.1L327.0 954.1L327.5 954.1L328.0 954.1L328.5 954.1L329.0 954.1L329.5 954.1L330.0 954.1L330.5 954.1L331.0 954.1L331.5 954.1L332.0 954.1L332.5 954.1L333.0 954.1L333.5 954.1L334.0 954.1L334.5 954.1L335.0 954.1L335.5 954.1L336.0 954.1L336.5 954.1L337.0 954.1L337.5 954.1L338.0 954.1L338.5 954.1L339.0 954.1L339.5 954.1L340.0 954.1L340.5 954.1L341.0 954.1L341.5 954.1L342.0 954.1L342.5 954.1L343.0 954.1L343.5 954.1L344.0 954.1L344.5 954.1L345.0 954.1L345.5 954.1L346.0 954.1L346.5 954.1L347.0 954.1L347.5 954.1L348.0 954.1L348.5 954.1L349.0 954.1L349.5 954.1L350.0 954.1L350.5 954.1L351.0 954.1L351.5 954.1L352.0 954.1L352.5 954.1L353.0 954.1L353.5 954.1L354.0 954.1L354.5 954.1L355.0 954.1L355.5 954.1L356.0 954.1L356.5 954.1L357.0 954.1L357.5 954.1L358.0 954.1L358.5 954.1L359.0 954.1L359.5 954.1L360.0 954.1L360.5 954.1L361.0 954.1L361.5 954.1L362.0 954.1L362.5 954.1L363.0 954.1L363.5 954.1L364.0 954.1L364.5 954.1L365.0 954.1L365.5 954.1L366.0 954.1L366.5 954.1L367.0 954.1L367.5 954.1L368.0 954.1L368.5 954.1L369.0 954.1L369.5 954.1L370.0 954.1L370.5 954.1L371.0 954.1L371.5 954.1L372.0 954.1L372.5 954.1L373.0 954.1L373.5 954.1L374.0 954.1L374.5 954.1L375.0 954.1L375.5 954.1L376.0 954.1L376.5 954.1L377.0 954.1L377.5 954.1L378.0 954.1L378.5 954.1L379.0 954.1L379.5 954.1L380.0 954.1L380.5 954.1L381.0 954.1L381.5 954.1L382.0 954.1L382.5 954.1L383.0 954.1L383.5 954.1L384.0 954.1L384.5 954.1L385.0 954.1L385.5 954.1L386.0 954.1L386.5 954.1L387.0 954.1L387.5 954.1L388.0 954.1L388.5 954.1L389.0 954.1L389.5 954.1L390.0 954.1L390.5 954.1L391.0 954.1L391.5 954.1L392.0 954.1L392.5 954.1L393.0 954.1L393.5 954.1L394.0 954.1L394.5 954.1L395.0 954.1L395.5 954.1L396.0 954.1L396.5 954.1L397.0 954.1L397.5 954.1L398.0 954.1L398.5 954.1L399.0 954.1L399.5 954.1L400.0 954.1L400.5 954.1L401.0 954.1L401.5 954.1L402.0 954.1L402.5 954.1L403.0 954.1L403.5 954.1L404.0 954.1L404.5 954.1L405.0 954.1L405.5 954.1L406.0 954.1L406.5 954.1L407.0 954.1L407.5 954.1L408.0 954.1L408.5 954.1L409.0 954.1L409.5 954.1L410.0 954.1L410.5 954.1L411.0 954.1L411.5 954.1L412.0 954.1L412.5 954.1L413.0 954.1L413.5 954.1L414.0 954.1L414.5 954.1L415.0 954.1L415.5 954.1L416.0 954.1L416.5 954.1L417.0 954.1L417.5 954.1L418.0 954.1L418.5 954.1L419.0 954.1L419.5 954.1L420.0 954.1L420.5 954.1L421.0 954.1L421.5 954.1L422.0 954.1L422.5 954.1L423.0 954.1L423.5 954.1L424.0 954.1L424.5 954.1L425.0 954.1L425.5 954.1L426.0 954.1L426.5 954.1L427.0 954.1L427.5 954.1L428.0 954.1L428.5 954.1L429.0 954.1L429.5 954.1L430.0 954.1L430.5 954.1L431.0 954.1L431.5 954.1L432.0 954.1L432.5 954.1L433.0 954.1L433.5 954.1L434.0 954.1L434.5 954.1L435.0 954.1L435.5 954.1L436.0 954.1L436.5 954.1L437.0 954.1L437.5 954.1L438.0 954.1L438.5 954.1L439.0 954.1L439.5 954.1L440.0 954.1L440.5 954.1L441.0 954.1L441.5 954.1L442.0 954.1L442.5 954.1L443.0 954.1L443.5 954.1L444.0 954.1L444.5 954.1L445.0 954.1L445.5 954.1L446.0 954.1L446.5 954.1L447.0 954.1L447.5 954.1L448.0 954.1L448.5 954.1L449.0 954.1L449.5 954.1L450.0 954.1L450.5 954.1L451.0 954.1L451.5 954.1L452.0 954.1L452.5 954.1L453.0 954.1L453.5 954.1L454.0 954.1L454.5 954.1L455.0 954.1L455.5 954.1L456.0 954.1L456.5 954.1L457.0 954.1L457.5 954.1L458.0 954.1L458.5 954.1L459.0 954.1L459.5 954.1L460.0 954.1L460.5 954.1L461.0 954.1L461.5 954.1L462.0 954.1L462.5 954.1L463.0 954.1L463.5 954.1L464.0 954.1L464.5 954.1L465.0 954.1L465.5 954.1L466.0 954.1L466.5 954.1L467.0 954.1L467.5 954.1L468.0 954.1L468.5 954.1L469.0 954.1L469.5 954.1L470.0 954.1L470.5 954.1L471.0 954.1L471.5 954.1L472.0 954.1L472.5 954.1L473.0 954.1L473.5 954.1L474.0 954.1L474.5 954.1L475.0 954.1L475.5 954.1L476.0 954.1L476.5 954.1L477.0 954.1L477.5 954.1L478.0 954.1L478.5 954.1L479.0 954.1L479.5 954.1L480.0 954.1L480.5 954.1L481.0 954.1L481.5 954.1L482.0 954.1L482.5 954.1L483.0 954.1L483.5 954.1L484.0 954.1L484.5 954.1L485.0 954.1L485.5 954.1L486.0 954.1L486.5 954.1L487.0 954.1L487.5 954.1L488.0 954.1L488.5 954.1L489.0 954.1L489.5 954.1L490.0 954.1L490.5 954.1L491.0 954.1L491.5 954.1L492.0 954.1L492.5 954.1L493.0 954.1L493.5 954.1L494.0 954.1L494.5 954.1L495.0 954.1L495.5 954.1L496.0 954.1L496.5 954.1L497.0 954.1L497.5 954.1L498.0 954.1L498.5 954.1L499.0 954.1L499.5 954.1L500.0 954.1L500.5 954.1L501.0 954.1L501.5 954.1L502.0 954.1L502.5 954.1L503.0 954.1L503.5 954.1L504.0 954.1L504.5 954.1L505.0 954.1L505.5 954.1L506.0 954.1L506.5 954.1L507.0 954.1L507.5 954.1L508.0 954.1L508.5 954.1L509.0 954.1L509.5 954.1L510.0 954.1L510.5 954.1L511.0 954.1L511.5 954.1L512.0 954.1L512.5 954.1L513.0 954.1L513.5 954.1L514.0 954.1L514.5 954.1L515.0 954.1L515.5 954.1L516.0 954.1L516.5 954.1L517.0 954.1L517.5 954.1L518.0 954.1L518.5 954.1L519.0 954.1L519.5 954.1L520.0 954.1L520.5 954.1L521.0 954.1L521.5 954.1L522.0 954.1L522.5 954.1L523.0 954.1L523.5 954.1L524.0 954.1L524.5 954.1L525.0 954.1L525.5 954.1L526.0 954.1L526.5 954.1L527.0 954.1L527.5 954.1L528.0 954.1L528.5 954.1L529.0 954.1L529.5 954.1L530.0 954.1L530.5 954.1L531.0 954.1L531.5 954.1L532.0 954.1L532.5 954.1L533.0 954.1L533.5 954.1L534.0 954.1L534.5 954.1L535.0 954.1L535.5 954.1L536.0 954.1L536.5 954.1L537.0 954.1L537.5 954.1L538.0 954.1L538.5 954.1L539.0 954.1L539.5 954.1L540.0 954.1L540.5 954.1L541.0 954.1L541.5 954.1L542.0 954.1L542.5 954.1L543.0 954.1L543.5 954.1L544.0 954.1L544.5 954.1L545.0 954.1L545.5 954.1L546.0 954.1L546.5 954.1L547.0 954.1L547.5 954.1L548.0 954.1L548.5 954.1L549.0 954.1L549.5 954.1L550.0 954.1L550.5 954.1L551.0 954.1L551.5 954.1L552.0 954.1L552.5 954.1L553.0 954.1L553.5 954.1L554.0 954.1L554.5 954.1L555.0 954.1L555.5 954.1L556.0 954.1L556.5 954.1L557.0 954.1L557.5 954.1L558.0 954.1L558.5 954.1L559.0 954.1L559.5 954.1L560.0 954.1L560.5 954.1L561.0 954.1L561.5 954.1L562.0 954.1L562.5 954.1L563.0 954.1L563.5 954.1L564.0 954.1L564.5 954.1L565.0 954.1L565.5 954.1L566.0 954.1L566.5 954.1L567.0 954.1L567.5 954.1L568.0 954.1L568.5 954.1L569.0 954.1L569.5 954.1L570.0 954.1L570.5 954.1L571.0 954.1L571.5 954.1L572.0 954.1L572.5 954.1L573.0 954.1L573.5 954.1L574.0 954.1L574.5 954.1L575.0 954.1L575.5 954.1L576.0 954.1L576.5 954.1L577.0 954.1L577.5 954.1L578.0 954.1L578.5 954.1L579.0 954.1L579.5 954.1L580.0 954.1L580.5 954.1L581.0 954.1L581.5 954.1L582.0 954.1L582.5 954.1L583.0 954.1L583.5 954.1L584.0 954.1L584.5 954.1L585.0 954.1L585.5 954.1L586.0 954.1L586.5 954.1L587.0 954.1L587.5 954.1L588.0 954.1L588.5 954.1L589.0 954.1L589.5 954.1L590.0 954.1L590.5 954.1L591.0 954.1L591.5 954.1L592.0 954.1L592.5 954.1L593.0 954.1L593.5 954.1L594.0 954.1L594.5 954.1L595.0 954.1L595.5 954.1L596.0 954.1L596.5 954.1L597.0 954.1L597.5 954.1L598.0 954.1L598.5 954.1L599.0 954.1L599.5 954.1L600.0 954.1L600.5 954.1L601.0 954.1L601.5 954.1L602.0 954.1L602.5 954.1L603.0 954.1L603.5 954.1L604.0 954.1L604.5 954.1L605.0 954.1L605.5 954.1L606.0 954.1L606.5 954.1L607.0 954.1L607.5 954.1L608.0 954.1L608.5 954.1L609.0 954.1" stroke="#00f" stroke-width="2.6"/>
</g>
<g stroke="#000" stroke-width="3.5" fill="none">
<rect x="54.8" y="23.05" width="555.3" height="935.55"/>
<line x1="167" y1="958" x2="167" y2="968.5"/>
<line x1="317" y1="958" x2="317" y2="968.5"/>
<line x1="467" y1="958" x2="467" y2="968.5"/>
<line x1="92" y1="958" x2="92" y2="964.4"/>
<line x1="242" y1="958" x2="242" y2="964.4"/>
<line x1="392" y1="958" x2="392" y2="964.4"/>
<line x1="542" y1="958" x2="542" y2="964.4"/>
</g>
<g font-size="33.5" fill="#000">
<path transform="translate(136.32 1006.10) scale(34.200 -34.200)" d="M0.271 0L0.362 0L0.362 0.703L0.290 0.703C0.268 0.628 0.212 0.582 0.101 0.574L0.101 0.506L0.271 0.506Z"/><text x="155.34" y="1006.10" font-size="34.2" xml:space="preserve">.54</text>
<path transform="translate(286.82 1006.10) scale(34.200 -34.200)" d="M0.271 0L0.362 0L0.362 0.703L0.290 0.703C0.268 0.628 0.212 0.582 0.101 0.574L0.101 0.506L0.271 0.506Z"/><text x="305.84" y="1006.10" font-size="34.2" xml:space="preserve">.56</text>
<path transform="translate(436.92 1006.10) scale(34.200 -34.200)" d="M0.271 0L0.362 0L0.362 0.703L0.290 0.703C0.268 0.628 0.212 0.582 0.101 0.574L0.101 0.506L0.271 0.506Z"/><text x="455.94" y="1006.10" font-size="34.2" xml:space="preserve">.58</text>
<text x="353.9" y="1055.5" text-anchor="middle">Energy (eV)</text>
<path transform="translate(507.36 122.80) scale(34.300 -34.300)" d="M0.271 0L0.362 0L0.362 0.703L0.290 0.703C0.268 0.628 0.212 0.582 0.101 0.574L0.101 0.506L0.271 0.506Z"/><text x="526.44" y="122.80" font-size="34.3" xml:space="preserve">50 K</text>
<path transform="translate(507.36 201.70) scale(34.300 -34.300)" d="M0.271 0L0.362 0L0.362 0.703L0.290 0.703C0.268 0.628 0.212 0.582 0.101 0.574L0.101 0.506L0.271 0.506Z"/><text x="526.44" y="201.70" font-size="34.3" xml:space="preserve">00 K</text>
<text x="526.44" y="287.80" font-size="34.3" xml:space="preserve">86 K</text>
<text x="526.44" y="371.70" font-size="34.3">7</text><path transform="translate(545.52 371.70) scale(34.300 -34.300)" d="M0.271 0L0.362 0L0.362 0.703L0.290 0.703C0.268 0.628 0.212 0.582 0.101 0.574L0.101 0.506L0.271 0.506Z"/><text x="564.59" y="371.70" font-size="34.3" xml:space="preserve"> K</text>
<text x="526.44" y="466.90" font-size="34.3" xml:space="preserve">55 K</text>
<text x="526.44" y="567.20" font-size="34.3" xml:space="preserve">39 K</text>
<text x="526.44" y="645.10" font-size="34.3" xml:space="preserve">30 K</text>
<path transform="translate(526.44 744.40) scale(34.300 -34.300)" d="M0.271 0L0.362 0L0.362 0.703L0.290 0.703C0.268 0.628 0.212 0.582 0.101 0.574L0.101 0.506L0.271 0.506Z"/><text x="545.52" y="744.40" font-size="34.3" xml:space="preserve">9 K</text>
<text x="516.91" y="837.70" font-size="34.3" xml:space="preserve">8.5 K</text>
<text x="516.91" y="942.40" font-size="34.3" xml:space="preserve">3.5 K</text>
<text x="138" y="916.8">LO<tspan font-size="23.5" dy="8.2">2</tspan></text>
<text x="196.5" y="930.2">LO</text>
<path transform="translate(241.19 938.40) scale(23.500 -23.500)" d="M0.271 0L0.362 0L0.362 0.703L0.290 0.703C0.268 0.628 0.212 0.582 0.101 0.574L0.101 0.506L0.271 0.506Z"/>
</g>
<text transform="translate(27.3 494.5) rotate(-90)" text-anchor="middle" font-size="37.8">Intensity</text>
<text x="62.3" y="59.8" font-size="43" font-weight="bold">a</text>
<path d="M774.8 393.5L776.6 393.4L778.3 393.4L780.1 393.4L781.9 393.4L783.6 393.4L785.4 393.4L787.1 393.4L788.9 393.4L790.7 393.5L792.4 393.5L794.2 393.5L796.0 393.6L797.7 393.6L799.5 393.7L801.3 393.7L803.0 393.8L804.8 393.8L806.5 393.9L808.3 393.9L810.1 394.0L811.8 394.0L813.6 394.1L815.4 394.1L817.1 394.2L818.9 394.2L820.6 394.2L822.4 394.3L824.2 394.3L825.9 394.3L827.7 394.3L829.5 394.2L831.2 394.2L833.0 394.2L834.8 394.1L836.5 394.1L838.3 394.0L840.0 393.9L841.8 393.8L843.6 393.7L845.3 393.6L847.1 393.4L848.9 393.2L850.6 393.1L852.4 392.9L854.2 392.7L855.9 392.4L857.7 392.2L859.4 391.9L861.2 391.6L863.0 391.3L864.7 391.0L866.5 390.6L868.3 390.2L870.0 389.9L871.8 389.4L873.6 389.0L875.3 388.5L877.1 388.0L878.8 387.5L880.6 387.0L882.4 386.4L884.1 385.9L885.9 385.3L887.7 384.6L889.4 384.0L891.2 383.3L893.0 382.6L894.7 381.9L896.5 381.2L898.2 380.4L900.0 379.7L901.8 378.9L903.5 378.1L905.3 377.2L907.1 376.4L908.8 375.5L910.6 374.6L912.4 373.7L914.1 372.8L915.9 371.9L917.6 370.9L919.4 370.0L921.2 369.0L922.9 368.0L924.7 367.0L926.5 366.0L928.2 364.9L930.0 363.9L931.8 362.8L933.5 361.8L935.3 360.7L937.0 359.6L938.8 358.5L940.6 357.4L942.3 356.2L944.1 355.1L945.9 354.0L947.6 352.8L949.4 351.6L951.2 350.5L952.9 349.3L954.7 348.1L956.4 346.9L958.2 345.7L960.0 344.5L961.7 343.3L963.5 342.0L965.3 340.8L967.0 339.6L968.8 338.3L970.6 337.1L972.3 335.9L974.1 334.6L975.8 333.4L977.6 332.1L979.4 330.8L981.1 329.6L982.9 328.3L984.7 327.0L986.4 325.7L988.2 324.5L989.9 323.2L991.7 321.9L993.5 320.6L995.2 319.3L997.0 318.0L998.8 316.7L1000.5 315.4L1002.3 314.0L1004.1 312.7L1005.8 311.4L1007.6 310.1L1009.3 308.7L1011.1 307.4L1012.9 306.1L1014.6 304.7L1016.4 303.4L1018.2 302.0L1019.9 300.7L1021.7 299.3L1023.5 297.9L1025.2 296.6L1027.0 295.2L1028.7 293.8L1030.5 292.5L1032.3 291.1L1034.0 289.7L1035.8 288.3L1037.6 286.9L1039.3 285.5L1041.1 284.1L1042.9 282.7L1044.6 281.3L1046.4 279.9L1048.1 278.5L1049.9 277.0L1051.7 275.6L1053.4 274.2L1055.2 272.8L1057.0 271.3L1058.7 269.9L1060.5 268.5L1062.3 267.0L1064.0 265.6L1065.8 264.1L1067.5 262.7L1069.3 261.2L1071.1 259.8L1072.8 258.3L1074.6 256.8L1076.4 255.4L1078.1 253.9L1079.9 252.4L1081.7 251.0L1083.4 249.5L1085.2 248.0L1086.9 246.5L1088.7 245.0L1090.5 243.5L1092.2 242.0L1094.0 240.5L1095.8 239.0L1097.5 237.5L1099.3 236.0L1101.1 234.5L1102.8 233.0L1104.6 231.5L1106.3 230.0L1108.1 228.4L1109.9 226.9L1111.6 225.4L1113.4 223.9L1115.2 222.3L1116.9 220.8L1118.7 219.3L1120.5 217.7L1122.2 216.2L1124.0 214.6L1125.7 213.1L1127.5 211.5L1129.3 210.0L1131.0 208.4L1132.8 206.9L1134.6 205.3L1136.3 203.8L1138.1 202.2L1139.8 200.6L1141.6 199.0L1143.4 197.5L1145.1 195.9L1146.9 194.3L1148.7 192.7L1150.4 191.2L1152.2 189.6L1154.0 188.0L1155.7 186.4L1157.5 184.8L1159.2 183.2L1161.0 181.6L1162.8 180.0L1164.5 178.4L1166.3 176.8L1168.1 175.2L1169.8 173.6L1171.6 172.0L1173.4 170.4L1175.1 168.8L1176.9 167.2L1178.6 165.6L1180.4 164.0L1182.2 162.3L1183.9 160.7L1185.7 159.1L1187.5 157.5L1189.2 155.8L1191.0 154.2L1192.8 152.6L1194.5 151.0L1196.3 149.3L1198.0 147.7L1199.8 146.1L1201.6 144.4L1203.3 142.8L1205.1 141.1L1206.9 139.5L1208.6 137.8L1210.4 136.2L1212.2 134.6L1213.9 132.9L1215.7 131.3L1217.4 129.6L1219.2 127.9L1221.0 126.3L1222.7 124.6L1224.5 123.0L1226.3 121.3L1228.0 119.7L1229.8 118.0L1231.6 116.3L1233.3 114.7L1235.1 113.0L1236.8 111.3L1238.6 109.7L1240.4 108.0L1242.1 106.3L1243.9 104.7L1245.7 103.0L1247.4 101.3L1249.2 99.6L1251.0 98.0L1252.7 96.3L1254.5 94.6L1256.2 92.9L1258.0 91.2L1259.8 89.6L1261.5 87.9L1263.3 86.2L1265.1 84.5L1266.8 82.8L1268.6 81.1L1270.4 79.5L1272.1 77.8L1273.9 76.1L1275.6 74.4L1277.4 72.7L1279.2 71.0L1280.9 69.3L1282.7 67.6L1284.5 65.9L1286.2 64.2L1288.0 62.6L1289.8 60.9L1291.5 59.2L1293.3 57.5L1295.0 55.8L1296.8 54.1L1298.6 52.4L1300.3 50.7L1302.1 49.0" fill="none" stroke="#000" stroke-width="3.4"/>
<g stroke="#000" stroke-width="3.5" fill="none">
<rect x="762.2" y="1.8" width="575.8" height="420.8"/>
<line x1="762.2" y1="422" x2="762.2" y2="432.6"/>
<line x1="942.165" y1="422" x2="942.165" y2="432.6"/>
<line x1="1122.13" y1="422" x2="1122.13" y2="432.6"/>
<line x1="1302.1" y1="422" x2="1302.1" y2="432.6"/>
<line x1="852.183" y1="422" x2="852.183" y2="428.5"/>
<line x1="1032.15" y1="422" x2="1032.15" y2="428.5"/>
<line x1="1212.11" y1="422" x2="1212.11" y2="428.5"/>
<line x1="763" y1="422.6" x2="752.2" y2="422.6"/>
<line x1="763" y1="257.6" x2="752.2" y2="257.6"/>
<line x1="763" y1="92.6" x2="752.2" y2="92.6"/>
<line x1="763" y1="340.1" x2="756.2" y2="340.1"/>
<line x1="763" y1="175.1" x2="756.2" y2="175.1"/>
<line x1="763" y1="10.1" x2="756.2" y2="10.1"/>
</g>
<g font-size="33.5">
<text x="752.28" y="468.30" font-size="33.5" xml:space="preserve">0</text>
<text x="924.53" y="468.30" font-size="33.5" xml:space="preserve">50</text>
<path transform="translate(1095.18 468.30) scale(33.500 -33.500)" d="M0.271 0L0.362 0L0.362 0.703L0.290 0.703C0.268 0.628 0.212 0.582 0.101 0.574L0.101 0.506L0.271 0.506Z"/><text x="1113.81" y="468.30" font-size="33.5" xml:space="preserve">00</text>
<path transform="translate(1275.15 468.30) scale(33.500 -33.500)" d="M0.271 0L0.362 0L0.362 0.703L0.290 0.703C0.268 0.628 0.212 0.582 0.101 0.574L0.101 0.506L0.271 0.506Z"/><text x="1293.78" y="468.30" font-size="33.5" xml:space="preserve">50</text>
<text x="719.87" y="434.60" font-size="33.5" xml:space="preserve">0</text>
<path transform="translate(701.23 269.60) scale(33.500 -33.500)" d="M0.271 0L0.362 0L0.362 0.703L0.290 0.703C0.268 0.628 0.212 0.582 0.101 0.574L0.101 0.506L0.271 0.506Z"/><text x="719.87" y="269.60" font-size="33.5" xml:space="preserve">0</text>
<text x="701.23" y="104.60" font-size="33.5" xml:space="preserve">20</text>
<text x="1050.1" y="514.2" text-anchor="middle">Temperature (K)</text>
</g>
<text transform="translate(672.2 212.2) rotate(-90)" text-anchor="middle" font-size="33.5">FWHM (meV)</text>
<text x="776.6" y="47" font-size="41" font-weight="bold">b</text>
<g stroke="#f00" stroke-width="3.2"><line x1="1122.1" y1="201.9" x2="1122.1" y2="234.8"/><line x1="1113.8" y1="201.9" x2="1130.4" y2="201.9"/><line x1="1113.8" y1="234.8" x2="1130.4" y2="234.8"/></g>
<g stroke="#f00" stroke-width="3.2"><line x1="1302.1" y1="16.9" x2="1302.1" y2="82.7"/><line x1="1293.8" y1="16.9" x2="1310.4" y2="16.9"/><line x1="1293.8" y1="82.7" x2="1310.4" y2="82.7"/></g>
<circle cx="774.6" cy="393.0" r="12" fill="#f00"/><circle cx="771.3" cy="389.9" r="5.8" fill="url(#hr)"/>
<circle cx="792.9" cy="393.4" r="12" fill="#f00"/><circle cx="789.6" cy="390.3" r="5.8" fill="url(#hr)"/>
<circle cx="811.8" cy="393.7" r="12" fill="#f00"/><circle cx="808.5" cy="390.6" r="5.8" fill="url(#hr)"/>
<circle cx="830.5" cy="396.7" r="12" fill="#f00"/><circle cx="827.2" cy="393.6" r="5.8" fill="url(#hr)"/>
<circle cx="848.5" cy="395.6" r="12" fill="#f00"/><circle cx="845.2" cy="392.5" r="5.8" fill="url(#hr)"/>
<circle cx="870.4" cy="395.5" r="12" fill="#f00"/><circle cx="867.1" cy="392.4" r="5.8" fill="url(#hr)"/>
<circle cx="902.5" cy="384.9" r="12" fill="#f00"/><circle cx="899.2" cy="381.8" r="5.8" fill="url(#hr)"/>
<circle cx="942.2" cy="363.0" r="12" fill="#f00"/><circle cx="938.9" cy="359.9" r="5.8" fill="url(#hr)"/>
<circle cx="960.2" cy="351.2" r="12" fill="#f00"/><circle cx="956.9" cy="348.1" r="5.8" fill="url(#hr)"/>
<circle cx="978.0" cy="330.2" r="12" fill="#f00"/><circle cx="974.7" cy="327.1" r="5.8" fill="url(#hr)"/>
<circle cx="1017.7" cy="304.9" r="12" fill="#f00"/><circle cx="1014.4" cy="301.8" r="5.8" fill="url(#hr)"/>
<circle cx="1071.9" cy="274.0" r="12" fill="#f00"/><circle cx="1068.6" cy="270.9" r="5.8" fill="url(#hr)"/>
<circle cx="1122.1" cy="217.5" r="12" fill="#f00"/><circle cx="1118.8" cy="214.4" r="5.8" fill="url(#hr)"/>
<circle cx="1302.0" cy="49.2" r="12" fill="#f00"/><circle cx="1298.7" cy="46.1" r="5.8" fill="url(#hr)"/>
<g stroke="#000" stroke-width="3.5" fill="none">
<path d="M759.6 971.6 L759.6 550.2 L1347.4 550.2 M759.6 971.6 L1347.1 971.6 M1341.3 550.2 L1341.3 971.6"/>
<line x1="759.6" y1="971" x2="759.6" y2="981.7"/>
<line x1="955" y1="971" x2="955" y2="981.7"/>
<line x1="1150.2" y1="971" x2="1150.2" y2="981.7"/>
<line x1="1341.3" y1="971" x2="1341.3" y2="981.7"/>
<line x1="856.9" y1="971" x2="856.9" y2="977.4"/>
<line x1="1052.5" y1="971" x2="1052.5" y2="977.4"/>
<line x1="1247.5" y1="971" x2="1247.5" y2="977.4"/>
<line x1="760" y1="971.6" x2="749.3" y2="971.6"/>
<line x1="760" y1="784.55" x2="749.3" y2="784.55"/>
<line x1="760" y1="597.5" x2="749.3" y2="597.5"/>
<line x1="760" y1="878.075" x2="753.5" y2="878.075"/>
<line x1="760" y1="691.025" x2="753.5" y2="691.025"/>
</g>
<g font-size="33.5">
<text x="750.38" y="1016.90" font-size="33.5" xml:space="preserve">0</text>
<text x="935.17" y="1016.90" font-size="33.5" xml:space="preserve">20</text>
<text x="1129.27" y="1016.90" font-size="33.5" xml:space="preserve">40</text>
<text x="1323.37" y="1016.90" font-size="33.5" xml:space="preserve">60</text>
<text x="719.87" y="982.10" font-size="33.5" xml:space="preserve">0</text>
<text x="719.87" y="795.05" font-size="33.5" xml:space="preserve">6</text>
<path transform="translate(701.23 608.00) scale(33.500 -33.500)" d="M0.271 0L0.362 0L0.362 0.703L0.290 0.703C0.268 0.628 0.212 0.582 0.101 0.574L0.101 0.506L0.271 0.506Z"/><text x="719.87" y="608.00" font-size="33.5" xml:space="preserve">2</text>
<text x="1052.3" y="1064.4" text-anchor="middle">Temperature (K)</text>
<text x="1264.5" y="600.5">LO<tspan font-size="23.5" dy="8.2">2</tspan></text>
<text x="1264.5" y="831.1">LO</text>
<path transform="translate(1309.19 839.30) scale(23.500 -23.500)" d="M0.271 0L0.362 0L0.362 0.703L0.290 0.703C0.268 0.628 0.212 0.582 0.101 0.574L0.101 0.506L0.271 0.506Z"/>
</g>
<text transform="translate(672.5 760.5) rotate(-90)" text-anchor="middle" font-size="33.5">Energy (meV)</text>
<text x="764.8" y="591.3" font-size="43" font-weight="bold">c</text>
<circle cx="793.8" cy="637.1" r="10" fill="#f00"/><circle cx="791.4" cy="634.6" r="4.8" fill="url(#hr)"/>
<circle cx="842.4" cy="650.3" r="10" fill="#f00"/><circle cx="840.0" cy="647.8" r="4.8" fill="url(#hr)"/>
<circle cx="900.2" cy="637.1" r="10" fill="#f00"/><circle cx="897.8" cy="634.6" r="4.8" fill="url(#hr)"/>
<circle cx="945.1" cy="628.0" r="10" fill="#f00"/><circle cx="942.7" cy="625.5" r="4.8" fill="url(#hr)"/>
<g stroke="#f00" stroke-width="3.4"><line x1="994.1" y1="624.3" x2="994.1" y2="649.7"/><line x1="987.9" y1="624.3" x2="1000.3" y2="624.3"/><line x1="987.9" y1="649.7" x2="1000.3" y2="649.7"/></g>
<circle cx="994.1" cy="637.1" r="10" fill="#f00"/><circle cx="991.7" cy="634.6" r="4.8" fill="url(#hr)"/>
<g stroke="#f00" stroke-width="3.4"><line x1="1052.6" y1="611.7" x2="1052.6" y2="637.1"/><line x1="1046.4" y1="611.7" x2="1058.8" y2="611.7"/><line x1="1046.4" y1="637.1" x2="1058.8" y2="637.1"/></g>
<circle cx="1052.6" cy="624.7" r="10" fill="#f00"/><circle cx="1050.2" cy="622.2" r="4.8" fill="url(#hr)"/>
<g stroke="#f00" stroke-width="3.4"><line x1="1140.3" y1="618.5" x2="1140.3" y2="643.6"/><line x1="1134.1" y1="618.5" x2="1146.5" y2="618.5"/><line x1="1134.1" y1="643.6" x2="1146.5" y2="643.6"/></g>
<circle cx="1140.3" cy="631.3" r="10" fill="#f00"/><circle cx="1137.9" cy="628.8" r="4.8" fill="url(#hr)"/>
<g stroke="#f00" stroke-width="3.4"><line x1="1247.8" y1="618.5" x2="1247.8" y2="643.6"/><line x1="1241.6" y1="618.5" x2="1254.0" y2="618.5"/><line x1="1241.6" y1="643.6" x2="1254.0" y2="643.6"/></g>
<circle cx="1247.8" cy="631.3" r="10" fill="#f00"/><circle cx="1245.4" cy="628.8" r="4.8" fill="url(#hr)"/>
<g stroke="#f00" stroke-width="3.4"><line x1="1296.9" y1="618.5" x2="1296.9" y2="643.6"/><line x1="1290.7" y1="618.5" x2="1303.1" y2="618.5"/><line x1="1290.7" y1="643.6" x2="1303.1" y2="643.6"/></g>
<circle cx="1296.9" cy="631.3" r="10" fill="#f00"/><circle cx="1294.5" cy="628.8" r="4.8" fill="url(#hr)"/>
<circle cx="793.8" cy="868.6" r="10" fill="#000"/><circle cx="791.4" cy="866.2" r="5.2" fill="url(#hk)"/>
<circle cx="842.4" cy="863.6" r="10" fill="#000"/><circle cx="840.0" cy="861.2" r="5.2" fill="url(#hk)"/>
<circle cx="900.2" cy="860.2" r="10" fill="#000"/><circle cx="897.8" cy="857.8" r="5.2" fill="url(#hk)"/>
<circle cx="945.1" cy="864.7" r="10" fill="#000"/><circle cx="942.7" cy="862.3" r="5.2" fill="url(#hk)"/>
<g stroke="#000" stroke-width="3.4"><line x1="994.1" y1="847.0" x2="994.1" y2="884.5"/><line x1="987.9" y1="847.0" x2="1000.3" y2="847.0"/><line x1="987.9" y1="884.5" x2="1000.3" y2="884.5"/></g>
<circle cx="994.1" cy="865.8" r="10" fill="#000"/><circle cx="991.7" cy="863.4" r="5.2" fill="url(#hk)"/>
<g stroke="#000" stroke-width="3.4"><line x1="1052.6" y1="857.6" x2="1052.6" y2="876.8"/><line x1="1046.4" y1="857.6" x2="1058.8" y2="857.6"/><line x1="1046.4" y1="876.8" x2="1058.8" y2="876.8"/></g>
<circle cx="1052.6" cy="867.1" r="10" fill="#000"/><circle cx="1050.2" cy="864.7" r="5.2" fill="url(#hk)"/>
<g stroke="#000" stroke-width="3.4"><line x1="1140.3" y1="844.1" x2="1140.3" y2="872.0"/><line x1="1134.1" y1="844.1" x2="1146.5" y2="844.1"/><line x1="1134.1" y1="872.0" x2="1146.5" y2="872.0"/></g>
<circle cx="1140.3" cy="857.7" r="10" fill="#000"/><circle cx="1137.9" cy="855.3" r="5.2" fill="url(#hk)"/>
<g stroke="#000" stroke-width="3.4"><line x1="1247.8" y1="862.1" x2="1247.8" y2="893.0"/><line x1="1241.6" y1="862.1" x2="1254.0" y2="862.1"/><line x1="1241.6" y1="893.0" x2="1254.0" y2="893.0"/></g>
<circle cx="1247.8" cy="877.3" r="10" fill="#000"/><circle cx="1245.4" cy="874.9" r="5.2" fill="url(#hk)"/>
<g stroke="#000" stroke-width="3.4"><line x1="1296.9" y1="843.8" x2="1296.9" y2="906.3"/><line x1="1290.7" y1="843.8" x2="1303.1" y2="843.8"/><line x1="1290.7" y1="906.3" x2="1303.1" y2="906.3"/></g>
<circle cx="1296.9" cy="874.5" r="10" fill="#000"/><circle cx="1294.5" cy="872.1" r="5.2" fill="url(#hk)"/>
</svg></body></html>
